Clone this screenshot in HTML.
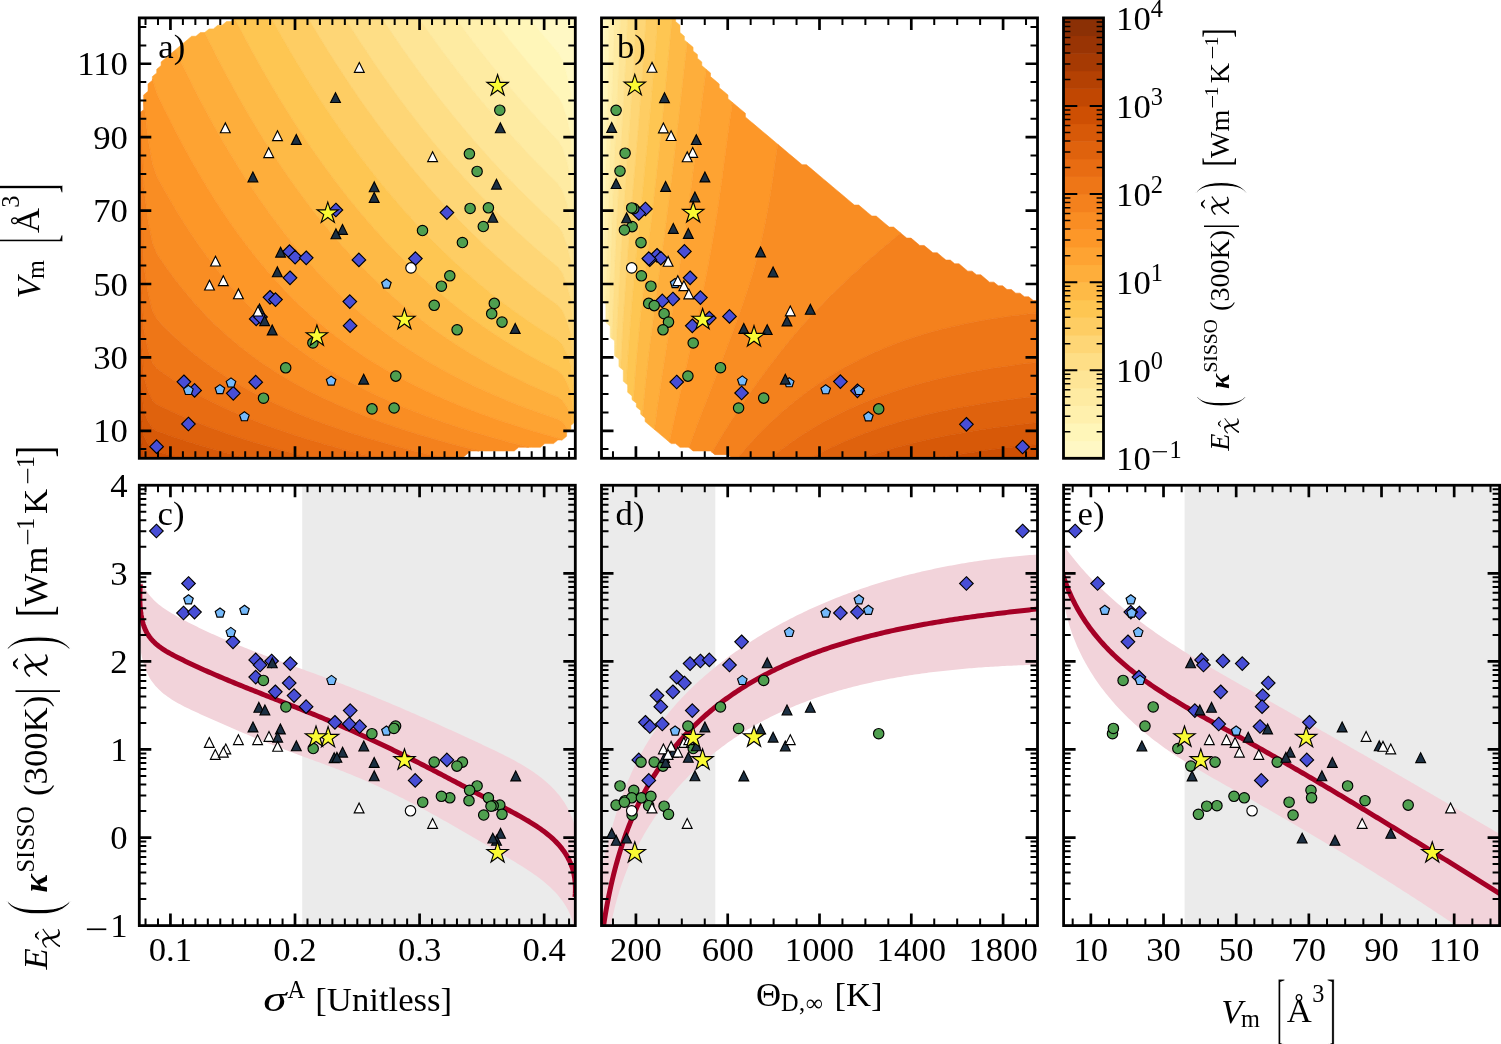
<!DOCTYPE html>
<html><head><meta charset="utf-8"><title>Figure</title>
<style>
html,body{margin:0;padding:0;background:#fff;}
body{width:1501px;height:1044px;overflow:hidden;}
svg{display:block;font-family:'Liberation Serif', 'DejaVu Serif', serif;}
svg text{fill:#000;}
</style></head><body>
<svg width="1501" height="1044" viewBox="0 0 1501 1044">
<defs>
<clipPath id="clip_a"><rect x="139.3" y="17.9" width="436" height="440.4"/></clipPath>
<clipPath id="clip_b"><rect x="601.5" y="17.9" width="436" height="440.4"/></clipPath>
<clipPath id="clip_c"><rect x="139.3" y="485.25" width="436" height="440.35"/></clipPath>
<clipPath id="clip_d"><rect x="601.5" y="485.25" width="436" height="440.35"/></clipPath>
<clipPath id="clip_e"><rect x="1063.6" y="485.25" width="436" height="440.35"/></clipPath>
</defs>
<rect width="1501" height="1044" fill="#fff"/>
<g clip-path="url(#clip_a)" shape-rendering="geometricPrecision">
<path d="M575.12 157.36L575.3 160.15L575.3 157.36L575.3 153.69L575.3 150.02L575.3 146.35L575.3 142.68L575.3 139.01L575.3 135.34L575.3 131.67L575.3 128L575.3 124.33L575.3 120.66L575.3 116.99L575.3 113.32L575.3 109.65L575.3 105.98L575.3 102.31L575.3 98.64L575.3 94.97L575.3 91.3L575.3 87.63L575.3 83.96L575.3 80.29L575.3 76.62L575.3 72.95L575.3 69.28L575.3 65.61L575.3 61.94L575.3 58.27L575.3 54.6L575.3 50.93L575.3 47.26L575.3 43.59L575.3 39.92L575.3 36.25L575.3 32.58L575.3 28.91L575.3 25.24L575.3 21.57L575.3 17.9L570.94 17.9L566.58 17.9L562.22 17.9L557.86 17.9L553.5 17.9L549.14 17.9L544.78 17.9L540.42 17.9L536.06 17.9L531.7 17.9L528.97 17.9L531.7 21.28L531.93 21.57L534.91 25.24L536.06 26.64L537.92 28.91L540.42 31.94L540.95 32.58L544 36.25L544.78 37.19L547.07 39.92L549.14 42.37L550.17 43.59L553.29 47.26L553.5 47.5L556.44 50.93L557.86 52.58L559.03 54.6L561.15 58.27L562.22 60.11L562.8 61.94L563.98 65.61L565.15 69.28L566.34 72.95L566.58 73.71L567.24 76.62L568.06 80.29L568.89 83.96L569.72 87.63L570.56 91.3L570.94 92.98L571.13 94.97L571.45 98.64L571.72 102.31L571.95 105.98L572.16 109.65L572.34 113.32L572.5 116.99L572.72 120.66L572.96 124.33L573.2 128L573.44 131.67L573.68 135.34L573.92 139.01L574.16 142.68L574.39 146.35L574.63 150.02L574.88 153.69Z" fill="#fff8c4" stroke="#fff8c4" stroke-width="0.6"/>
<path d="M575.24 201.4L575.3 202.26L575.3 201.4L575.3 197.73L575.3 194.06L575.3 190.39L575.3 186.72L575.3 183.05L575.3 179.38L575.3 175.71L575.3 172.04L575.3 168.37L575.3 164.7L575.3 161.03L575.3 160.15L575.12 157.36L574.88 153.69L574.63 150.02L574.39 146.35L574.16 142.68L573.92 139.01L573.68 135.34L573.44 131.67L573.2 128L572.96 124.33L572.72 120.66L572.5 116.99L572.34 113.32L572.16 109.65L571.95 105.98L571.72 102.31L571.45 98.64L571.13 94.97L570.94 92.98L570.56 91.3L569.72 87.63L568.89 83.96L568.06 80.29L567.24 76.62L566.58 73.71L566.34 72.95L565.15 69.28L563.98 65.61L562.8 61.94L562.22 60.11L561.15 58.27L559.03 54.6L557.86 52.58L556.44 50.93L553.5 47.5L553.29 47.26L550.17 43.59L549.14 42.37L547.07 39.92L544.78 37.19L544 36.25L540.95 32.58L540.42 31.94L537.92 28.91L536.06 26.64L534.91 25.24L531.93 21.57L531.7 21.28L528.97 17.9L527.34 17.9L522.98 17.9L518.62 17.9L514.26 17.9L509.9 17.9L505.54 17.9L501.18 17.9L496.82 17.9L492.46 17.9L492.16 17.9L492.46 18.29L494.98 21.57L496.82 23.94L497.83 25.24L500.7 28.91L501.18 29.52L503.59 32.58L505.54 35.04L506.5 36.25L509.43 39.92L509.9 40.5L512.39 43.59L514.26 45.9L515.37 47.26L518.37 50.93L518.62 51.23L521.4 54.6L522.98 56.5L524.45 58.27L527.34 61.72L527.53 61.94L530.63 65.61L531.7 66.88L533.75 69.28L536.06 71.97L536.9 72.95L540.07 76.62L540.42 77.02L543.28 80.29L544.78 82L546.5 83.96L549.14 86.94L549.76 87.63L553.04 91.3L553.5 91.81L556.35 94.97L557.86 96.64L559.06 98.64L561.26 102.31L562.22 103.91L562.89 105.98L564.09 109.65L565.3 113.32L566.51 116.99L566.58 117.21L567.37 120.66L568.21 124.33L569.06 128L569.9 131.67L570.75 135.34L570.94 136.14L571.13 139.01L571.36 142.68L571.6 146.35L571.84 150.02L572.08 153.69L572.32 157.36L572.56 161.03L572.8 164.7L573.05 168.37L573.29 172.04L573.53 175.71L573.77 179.38L574.02 183.05L574.26 186.72L574.51 190.39L574.75 194.06L575 197.73Z" fill="#fff6b9" stroke="#fff6b9" stroke-width="0.6"/>
<path d="M575.2 241.77L575.3 243.26L575.3 241.77L575.3 238.1L575.3 234.43L575.3 230.76L575.3 227.09L575.3 223.42L575.3 219.75L575.3 216.08L575.3 212.41L575.3 208.74L575.3 205.07L575.3 202.26L575.24 201.4L575 197.73L574.75 194.06L574.51 190.39L574.26 186.72L574.02 183.05L573.77 179.38L573.53 175.71L573.29 172.04L573.05 168.37L572.8 164.7L572.56 161.03L572.32 157.36L572.08 153.69L571.84 150.02L571.6 146.35L571.36 142.68L571.13 139.01L570.94 136.14L570.75 135.34L569.9 131.67L569.06 128L568.21 124.33L567.37 120.66L566.58 117.21L566.51 116.99L565.3 113.32L564.09 109.65L562.89 105.98L562.22 103.91L561.26 102.31L559.06 98.64L557.86 96.64L556.35 94.97L553.5 91.81L553.04 91.3L549.76 87.63L549.14 86.94L546.5 83.96L544.78 82L543.28 80.29L540.42 77.02L540.07 76.62L536.9 72.95L536.06 71.97L533.75 69.28L531.7 66.88L530.63 65.61L527.53 61.94L527.34 61.72L524.45 58.27L522.98 56.5L521.4 54.6L518.62 51.23L518.37 50.93L515.37 47.26L514.26 45.9L512.39 43.59L509.9 40.5L509.43 39.92L506.5 36.25L505.54 35.04L503.59 32.58L501.18 29.52L500.7 28.91L497.83 25.24L496.82 23.94L494.98 21.57L492.46 18.29L492.16 17.9L488.1 17.9L483.74 17.9L479.38 17.9L475.02 17.9L470.66 17.9L466.3 17.9L461.94 17.9L457.58 17.9L455.35 17.9L457.58 20.95L458.04 21.57L460.75 25.24L461.94 26.85L463.48 28.91L466.23 32.58L466.3 32.68L469 36.25L470.66 38.43L471.79 39.92L474.61 43.59L475.02 44.12L477.45 47.26L479.38 49.74L480.31 50.93L483.19 54.6L483.74 55.3L486.09 58.27L488.1 60.79L489.02 61.94L491.97 65.61L492.46 66.21L494.95 69.28L496.82 71.58L497.95 72.95L500.97 76.62L501.18 76.87L504.02 80.29L505.54 82.11L507.09 83.96L509.9 87.29L510.19 87.63L513.32 91.3L514.26 92.4L516.47 94.97L518.62 97.46L519.65 98.64L522.85 102.31L522.98 102.46L526.08 105.98L527.34 107.4L529.35 109.65L531.7 112.28L532.63 113.32L535.95 116.99L536.06 117.11L539.3 120.66L540.42 121.88L542.68 124.33L544.78 126.6L546.08 128L549.14 131.26L549.52 131.67L552.99 135.34L553.5 135.87L556.5 139.01L557.86 140.43L559.26 142.68L561.55 146.35L562.22 147.42L563.09 150.02L564.32 153.69L565.56 157.36L566.58 160.37L566.73 161.03L567.6 164.7L568.46 168.37L569.32 172.04L570.19 175.71L570.94 178.85L570.97 179.38L571.22 183.05L571.46 186.72L571.7 190.39L571.95 194.06L572.19 197.73L572.44 201.4L572.69 205.07L572.93 208.74L573.18 212.41L573.43 216.08L573.68 219.75L573.93 223.42L574.18 227.09L574.43 230.76L574.69 234.43L574.94 238.1Z" fill="#fff0ad" stroke="#fff0ad" stroke-width="0.6"/>
<path d="M575.28 282.14L575.3 282.44L575.3 282.14L575.3 278.47L575.3 274.8L575.3 271.13L575.3 267.46L575.3 263.79L575.3 260.12L575.3 256.45L575.3 252.78L575.3 249.11L575.3 245.44L575.3 243.26L575.2 241.77L574.94 238.1L574.69 234.43L574.43 230.76L574.18 227.09L573.93 223.42L573.68 219.75L573.43 216.08L573.18 212.41L572.93 208.74L572.69 205.07L572.44 201.4L572.19 197.73L571.95 194.06L571.7 190.39L571.46 186.72L571.22 183.05L570.97 179.38L570.94 178.85L570.19 175.71L569.32 172.04L568.46 168.37L567.6 164.7L566.73 161.03L566.58 160.37L565.56 157.36L564.32 153.69L563.09 150.02L562.22 147.42L561.55 146.35L559.26 142.68L557.86 140.43L556.5 139.01L553.5 135.87L552.99 135.34L549.52 131.67L549.14 131.26L546.08 128L544.78 126.6L542.68 124.33L540.42 121.88L539.3 120.66L536.06 117.11L535.95 116.99L532.63 113.32L531.7 112.28L529.35 109.65L527.34 107.4L526.08 105.98L522.98 102.46L522.85 102.31L519.65 98.64L518.62 97.46L516.47 94.97L514.26 92.4L513.32 91.3L510.19 87.63L509.9 87.29L507.09 83.96L505.54 82.11L504.02 80.29L501.18 76.87L500.97 76.62L497.95 72.95L496.82 71.58L494.95 69.28L492.46 66.21L491.97 65.61L489.02 61.94L488.1 60.79L486.09 58.27L483.74 55.3L483.19 54.6L480.31 50.93L479.38 49.74L477.45 47.26L475.02 44.12L474.61 43.59L471.79 39.92L470.66 38.43L469 36.25L466.3 32.68L466.23 32.58L463.48 28.91L461.94 26.85L460.75 25.24L458.04 21.57L457.58 20.95L455.35 17.9L453.22 17.9L448.86 17.9L444.5 17.9L440.14 17.9L435.78 17.9L431.42 17.9L427.06 17.9L422.7 17.9L418.54 17.9L421.09 21.57L422.7 23.87L423.66 25.24L426.26 28.91L427.06 30.04L428.87 32.58L431.42 36.14L431.5 36.25L434.15 39.92L435.78 42.15L436.83 43.59L439.52 47.26L440.14 48.1L442.24 50.93L444.5 53.96L444.98 54.6L447.73 58.27L448.86 59.76L450.52 61.94L453.22 65.48L453.32 65.61L456.14 69.28L457.58 71.13L458.99 72.95L461.87 76.62L461.94 76.71L464.76 80.29L466.3 82.23L467.68 83.96L470.62 87.63L470.66 87.67L473.59 91.3L475.02 93.05L476.59 94.97L479.38 98.37L479.61 98.64L482.65 102.31L483.74 103.61L485.72 105.98L488.1 108.8L488.82 109.65L491.95 113.32L492.46 113.92L495.1 116.99L496.82 118.98L498.28 120.66L501.18 123.98L501.49 124.33L504.73 128L505.54 128.92L507.99 131.67L509.9 133.79L511.29 135.34L514.26 138.61L514.62 139.01L517.98 142.68L518.62 143.38L521.37 146.35L522.98 148.08L524.79 150.02L527.34 152.73L528.25 153.69L531.7 157.32L531.74 157.36L535.26 161.03L536.06 161.86L538.82 164.7L540.42 166.34L542.42 168.37L544.78 170.76L546.05 172.04L549.14 175.14L549.71 175.71L553.42 179.38L553.5 179.46L557.16 183.05L557.86 183.73L559.81 186.72L562.22 190.39L562.22 190.39L563.49 194.06L564.77 197.73L566.06 201.4L566.58 202.88L567.11 205.07L568 208.74L568.89 212.41L569.79 216.08L570.69 219.75L570.94 220.74L571.12 223.42L571.37 227.09L571.62 230.76L571.88 234.43L572.13 238.1L572.38 241.77L572.64 245.44L572.9 249.11L573.16 252.78L573.42 256.45L573.68 260.12L573.94 263.79L574.2 267.46L574.47 271.13L574.74 274.8L575.01 278.47Z" fill="#feeba2" stroke="#feeba2" stroke-width="0.6"/>
<path d="M575.3 318.84L575.3 318.88L575.3 318.84L575.3 315.17L575.3 311.5L575.3 307.83L575.3 304.16L575.3 300.49L575.3 296.82L575.3 293.15L575.3 289.48L575.3 285.81L575.3 282.44L575.28 282.14L575.01 278.47L574.74 274.8L574.47 271.13L574.2 267.46L573.94 263.79L573.68 260.12L573.42 256.45L573.16 252.78L572.9 249.11L572.64 245.44L572.38 241.77L572.13 238.1L571.88 234.43L571.62 230.76L571.37 227.09L571.12 223.42L570.94 220.74L570.69 219.75L569.79 216.08L568.89 212.41L568 208.74L567.11 205.07L566.58 202.88L566.06 201.4L564.77 197.73L563.49 194.06L562.22 190.39L562.22 190.39L559.81 186.72L557.86 183.73L557.16 183.05L553.5 179.46L553.42 179.38L549.71 175.71L549.14 175.14L546.05 172.04L544.78 170.76L542.42 168.37L540.42 166.34L538.82 164.7L536.06 161.86L535.26 161.03L531.74 157.36L531.7 157.32L528.25 153.69L527.34 152.73L524.79 150.02L522.98 148.08L521.37 146.35L518.62 143.38L517.98 142.68L514.62 139.01L514.26 138.61L511.29 135.34L509.9 133.79L507.99 131.67L505.54 128.92L504.73 128L501.49 124.33L501.18 123.98L498.28 120.66L496.82 118.98L495.1 116.99L492.46 113.92L491.95 113.32L488.82 109.65L488.1 108.8L485.72 105.98L483.74 103.61L482.65 102.31L479.61 98.64L479.38 98.37L476.59 94.97L475.02 93.05L473.59 91.3L470.66 87.67L470.62 87.63L467.68 83.96L466.3 82.23L464.76 80.29L461.94 76.71L461.87 76.62L458.99 72.95L457.58 71.13L456.14 69.28L453.32 65.61L453.22 65.48L450.52 61.94L448.86 59.76L447.73 58.27L444.98 54.6L444.5 53.96L442.24 50.93L440.14 48.1L439.52 47.26L436.83 43.59L435.78 42.15L434.15 39.92L431.5 36.25L431.42 36.14L428.87 32.58L427.06 30.04L426.26 28.91L423.66 25.24L422.7 23.87L421.09 21.57L418.54 17.9L418.34 17.9L413.98 17.9L409.62 17.9L405.26 17.9L400.9 17.9L396.54 17.9L392.18 17.9L387.82 17.9L383.46 17.9L381.72 17.9L383.46 20.54L384.14 21.57L386.58 25.24L387.82 27.1L389.04 28.91L391.51 32.58L392.18 33.57L394 36.25L396.52 39.92L396.54 39.96L399.05 43.59L400.9 46.26L401.6 47.26L404.17 50.93L405.26 52.47L406.76 54.6L409.38 58.27L409.62 58.61L412.01 61.94L413.98 64.67L414.67 65.61L417.34 69.28L418.34 70.64L420.04 72.95L422.7 76.54L422.76 76.62L425.5 80.29L427.06 82.36L428.27 83.96L431.06 87.63L431.42 88.1L433.87 91.3L435.78 93.77L436.71 94.97L439.57 98.64L440.14 99.37L442.45 102.31L444.5 104.9L445.36 105.98L448.3 109.65L448.86 110.35L451.26 113.32L453.22 115.73L454.24 116.99L457.26 120.66L457.58 121.05L460.3 124.33L461.94 126.3L463.37 128L466.3 131.48L466.46 131.67L469.59 135.34L470.66 136.59L472.74 139.01L475.02 141.64L475.93 142.68L479.14 146.35L479.38 146.62L482.39 150.02L483.74 151.54L485.66 153.69L488.1 156.4L488.97 157.36L492.31 161.03L492.46 161.19L495.69 164.7L496.82 165.92L499.1 168.37L501.18 170.6L502.54 172.04L505.54 175.21L506.02 175.71L509.53 179.38L509.9 179.76L513.08 183.05L514.26 184.26L516.67 186.72L518.62 188.69L520.3 190.39L522.98 193.07L523.97 194.06L527.34 197.39L527.68 197.73L531.43 201.4L531.7 201.66L535.22 205.07L536.06 205.87L539.06 208.74L540.42 210.03L542.94 212.41L544.78 214.13L546.87 216.08L549.14 218.18L550.85 219.75L553.5 222.17L554.87 223.42L557.86 226.11L558.54 227.09L561.09 230.76L562.22 232.37L562.97 234.43L564.31 238.1L565.66 241.77L566.58 244.26L566.88 245.44L567.81 249.11L568.75 252.78L569.7 256.45L570.65 260.12L570.94 261.23L571.12 263.79L571.39 267.46L571.65 271.13L571.92 274.8L572.19 278.47L572.46 282.14L572.73 285.81L573 289.48L573.28 293.15L573.56 296.82L573.84 300.49L574.13 304.16L574.42 307.83L574.71 311.5L575 315.17Z" fill="#fee596" stroke="#fee596" stroke-width="0.6"/>
<path d="M574.98 348.2L575.3 351.7L575.3 348.2L575.3 344.53L575.3 340.86L575.3 337.19L575.3 333.52L575.3 329.85L575.3 326.18L575.3 322.51L575.3 318.88L575.3 318.84L575 315.17L574.71 311.5L574.42 307.83L574.13 304.16L573.84 300.49L573.56 296.82L573.28 293.15L573 289.48L572.73 285.81L572.46 282.14L572.19 278.47L571.92 274.8L571.65 271.13L571.39 267.46L571.12 263.79L570.94 261.23L570.65 260.12L569.7 256.45L568.75 252.78L567.81 249.11L566.88 245.44L566.58 244.26L565.66 241.77L564.31 238.1L562.97 234.43L562.22 232.37L561.09 230.76L558.54 227.09L557.86 226.11L554.87 223.42L553.5 222.17L550.85 219.75L549.14 218.18L546.87 216.08L544.78 214.13L542.94 212.41L540.42 210.03L539.06 208.74L536.06 205.87L535.22 205.07L531.7 201.66L531.43 201.4L527.68 197.73L527.34 197.39L523.97 194.06L522.98 193.07L520.3 190.39L518.62 188.69L516.67 186.72L514.26 184.26L513.08 183.05L509.9 179.76L509.53 179.38L506.02 175.71L505.54 175.21L502.54 172.04L501.18 170.6L499.1 168.37L496.82 165.92L495.69 164.7L492.46 161.19L492.31 161.03L488.97 157.36L488.1 156.4L485.66 153.69L483.74 151.54L482.39 150.02L479.38 146.62L479.14 146.35L475.93 142.68L475.02 141.64L472.74 139.01L470.66 136.59L469.59 135.34L466.46 131.67L466.3 131.48L463.37 128L461.94 126.3L460.3 124.33L457.58 121.05L457.26 120.66L454.24 116.99L453.22 115.73L451.26 113.32L448.86 110.35L448.3 109.65L445.36 105.98L444.5 104.9L442.45 102.31L440.14 99.37L439.57 98.64L436.71 94.97L435.78 93.77L433.87 91.3L431.42 88.1L431.06 87.63L428.27 83.96L427.06 82.36L425.5 80.29L422.76 76.62L422.7 76.54L420.04 72.95L418.34 70.64L417.34 69.28L414.67 65.61L413.98 64.67L412.01 61.94L409.62 58.61L409.38 58.27L406.76 54.6L405.26 52.47L404.17 50.93L401.6 47.26L400.9 46.26L399.05 43.59L396.54 39.96L396.52 39.92L394 36.25L392.18 33.57L391.51 32.58L389.04 28.91L387.82 27.1L386.58 25.24L384.14 21.57L383.46 20.54L381.72 17.9L379.1 17.9L374.74 17.9L370.38 17.9L366.02 17.9L361.66 17.9L357.3 17.9L352.94 17.9L348.58 17.9L344.91 17.9L347.2 21.57L348.58 23.78L349.5 25.24L351.81 28.91L352.94 30.68L354.15 32.58L356.5 36.25L357.3 37.49L358.88 39.92L361.27 43.59L361.66 44.19L363.68 47.26L366.02 50.8L366.1 50.93L368.55 54.6L370.38 57.32L371.02 58.27L373.51 61.94L374.74 63.75L376.01 65.61L378.54 69.28L379.1 70.09L381.09 72.95L383.46 76.34L383.66 76.62L386.25 80.29L387.82 82.5L388.86 83.96L391.49 87.63L392.18 88.58L394.15 91.3L396.54 94.58L396.83 94.97L399.53 98.64L400.9 100.49L402.25 102.31L405 105.98L405.26 106.33L407.77 109.65L409.62 112.08L410.57 113.32L413.39 116.99L413.98 117.75L416.24 120.66L418.34 123.35L419.11 124.33L422.01 128L422.7 128.87L424.94 131.67L427.06 134.31L427.89 135.34L430.87 139.01L431.42 139.68L433.88 142.68L435.78 144.98L436.91 146.35L439.98 150.02L440.14 150.21L443.08 153.69L444.5 155.36L446.2 157.36L448.86 160.45L449.36 161.03L452.55 164.7L453.22 165.46L455.78 168.37L457.58 170.41L459.03 172.04L461.94 175.29L462.32 175.71L465.64 179.38L466.3 180.1L469 183.05L470.66 184.84L472.4 186.72L475.02 189.53L475.83 190.39L479.3 194.06L479.38 194.14L482.81 197.73L483.74 198.69L486.36 201.4L488.1 203.18L489.95 205.07L492.46 207.61L493.58 208.74L496.82 211.97L497.26 212.41L500.98 216.08L501.18 216.28L504.75 219.75L505.54 220.52L508.56 223.42L509.9 224.7L512.42 227.09L514.26 228.82L516.33 230.76L518.62 232.89L520.29 234.43L522.98 236.89L524.3 238.1L527.34 240.84L528.37 241.77L531.7 244.73L532.5 245.44L536.06 248.57L536.68 249.11L540.42 252.35L540.92 252.78L544.78 256.07L545.22 256.45L549.14 259.74L549.59 260.12L553.5 263.36L554.02 263.79L557.86 266.92L558.26 267.46L561.04 271.13L562.22 272.68L563.05 274.8L564.49 278.47L565.94 282.14L566.58 283.74L567.14 285.81L568.15 289.48L569.17 293.15L570.2 296.82L570.94 299.45L571.02 300.49L571.3 304.16L571.59 307.83L571.88 311.5L572.17 315.17L572.47 318.84L572.77 322.51L573.07 326.18L573.38 329.85L573.69 333.52L574.01 337.19L574.33 340.86L574.65 344.53Z" fill="#fede86" stroke="#fede86" stroke-width="0.6"/>
<path d="M575 377.56L575.3 380.39L575.3 377.56L575.3 373.89L575.3 370.22L575.3 366.55L575.3 362.88L575.3 359.21L575.3 355.54L575.3 351.87L575.3 351.7L574.98 348.2L574.65 344.53L574.33 340.86L574.01 337.19L573.69 333.52L573.38 329.85L573.07 326.18L572.77 322.51L572.47 318.84L572.17 315.17L571.88 311.5L571.59 307.83L571.3 304.16L571.02 300.49L570.94 299.45L570.2 296.82L569.17 293.15L568.15 289.48L567.14 285.81L566.58 283.74L565.94 282.14L564.49 278.47L563.05 274.8L562.22 272.68L561.04 271.13L558.26 267.46L557.86 266.92L554.02 263.79L553.5 263.36L549.59 260.12L549.14 259.74L545.22 256.45L544.78 256.07L540.92 252.78L540.42 252.35L536.68 249.11L536.06 248.57L532.5 245.44L531.7 244.73L528.37 241.77L527.34 240.84L524.3 238.1L522.98 236.89L520.29 234.43L518.62 232.89L516.33 230.76L514.26 228.82L512.42 227.09L509.9 224.7L508.56 223.42L505.54 220.52L504.75 219.75L501.18 216.28L500.98 216.08L497.26 212.41L496.82 211.97L493.58 208.74L492.46 207.61L489.95 205.07L488.1 203.18L486.36 201.4L483.74 198.69L482.81 197.73L479.38 194.14L479.3 194.06L475.83 190.39L475.02 189.53L472.4 186.72L470.66 184.84L469 183.05L466.3 180.1L465.64 179.38L462.32 175.71L461.94 175.29L459.03 172.04L457.58 170.41L455.78 168.37L453.22 165.46L452.55 164.7L449.36 161.03L448.86 160.45L446.2 157.36L444.5 155.36L443.08 153.69L440.14 150.21L439.98 150.02L436.91 146.35L435.78 144.98L433.88 142.68L431.42 139.68L430.87 139.01L427.89 135.34L427.06 134.31L424.94 131.67L422.7 128.87L422.01 128L419.11 124.33L418.34 123.35L416.24 120.66L413.98 117.75L413.39 116.99L410.57 113.32L409.62 112.08L407.77 109.65L405.26 106.33L405 105.98L402.25 102.31L400.9 100.49L399.53 98.64L396.83 94.97L396.54 94.58L394.15 91.3L392.18 88.58L391.49 87.63L388.86 83.96L387.82 82.5L386.25 80.29L383.66 76.62L383.46 76.34L381.09 72.95L379.1 70.09L378.54 69.28L376.01 65.61L374.74 63.75L373.51 61.94L371.02 58.27L370.38 57.32L368.55 54.6L366.1 50.93L366.02 50.8L363.68 47.26L361.66 44.19L361.27 43.59L358.88 39.92L357.3 37.49L356.5 36.25L354.15 32.58L352.94 30.68L351.81 28.91L349.5 25.24L348.58 23.78L347.2 21.57L344.91 17.9L344.22 17.9L339.86 17.9L335.5 17.9L331.14 17.9L326.78 17.9L322.42 17.9L318.06 17.9L313.7 17.9L309.34 17.9L308.1 17.9L309.34 20.02L310.25 21.57L312.41 25.24L313.7 27.41L314.59 28.91L316.79 32.58L318.06 34.69L319 36.25L321.24 39.92L322.42 41.85L323.49 43.59L325.75 47.26L326.78 48.91L328.04 50.93L330.34 54.6L331.14 55.87L332.66 58.27L335 61.94L335.5 62.72L337.36 65.61L339.74 69.28L339.86 69.47L342.13 72.95L344.22 76.12L344.55 76.62L346.99 80.29L348.58 82.67L349.45 83.96L351.93 87.63L352.94 89.12L354.42 91.3L356.95 94.97L357.3 95.48L359.49 98.64L361.66 101.75L362.05 102.31L364.64 105.98L366.02 107.93L367.25 109.65L369.88 113.32L370.38 114.01L372.54 116.99L374.74 120.01L375.22 120.66L377.92 124.33L379.1 125.92L380.65 128L383.41 131.67L383.46 131.74L386.19 135.34L387.82 137.48L388.99 139.01L391.83 142.68L392.18 143.14L394.69 146.35L396.54 148.71L397.58 150.02L400.49 153.69L400.9 154.2L403.44 157.36L405.26 159.61L406.41 161.03L409.42 164.7L409.62 164.94L412.46 168.37L413.98 170.2L415.52 172.04L418.34 175.38L418.62 175.71L421.76 179.38L422.7 180.48L424.92 183.05L427.06 185.5L428.12 186.72L431.36 190.39L431.42 190.46L434.63 194.06L435.78 195.33L437.94 197.73L440.14 200.14L441.29 201.4L444.5 204.88L444.68 205.07L448.11 208.74L448.86 209.54L451.58 212.41L453.22 214.13L455.09 216.08L457.58 218.66L458.64 219.75L461.94 223.11L462.24 223.42L465.89 227.09L466.3 227.5L469.58 230.76L470.66 231.82L473.33 234.43L475.02 236.07L477.12 238.1L479.38 240.26L480.96 241.77L483.74 244.39L484.86 245.44L488.1 248.45L488.82 249.11L492.46 252.44L492.83 252.78L496.82 256.38L496.9 256.45L501.04 260.12L501.18 260.25L505.23 263.79L505.54 264.06L509.5 267.46L509.9 267.8L513.83 271.13L514.26 271.49L518.23 274.8L518.62 275.12L522.7 278.47L522.98 278.69L527.26 282.14L527.34 282.21L531.7 285.66L531.89 285.81L536.06 289.06L536.6 289.48L540.42 292.4L541.4 293.15L544.78 295.69L546.29 296.82L549.14 298.93L551.27 300.49L553.5 302.11L556.35 304.16L557.86 305.23L560.04 307.83L562.22 310.38L562.7 311.5L564.29 315.17L565.9 318.84L566.58 320.37L567.23 322.51L568.35 326.18L569.48 329.85L570.64 333.52L570.94 334.47L571.17 337.19L571.49 340.86L571.82 344.53L572.15 348.2L572.48 351.87L572.82 355.54L573.17 359.21L573.52 362.88L573.88 366.55L574.24 370.22L574.62 373.89Z" fill="#fed676" stroke="#fed676" stroke-width="0.6"/>
<path d="M575.09 403.25L575.3 404.96L575.3 403.25L575.3 399.58L575.3 395.91L575.3 392.24L575.3 388.57L575.3 384.9L575.3 381.23L575.3 380.39L575 377.56L574.62 373.89L574.24 370.22L573.88 366.55L573.52 362.88L573.17 359.21L572.82 355.54L572.48 351.87L572.15 348.2L571.82 344.53L571.49 340.86L571.17 337.19L570.94 334.47L570.64 333.52L569.48 329.85L568.35 326.18L567.23 322.51L566.58 320.37L565.9 318.84L564.29 315.17L562.7 311.5L562.22 310.38L560.04 307.83L557.86 305.23L556.35 304.16L553.5 302.11L551.27 300.49L549.14 298.93L546.29 296.82L544.78 295.69L541.4 293.15L540.42 292.4L536.6 289.48L536.06 289.06L531.89 285.81L531.7 285.66L527.34 282.21L527.26 282.14L522.98 278.69L522.7 278.47L518.62 275.12L518.23 274.8L514.26 271.49L513.83 271.13L509.9 267.8L509.5 267.46L505.54 264.06L505.23 263.79L501.18 260.25L501.04 260.12L496.9 256.45L496.82 256.38L492.83 252.78L492.46 252.44L488.82 249.11L488.1 248.45L484.86 245.44L483.74 244.39L480.96 241.77L479.38 240.26L477.12 238.1L475.02 236.07L473.33 234.43L470.66 231.82L469.58 230.76L466.3 227.5L465.89 227.09L462.24 223.42L461.94 223.11L458.64 219.75L457.58 218.66L455.09 216.08L453.22 214.13L451.58 212.41L448.86 209.54L448.11 208.74L444.68 205.07L444.5 204.88L441.29 201.4L440.14 200.14L437.94 197.73L435.78 195.33L434.63 194.06L431.42 190.46L431.36 190.39L428.12 186.72L427.06 185.5L424.92 183.05L422.7 180.48L421.76 179.38L418.62 175.71L418.34 175.38L415.52 172.04L413.98 170.2L412.46 168.37L409.62 164.94L409.42 164.7L406.41 161.03L405.26 159.61L403.44 157.36L400.9 154.2L400.49 153.69L397.58 150.02L396.54 148.71L394.69 146.35L392.18 143.14L391.83 142.68L388.99 139.01L387.82 137.48L386.19 135.34L383.46 131.74L383.41 131.67L380.65 128L379.1 125.92L377.92 124.33L375.22 120.66L374.74 120.01L372.54 116.99L370.38 114.01L369.88 113.32L367.25 109.65L366.02 107.93L364.64 105.98L362.05 102.31L361.66 101.75L359.49 98.64L357.3 95.48L356.95 94.97L354.42 91.3L352.94 89.12L351.93 87.63L349.45 83.96L348.58 82.67L346.99 80.29L344.55 76.62L344.22 76.12L342.13 72.95L339.86 69.47L339.74 69.28L337.36 65.61L335.5 62.72L335 61.94L332.66 58.27L331.14 55.87L330.34 54.6L328.04 50.93L326.78 48.91L325.75 47.26L323.49 43.59L322.42 41.85L321.24 39.92L319 36.25L318.06 34.69L316.79 32.58L314.59 28.91L313.7 27.41L312.41 25.24L310.25 21.57L309.34 20.02L308.1 17.9L304.98 17.9L300.62 17.9L296.26 17.9L291.9 17.9L287.54 17.9L283.18 17.9L278.82 17.9L274.46 17.9L271.29 17.9L273.3 21.57L274.46 23.67L275.33 25.24L277.37 28.91L278.82 31.49L279.43 32.58L281.51 36.25L283.18 39.19L283.6 39.92L285.7 43.59L287.54 46.76L287.83 47.26L289.97 50.93L291.9 54.21L292.13 54.6L294.3 58.27L296.26 61.55L296.5 61.94L298.71 65.61L300.62 68.76L300.93 69.28L303.18 72.95L304.98 75.87L305.45 76.62L307.73 80.29L309.34 82.86L310.04 83.96L312.36 87.63L313.7 89.73L314.7 91.3L317.06 94.97L318.06 96.51L319.45 98.64L321.85 102.31L322.42 103.17L324.28 105.98L326.72 109.65L326.78 109.73L329.19 113.32L331.14 116.19L331.68 116.99L334.2 120.66L335.5 122.55L336.73 124.33L339.29 128L339.86 128.81L341.88 131.67L344.22 134.97L344.48 135.34L347.12 139.01L348.58 141.03L349.78 142.68L352.46 146.35L352.94 147L355.17 150.02L357.3 152.88L357.91 153.69L360.67 157.36L361.66 158.66L363.46 161.03L366.02 164.36L366.28 164.7L369.13 168.37L370.38 169.96L372.02 172.04L374.74 175.48L374.93 175.71L377.87 179.38L379.1 180.9L380.84 183.05L383.46 186.25L383.85 186.72L386.89 190.39L387.82 191.5L389.97 194.06L392.18 196.68L393.08 197.73L396.22 201.4L396.54 201.77L399.41 205.07L400.9 206.77L402.63 208.74L405.26 211.7L405.89 212.41L409.2 216.08L409.62 216.55L412.54 219.75L413.98 221.31L415.93 223.42L418.34 226L419.36 227.09L422.7 230.62L422.84 230.76L426.36 234.43L427.06 235.15L429.93 238.1L431.42 239.61L433.56 241.77L435.78 244L437.23 245.44L440.14 248.31L440.96 249.11L444.5 252.55L444.74 252.78L448.58 256.45L448.86 256.71L452.48 260.12L453.22 260.81L456.44 263.79L457.58 264.83L460.47 267.46L461.94 268.79L464.56 271.13L466.3 272.67L468.72 274.8L470.66 276.49L472.95 278.47L475.02 280.24L477.25 282.14L479.38 283.93L481.63 285.81L483.74 287.55L486.09 289.48L488.1 291.11L490.64 293.15L492.46 294.6L495.27 296.82L496.82 298.03L499.99 300.49L501.18 301.4L504.8 304.16L505.54 304.71L509.72 307.83L509.9 307.96L514.26 311.15L514.73 311.5L518.62 314.29L519.86 315.17L522.98 317.36L525.09 318.84L527.34 320.39L530.45 322.51L531.7 323.35L535.92 326.18L536.06 326.27L540.42 329.13L541.52 329.85L544.78 331.94L547.26 333.52L549.14 334.7L553.14 337.19L553.5 337.41L557.86 340.07L558.62 340.86L562.22 344.53L562.22 344.53L564.03 348.2L565.87 351.87L566.58 353.25L567.37 355.54L568.66 359.21L569.97 362.88L570.94 365.53L571.04 366.55L571.41 370.22L571.78 373.89L572.16 377.56L572.55 381.23L572.95 384.9L573.35 388.57L573.77 392.24L574.2 395.91L574.64 399.58Z" fill="#fecd63" stroke="#fecd63" stroke-width="0.6"/>
<path d="M574.75 422.06L575.3 421.6L575.3 417.93L575.3 414.26L575.3 410.59L575.3 406.92L575.3 404.96L575.09 403.25L574.64 399.58L574.2 395.91L573.77 392.24L573.35 388.57L572.95 384.9L572.55 381.23L572.16 377.56L571.78 373.89L571.41 370.22L571.04 366.55L570.94 365.53L569.97 362.88L568.66 359.21L567.37 355.54L566.58 353.25L565.87 351.87L564.03 348.2L562.22 344.53L562.22 344.53L558.62 340.86L557.86 340.07L553.5 337.41L553.14 337.19L549.14 334.7L547.26 333.52L544.78 331.94L541.52 329.85L540.42 329.13L536.06 326.27L535.92 326.18L531.7 323.35L530.45 322.51L527.34 320.39L525.09 318.84L522.98 317.36L519.86 315.17L518.62 314.29L514.73 311.5L514.26 311.15L509.9 307.96L509.72 307.83L505.54 304.71L504.8 304.16L501.18 301.4L499.99 300.49L496.82 298.03L495.27 296.82L492.46 294.6L490.64 293.15L488.1 291.11L486.09 289.48L483.74 287.55L481.63 285.81L479.38 283.93L477.25 282.14L475.02 280.24L472.95 278.47L470.66 276.49L468.72 274.8L466.3 272.67L464.56 271.13L461.94 268.79L460.47 267.46L457.58 264.83L456.44 263.79L453.22 260.81L452.48 260.12L448.86 256.71L448.58 256.45L444.74 252.78L444.5 252.55L440.96 249.11L440.14 248.31L437.23 245.44L435.78 244L433.56 241.77L431.42 239.61L429.93 238.1L427.06 235.15L426.36 234.43L422.84 230.76L422.7 230.62L419.36 227.09L418.34 226L415.93 223.42L413.98 221.31L412.54 219.75L409.62 216.55L409.2 216.08L405.89 212.41L405.26 211.7L402.63 208.74L400.9 206.77L399.41 205.07L396.54 201.77L396.22 201.4L393.08 197.73L392.18 196.68L389.97 194.06L387.82 191.5L386.89 190.39L383.85 186.72L383.46 186.25L380.84 183.05L379.1 180.9L377.87 179.38L374.93 175.71L374.74 175.48L372.02 172.04L370.38 169.96L369.13 168.37L366.28 164.7L366.02 164.36L363.46 161.03L361.66 158.66L360.67 157.36L357.91 153.69L357.3 152.88L355.17 150.02L352.94 147L352.46 146.35L349.78 142.68L348.58 141.03L347.12 139.01L344.48 135.34L344.22 134.97L341.88 131.67L339.86 128.81L339.29 128L336.73 124.33L335.5 122.55L334.2 120.66L331.68 116.99L331.14 116.19L329.19 113.32L326.78 109.73L326.72 109.65L324.28 105.98L322.42 103.17L321.85 102.31L319.45 98.64L318.06 96.51L317.06 94.97L314.7 91.3L313.7 89.73L312.36 87.63L310.04 83.96L309.34 82.86L307.73 80.29L305.45 76.62L304.98 75.87L303.18 72.95L300.93 69.28L300.62 68.76L298.71 65.61L296.5 61.94L296.26 61.55L294.3 58.27L292.13 54.6L291.9 54.21L289.97 50.93L287.83 47.26L287.54 46.76L285.7 43.59L283.6 39.92L283.18 39.19L281.51 36.25L279.43 32.58L278.82 31.49L277.37 28.91L275.33 25.24L274.46 23.67L273.3 21.57L271.29 17.9L270.1 17.9L265.74 17.9L261.38 17.9L257.02 17.9L252.66 17.9L248.3 17.9L243.94 17.9L239.58 17.9L235.22 17.9L234.7 18.34L235.22 19.36L236.35 21.57L238.24 25.24L239.58 27.81L240.15 28.91L242.07 32.58L243.94 36.12L244.01 36.25L245.96 39.92L247.92 43.59L248.3 44.29L249.9 47.26L251.9 50.93L252.66 52.31L253.92 54.6L255.94 58.27L257.02 60.2L257.99 61.94L260.05 65.61L261.38 67.96L262.13 69.28L264.23 72.95L265.74 75.58L266.34 76.62L268.47 80.29L270.1 83.07L270.62 83.96L272.79 87.63L274.46 90.43L274.98 91.3L277.18 94.97L278.82 97.67L279.41 98.64L281.65 102.31L283.18 104.79L283.92 105.98L286.2 109.65L287.54 111.79L288.5 113.32L290.83 116.99L291.9 118.67L293.18 120.66L295.54 124.33L296.26 125.43L297.93 128L300.35 131.67L300.62 132.08L302.78 135.34L304.98 138.62L305.24 139.01L307.72 142.68L309.34 145.05L310.23 146.35L312.76 150.02L313.7 151.37L315.32 153.69L317.9 157.36L318.06 157.58L320.51 161.03L322.42 163.69L323.15 164.7L325.81 168.37L326.78 169.69L328.51 172.04L331.14 175.59L331.23 175.71L333.98 179.38L335.5 181.39L336.76 183.05L339.57 186.72L339.86 187.09L342.42 190.39L344.22 192.69L345.3 194.06L348.21 197.73L348.58 198.2L351.15 201.4L352.94 203.6L354.14 205.07L357.15 208.74L357.3 208.92L360.21 212.41L361.66 214.14L363.3 216.08L366.02 219.26L366.44 219.75L369.61 223.42L370.38 224.3L372.83 227.09L374.74 229.25L376.09 230.76L379.1 234.1L379.39 234.43L382.75 238.1L383.46 238.87L386.15 241.77L387.82 243.55L389.6 245.44L392.18 248.15L393.1 249.11L396.54 252.67L396.65 252.78L400.26 256.45L400.9 257.09L403.93 260.12L405.26 261.44L407.65 263.79L409.62 265.7L411.44 267.46L413.98 269.89L415.29 271.13L418.34 273.99L419.2 274.8L422.7 278.02L423.19 278.47L427.06 281.97L427.25 282.14L431.38 285.81L431.42 285.85L435.59 289.48L435.78 289.65L439.87 293.15L440.14 293.37L444.25 296.82L444.5 297.03L448.71 300.49L448.86 300.61L453.22 304.13L453.26 304.16L457.58 307.57L457.91 307.83L461.94 310.95L462.66 311.5L466.3 314.26L467.51 315.17L470.66 317.51L472.47 318.84L475.02 320.69L477.54 322.51L479.38 323.81L482.74 326.18L483.74 326.87L488.06 329.85L488.1 329.88L492.46 332.82L493.51 333.52L496.82 335.7L499.1 337.19L501.18 338.53L504.83 340.86L505.54 341.3L509.9 344.02L510.72 344.53L514.26 346.68L516.76 348.2L518.62 349.3L522.98 351.87L522.98 351.87L527.34 354.38L529.36 355.54L531.7 356.85L535.94 359.21L536.06 359.28L540.42 361.65L542.71 362.88L544.78 363.98L549.14 366.27L549.68 366.55L553.5 368.51L556.87 370.22L557.86 370.71L561.53 373.89L562.22 374.48L564 377.56L566.17 381.23L566.58 381.91L567.79 384.9L569.32 388.57L570.89 392.24L570.94 392.36L571.35 395.91L571.79 399.58L572.24 403.25L572.7 406.92L573.17 410.59L573.66 414.26L574.16 417.93L574.68 421.6Z" fill="#fec652" stroke="#fec652" stroke-width="0.6"/>
<path d="M572.21 424.2L574.75 422.06L574.68 421.6L574.16 417.93L573.66 414.26L573.17 410.59L572.7 406.92L572.24 403.25L571.79 399.58L571.35 395.91L570.94 392.36L570.89 392.24L569.32 388.57L567.79 384.9L566.58 381.91L566.17 381.23L564 377.56L562.22 374.48L561.53 373.89L557.86 370.71L556.87 370.22L553.5 368.51L549.68 366.55L549.14 366.27L544.78 363.98L542.71 362.88L540.42 361.65L536.06 359.28L535.94 359.21L531.7 356.85L529.36 355.54L527.34 354.38L522.98 351.87L522.98 351.87L518.62 349.3L516.76 348.2L514.26 346.68L510.72 344.53L509.9 344.02L505.54 341.3L504.83 340.86L501.18 338.53L499.1 337.19L496.82 335.7L493.51 333.52L492.46 332.82L488.1 329.88L488.06 329.85L483.74 326.87L482.74 326.18L479.38 323.81L477.54 322.51L475.02 320.69L472.47 318.84L470.66 317.51L467.51 315.17L466.3 314.26L462.66 311.5L461.94 310.95L457.91 307.83L457.58 307.57L453.26 304.16L453.22 304.13L448.86 300.61L448.71 300.49L444.5 297.03L444.25 296.82L440.14 293.37L439.87 293.15L435.78 289.65L435.59 289.48L431.42 285.85L431.38 285.81L427.25 282.14L427.06 281.97L423.19 278.47L422.7 278.02L419.2 274.8L418.34 273.99L415.29 271.13L413.98 269.89L411.44 267.46L409.62 265.7L407.65 263.79L405.26 261.44L403.93 260.12L400.9 257.09L400.26 256.45L396.65 252.78L396.54 252.67L393.1 249.11L392.18 248.15L389.6 245.44L387.82 243.55L386.15 241.77L383.46 238.87L382.75 238.1L379.39 234.43L379.1 234.1L376.09 230.76L374.74 229.25L372.83 227.09L370.38 224.3L369.61 223.42L366.44 219.75L366.02 219.26L363.3 216.08L361.66 214.14L360.21 212.41L357.3 208.92L357.15 208.74L354.14 205.07L352.94 203.6L351.15 201.4L348.58 198.2L348.21 197.73L345.3 194.06L344.22 192.69L342.42 190.39L339.86 187.09L339.57 186.72L336.76 183.05L335.5 181.39L333.98 179.38L331.23 175.71L331.14 175.59L328.51 172.04L326.78 169.69L325.81 168.37L323.15 164.7L322.42 163.69L320.51 161.03L318.06 157.58L317.9 157.36L315.32 153.69L313.7 151.37L312.76 150.02L310.23 146.35L309.34 145.05L307.72 142.68L305.24 139.01L304.98 138.62L302.78 135.34L300.62 132.08L300.35 131.67L297.93 128L296.26 125.43L295.54 124.33L293.18 120.66L291.9 118.67L290.83 116.99L288.5 113.32L287.54 111.79L286.2 109.65L283.92 105.98L283.18 104.79L281.65 102.31L279.41 98.64L278.82 97.67L277.18 94.97L274.98 91.3L274.46 90.43L272.79 87.63L270.62 83.96L270.1 83.07L268.47 80.29L266.34 76.62L265.74 75.58L264.23 72.95L262.13 69.28L261.38 67.96L260.05 65.61L257.99 61.94L257.02 60.2L255.94 58.27L253.92 54.6L252.66 52.31L251.9 50.93L249.9 47.26L248.3 44.29L247.92 43.59L245.96 39.92L244.01 36.25L243.94 36.12L242.07 32.58L240.15 28.91L239.58 27.81L238.24 25.24L236.35 21.57L235.22 19.36L234.7 18.34L230.86 21.57L226.5 21.57L222.14 25.24L217.78 25.24L213.42 28.91L209.06 28.91L204.71 32.57L204.71 32.58L206.51 36.25L208.32 39.92L209.06 41.42L210.14 43.59L211.98 47.26L213.42 50.11L213.83 50.93L215.7 54.6L217.59 58.27L217.78 58.65L219.49 61.94L221.4 65.61L222.14 67.02L223.33 69.28L225.28 72.95L226.5 75.24L227.24 76.62L229.22 80.29L230.86 83.31L231.21 83.96L233.23 87.63L235.22 91.24L235.26 91.3L237.3 94.97L239.37 98.64L239.58 99.01L241.45 102.31L243.55 105.98L243.94 106.65L245.68 109.65L247.82 113.32L248.3 114.15L249.98 116.99L252.16 120.66L252.66 121.5L254.36 124.33L256.58 128L257.02 128.73L258.82 131.67L261.08 135.34L261.38 135.82L263.37 139.01L265.67 142.68L265.74 142.78L268 146.35L270.1 149.62L270.36 150.02L272.74 153.69L274.46 156.33L275.14 157.36L277.56 161.03L278.82 162.91L280.02 164.7L282.49 168.37L283.18 169.38L285 172.04L287.53 175.71L287.54 175.72L290.09 179.38L291.9 181.95L292.68 183.05L295.3 186.72L296.26 188.05L297.95 190.39L300.62 194.05L300.63 194.06L303.34 197.73L304.98 199.93L306.08 201.4L308.86 205.07L309.34 205.69L311.68 208.74L313.7 211.35L314.52 212.41L317.41 216.08L318.06 216.9L320.33 219.75L322.42 222.34L323.29 223.42L326.3 227.09L326.78 227.67L329.34 230.76L331.14 232.9L332.43 234.43L335.5 238.03L335.56 238.1L338.74 241.77L339.86 243.05L341.96 245.44L344.22 247.97L345.24 249.11L348.56 252.78L348.58 252.8L351.94 256.45L352.94 257.52L355.37 260.12L357.3 262.15L358.86 263.79L361.66 266.69L362.41 267.46L366.02 271.13L366.02 271.13L369.69 274.8L370.38 275.48L373.43 278.47L374.74 279.73L377.24 282.14L379.1 283.9L381.12 285.81L383.46 287.98L385.08 289.48L387.82 291.98L389.11 293.15L392.18 295.89L393.23 296.82L396.54 299.72L397.43 300.49L400.9 303.46L401.72 304.16L405.26 307.13L406.1 307.83L409.62 310.72L410.58 311.5L413.98 314.23L415.16 315.17L418.34 317.67L419.85 318.84L422.7 321.03L424.64 322.51L427.06 324.32L429.56 326.18L431.42 327.54L434.6 329.85L435.78 330.69L439.76 333.52L440.14 333.78L444.5 336.8L445.06 337.19L448.86 339.76L450.5 340.86L453.22 342.65L456.09 344.53L457.58 345.48L461.84 348.2L461.94 348.26L466.3 350.97L467.75 351.87L470.66 353.63L473.83 355.54L475.02 356.24L479.38 358.79L480.1 359.21L483.74 361.29L486.55 362.88L488.1 363.74L492.46 366.14L493.21 366.55L496.82 368.48L500.08 370.22L501.18 370.79L505.54 373.05L507.17 373.89L509.9 375.26L514.26 377.44L514.5 377.56L518.62 379.56L522.08 381.23L522.98 381.65L527.34 383.7L529.92 384.9L531.7 385.71L536.06 387.68L538.03 388.57L540.42 389.62L544.78 391.52L546.45 392.24L549.14 393.38L553.5 395.21L555.17 395.91L557.86 397.01L561.42 399.58L562.22 400.14L564.36 403.25L566.58 406.39L566.83 406.92L568.62 410.59L570.46 414.26L570.94 415.19L571.31 417.93L571.83 421.6Z" fill="#feba46" stroke="#feba46" stroke-width="0.6"/>
<path d="M568.71 430.82L570.94 428.94L570.94 425.27L572.21 424.2L571.83 421.6L571.31 417.93L570.94 415.19L570.46 414.26L568.62 410.59L566.83 406.92L566.58 406.39L564.36 403.25L562.22 400.14L561.42 399.58L557.86 397.01L555.17 395.91L553.5 395.21L549.14 393.38L546.45 392.24L544.78 391.52L540.42 389.62L538.03 388.57L536.06 387.68L531.7 385.71L529.92 384.9L527.34 383.7L522.98 381.65L522.08 381.23L518.62 379.56L514.5 377.56L514.26 377.44L509.9 375.26L507.17 373.89L505.54 373.05L501.18 370.79L500.08 370.22L496.82 368.48L493.21 366.55L492.46 366.14L488.1 363.74L486.55 362.88L483.74 361.29L480.1 359.21L479.38 358.79L475.02 356.24L473.83 355.54L470.66 353.63L467.75 351.87L466.3 350.97L461.94 348.26L461.84 348.2L457.58 345.48L456.09 344.53L453.22 342.65L450.5 340.86L448.86 339.76L445.06 337.19L444.5 336.8L440.14 333.78L439.76 333.52L435.78 330.69L434.6 329.85L431.42 327.54L429.56 326.18L427.06 324.32L424.64 322.51L422.7 321.03L419.85 318.84L418.34 317.67L415.16 315.17L413.98 314.23L410.58 311.5L409.62 310.72L406.1 307.83L405.26 307.13L401.72 304.16L400.9 303.46L397.43 300.49L396.54 299.72L393.23 296.82L392.18 295.89L389.11 293.15L387.82 291.98L385.08 289.48L383.46 287.98L381.12 285.81L379.1 283.9L377.24 282.14L374.74 279.73L373.43 278.47L370.38 275.48L369.69 274.8L366.02 271.13L366.02 271.13L362.41 267.46L361.66 266.69L358.86 263.79L357.3 262.15L355.37 260.12L352.94 257.52L351.94 256.45L348.58 252.8L348.56 252.78L345.24 249.11L344.22 247.97L341.96 245.44L339.86 243.05L338.74 241.77L335.56 238.1L335.5 238.03L332.43 234.43L331.14 232.9L329.34 230.76L326.78 227.67L326.3 227.09L323.29 223.42L322.42 222.34L320.33 219.75L318.06 216.9L317.41 216.08L314.52 212.41L313.7 211.35L311.68 208.74L309.34 205.69L308.86 205.07L306.08 201.4L304.98 199.93L303.34 197.73L300.63 194.06L300.62 194.05L297.95 190.39L296.26 188.05L295.3 186.72L292.68 183.05L291.9 181.95L290.09 179.38L287.54 175.72L287.53 175.71L285 172.04L283.18 169.38L282.49 168.37L280.02 164.7L278.82 162.91L277.56 161.03L275.14 157.36L274.46 156.33L272.74 153.69L270.36 150.02L270.1 149.62L268 146.35L265.74 142.78L265.67 142.68L263.37 139.01L261.38 135.82L261.08 135.34L258.82 131.67L257.02 128.73L256.58 128L254.36 124.33L252.66 121.5L252.16 120.66L249.98 116.99L248.3 114.15L247.82 113.32L245.68 109.65L243.94 106.65L243.55 105.98L241.45 102.31L239.58 99.01L239.37 98.64L237.3 94.97L235.26 91.3L235.22 91.24L233.23 87.63L231.21 83.96L230.86 83.31L229.22 80.29L227.24 76.62L226.5 75.24L225.28 72.95L223.33 69.28L222.14 67.02L221.4 65.61L219.49 61.94L217.78 58.65L217.59 58.27L215.7 54.6L213.83 50.93L213.42 50.11L211.98 47.26L210.14 43.59L209.06 41.42L208.32 39.92L206.51 36.25L204.71 32.58L204.71 32.57L204.7 32.58L200.34 32.58L195.98 36.25L191.62 36.25L187.26 39.92L182.9 43.59L178.54 47.26L175.32 49.97L175.77 50.93L177.49 54.6L178.54 56.82L179.23 58.27L180.98 61.94L182.75 65.61L182.9 65.93L184.53 69.28L186.32 72.95L187.26 74.85L188.13 76.62L189.96 80.29L191.62 83.6L191.8 83.96L193.66 87.63L195.53 91.3L195.98 92.17L197.42 94.97L199.33 98.64L200.34 100.57L201.25 102.31L203.19 105.98L204.7 108.81L205.15 109.65L207.13 113.32L209.06 116.88L209.12 116.99L211.13 120.66L213.17 124.33L213.42 124.78L215.22 128L217.29 131.67L217.78 132.54L219.38 135.34L221.49 139.01L222.14 140.13L223.62 142.68L225.78 146.35L226.5 147.57L227.95 150.02L230.15 153.69L230.86 154.87L232.37 157.36L234.61 161.03L235.22 162.01L236.88 164.7L239.17 168.37L239.58 169.01L241.49 172.04L243.83 175.71L243.94 175.87L246.2 179.38L248.3 182.59L248.6 183.05L251.03 186.72L252.66 189.17L253.48 190.39L255.96 194.06L257.02 195.61L258.47 197.73L261.02 201.4L261.38 201.92L263.59 205.07L265.74 208.1L266.2 208.74L268.84 212.41L270.1 214.14L271.52 216.08L274.23 219.75L274.46 220.06L276.98 223.42L278.82 225.85L279.77 227.09L282.59 230.76L283.18 231.51L285.46 234.43L287.54 237.05L288.37 238.1L291.33 241.77L291.9 242.47L294.33 245.44L296.26 247.77L297.38 249.11L300.47 252.78L300.62 252.95L303.62 256.45L304.98 258.02L306.82 260.12L309.34 262.97L310.07 263.79L313.38 267.46L313.7 267.81L316.75 271.13L318.06 272.53L320.18 274.8L322.42 277.15L323.68 278.47L326.78 281.67L327.24 282.14L330.87 285.81L331.14 286.08L334.57 289.48L335.5 290.39L338.35 293.15L339.86 294.59L342.21 296.82L344.22 298.7L346.15 300.49L348.58 302.71L350.17 304.16L352.94 306.63L354.29 307.83L357.3 310.46L358.5 311.5L361.66 314.2L362.81 315.17L366.02 317.84L367.22 318.84L370.38 321.41L371.74 322.51L374.74 324.89L376.38 326.18L379.1 328.29L381.13 329.85L383.46 331.61L386.01 333.52L387.82 334.85L391.02 337.19L392.18 338.02L396.17 340.86L396.54 341.12L400.9 344.14L401.47 344.53L405.26 347.09L406.91 348.2L409.62 349.98L412.52 351.87L413.98 352.8L418.3 355.54L418.34 355.57L422.7 358.26L424.25 359.21L427.06 360.89L430.4 362.88L431.42 363.47L435.78 366L436.74 366.55L440.14 368.46L443.29 370.22L444.5 370.88L448.86 373.24L450.06 373.89L453.22 375.55L457.06 377.56L457.58 377.82L461.94 380.04L464.31 381.23L466.3 382.21L470.66 384.34L471.81 384.9L475.02 386.42L479.38 388.47L479.59 388.57L483.74 390.46L487.66 392.24L488.1 392.43L492.46 394.35L496.04 395.91L496.82 396.24L501.18 398.09L504.73 399.58L505.54 399.91L509.9 401.68L513.77 403.25L514.26 403.44L518.62 405.15L522.98 406.85L523.17 406.92L527.34 408.49L531.7 410.12L532.95 410.59L536.06 411.71L540.42 413.28L543.14 414.26L544.78 414.83L549.14 416.34L553.5 417.84L553.76 417.93L557.86 419.3L561.71 421.6L562.22 421.9L565 425.27L566.58 427.13L567.61 428.94Z" fill="#feae3b" stroke="#feae3b" stroke-width="0.6"/>
<path d="M550.99 436.28L553.5 436.97L557.86 438.17L561.41 439.95L562.22 439.95L566.58 436.28L566.58 432.61L568.71 430.82L567.61 428.94L566.58 427.13L565 425.27L562.22 421.9L561.71 421.6L557.86 419.3L553.76 417.93L553.5 417.84L549.14 416.34L544.78 414.83L543.14 414.26L540.42 413.28L536.06 411.71L532.95 410.59L531.7 410.12L527.34 408.49L523.17 406.92L522.98 406.85L518.62 405.15L514.26 403.44L513.77 403.25L509.9 401.68L505.54 399.91L504.73 399.58L501.18 398.09L496.82 396.24L496.04 395.91L492.46 394.35L488.1 392.43L487.66 392.24L483.74 390.46L479.59 388.57L479.38 388.47L475.02 386.42L471.81 384.9L470.66 384.34L466.3 382.21L464.31 381.23L461.94 380.04L457.58 377.82L457.06 377.56L453.22 375.55L450.06 373.89L448.86 373.24L444.5 370.88L443.29 370.22L440.14 368.46L436.74 366.55L435.78 366L431.42 363.47L430.4 362.88L427.06 360.89L424.25 359.21L422.7 358.26L418.34 355.57L418.3 355.54L413.98 352.8L412.52 351.87L409.62 349.98L406.91 348.2L405.26 347.09L401.47 344.53L400.9 344.14L396.54 341.12L396.17 340.86L392.18 338.02L391.02 337.19L387.82 334.85L386.01 333.52L383.46 331.61L381.13 329.85L379.1 328.29L376.38 326.18L374.74 324.89L371.74 322.51L370.38 321.41L367.22 318.84L366.02 317.84L362.81 315.17L361.66 314.2L358.5 311.5L357.3 310.46L354.29 307.83L352.94 306.63L350.17 304.16L348.58 302.71L346.15 300.49L344.22 298.7L342.21 296.82L339.86 294.59L338.35 293.15L335.5 290.39L334.57 289.48L331.14 286.08L330.87 285.81L327.24 282.14L326.78 281.67L323.68 278.47L322.42 277.15L320.18 274.8L318.06 272.53L316.75 271.13L313.7 267.81L313.38 267.46L310.07 263.79L309.34 262.97L306.82 260.12L304.98 258.02L303.62 256.45L300.62 252.95L300.47 252.78L297.38 249.11L296.26 247.77L294.33 245.44L291.9 242.47L291.33 241.77L288.37 238.1L287.54 237.05L285.46 234.43L283.18 231.51L282.59 230.76L279.77 227.09L278.82 225.85L276.98 223.42L274.46 220.06L274.23 219.75L271.52 216.08L270.1 214.14L268.84 212.41L266.2 208.74L265.74 208.1L263.59 205.07L261.38 201.92L261.02 201.4L258.47 197.73L257.02 195.61L255.96 194.06L253.48 190.39L252.66 189.17L251.03 186.72L248.6 183.05L248.3 182.59L246.2 179.38L243.94 175.87L243.83 175.71L241.49 172.04L239.58 169.01L239.17 168.37L236.88 164.7L235.22 162.01L234.61 161.03L232.37 157.36L230.86 154.87L230.15 153.69L227.95 150.02L226.5 147.57L225.78 146.35L223.62 142.68L222.14 140.13L221.49 139.01L219.38 135.34L217.78 132.54L217.29 131.67L215.22 128L213.42 124.78L213.17 124.33L211.13 120.66L209.12 116.99L209.06 116.88L207.13 113.32L205.15 109.65L204.7 108.81L203.19 105.98L201.25 102.31L200.34 100.57L199.33 98.64L197.42 94.97L195.98 92.17L195.53 91.3L193.66 87.63L191.8 83.96L191.62 83.6L189.96 80.29L188.13 76.62L187.26 74.85L186.32 72.95L184.53 69.28L182.9 65.93L182.75 65.61L180.98 61.94L179.23 58.27L178.54 56.82L177.49 54.6L175.77 50.93L175.32 49.97L174.18 50.93L169.82 54.6L165.46 58.27L161.1 61.94L161.1 65.61L156.74 69.28L156.74 72.95L152.38 76.62L152.38 79.04L152.76 80.29L153.87 83.96L155 87.63L156.13 91.3L156.74 93.28L157.54 94.97L159.29 98.64L161.05 102.31L161.1 102.41L162.83 105.98L164.63 109.65L165.46 111.34L166.44 113.32L168.27 116.99L169.82 120.08L170.11 120.66L171.98 124.33L173.86 128L174.18 128.62L175.76 131.67L177.68 135.34L178.54 136.98L179.62 139.01L181.57 142.68L182.9 145.15L183.55 146.35L185.55 150.02L187.26 153.14L187.56 153.69L189.6 157.36L191.62 160.95L191.66 161.03L193.75 164.7L195.85 168.37L195.98 168.59L197.98 172.04L200.14 175.71L200.34 176.05L202.32 179.38L204.52 183.05L204.7 183.35L206.75 186.72L209.01 190.39L209.06 190.48L211.29 194.06L213.42 197.44L213.6 197.73L215.95 201.4L217.78 204.24L218.32 205.07L220.72 208.74L222.14 210.88L223.16 212.41L225.62 216.08L226.5 217.37L228.13 219.75L230.66 223.42L230.86 223.7L233.24 227.09L235.22 229.88L235.85 230.76L238.5 234.43L239.58 235.91L241.19 238.1L243.92 241.77L243.94 241.8L246.7 245.44L248.3 247.53L249.52 249.11L252.38 252.78L252.66 253.13L255.3 256.45L257.02 258.59L258.26 260.12L261.28 263.79L261.38 263.91L264.35 267.46L265.74 269.09L267.48 271.13L270.1 274.15L270.67 274.8L273.92 278.47L274.46 279.07L277.23 282.14L278.82 283.87L280.61 285.81L283.18 288.54L284.06 289.48L287.54 293.1L287.59 293.15L291.19 296.82L291.9 297.53L294.87 300.49L296.26 301.85L298.63 304.16L300.62 306.06L302.48 307.83L304.98 310.16L306.42 311.5L309.34 314.16L310.46 315.17L313.7 318.05L314.6 318.84L318.06 321.84L318.84 322.51L322.42 325.53L323.2 326.18L326.78 329.12L327.67 329.85L331.14 332.63L332.26 333.52L335.5 336.04L336.98 337.19L339.86 339.37L341.84 340.86L344.22 342.61L346.84 344.53L348.58 345.78L351.99 348.2L352.94 348.86L357.29 351.87L357.3 351.87L361.66 354.8L362.77 355.54L366.02 357.66L368.41 359.21L370.38 360.45L374.24 362.88L374.74 363.18L379.1 365.84L380.27 366.55L383.46 368.43L386.5 370.22L387.82 370.97L392.18 373.46L392.95 373.89L396.54 375.87L399.62 377.56L400.9 378.24L405.26 380.55L406.54 381.23L409.62 382.81L413.71 384.9L413.98 385.03L418.34 387.19L421.15 388.57L422.7 389.31L427.06 391.38L428.88 392.24L431.42 393.41L435.78 395.4L436.91 395.91L440.14 397.34L444.5 399.25L445.26 399.58L448.86 401.11L453.22 402.95L453.94 403.25L457.58 404.73L461.94 406.5L462.98 406.92L466.3 408.22L470.66 409.92L472.4 410.59L475.02 411.57L479.38 413.2L482.22 414.26L483.74 414.81L488.1 416.37L492.46 417.93L492.46 417.93L496.82 419.43L501.18 420.92L503.16 421.6L505.54 422.39L509.9 423.82L514.26 425.25L514.33 425.27L518.62 426.62L522.98 427.99L526 428.94L527.34 429.34L531.7 430.66L536.06 431.97L538.21 432.61L540.42 433.25L544.78 434.5L549.14 435.75Z" fill="#fea332" stroke="#fea332" stroke-width="0.6"/>
<path d="M514.37 443.62L518.62 444.72L522.98 445.84L527.34 446.95L528.66 447.29L531.7 447.29L536.06 447.29L540.42 447.29L544.78 443.62L549.14 443.62L553.5 443.62L557.86 439.95L561.41 439.95L557.86 438.17L553.5 436.97L550.99 436.28L549.14 435.75L544.78 434.5L540.42 433.25L538.21 432.61L536.06 431.97L531.7 430.66L527.34 429.34L526 428.94L522.98 427.99L518.62 426.62L514.33 425.27L514.26 425.25L509.9 423.82L505.54 422.39L503.16 421.6L501.18 420.92L496.82 419.43L492.46 417.93L492.46 417.93L488.1 416.37L483.74 414.81L482.22 414.26L479.38 413.2L475.02 411.57L472.4 410.59L470.66 409.92L466.3 408.22L462.98 406.92L461.94 406.5L457.58 404.73L453.94 403.25L453.22 402.95L448.86 401.11L445.26 399.58L444.5 399.25L440.14 397.34L436.91 395.91L435.78 395.4L431.42 393.41L428.88 392.24L427.06 391.38L422.7 389.31L421.15 388.57L418.34 387.19L413.98 385.03L413.71 384.9L409.62 382.81L406.54 381.23L405.26 380.55L400.9 378.24L399.62 377.56L396.54 375.87L392.95 373.89L392.18 373.46L387.82 370.97L386.5 370.22L383.46 368.43L380.27 366.55L379.1 365.84L374.74 363.18L374.24 362.88L370.38 360.45L368.41 359.21L366.02 357.66L362.77 355.54L361.66 354.8L357.3 351.87L357.29 351.87L352.94 348.86L351.99 348.2L348.58 345.78L346.84 344.53L344.22 342.61L341.84 340.86L339.86 339.37L336.98 337.19L335.5 336.04L332.26 333.52L331.14 332.63L327.67 329.85L326.78 329.12L323.2 326.18L322.42 325.53L318.84 322.51L318.06 321.84L314.6 318.84L313.7 318.05L310.46 315.17L309.34 314.16L306.42 311.5L304.98 310.16L302.48 307.83L300.62 306.06L298.63 304.16L296.26 301.85L294.87 300.49L291.9 297.53L291.19 296.82L287.59 293.15L287.54 293.1L284.06 289.48L283.18 288.54L280.61 285.81L278.82 283.87L277.23 282.14L274.46 279.07L273.92 278.47L270.67 274.8L270.1 274.15L267.48 271.13L265.74 269.09L264.35 267.46L261.38 263.91L261.28 263.79L258.26 260.12L257.02 258.59L255.3 256.45L252.66 253.13L252.38 252.78L249.52 249.11L248.3 247.53L246.7 245.44L243.94 241.8L243.92 241.77L241.19 238.1L239.58 235.91L238.5 234.43L235.85 230.76L235.22 229.88L233.24 227.09L230.86 223.7L230.66 223.42L228.13 219.75L226.5 217.37L225.62 216.08L223.16 212.41L222.14 210.88L220.72 208.74L218.32 205.07L217.78 204.24L215.95 201.4L213.6 197.73L213.42 197.44L211.29 194.06L209.06 190.48L209.01 190.39L206.75 186.72L204.7 183.35L204.52 183.05L202.32 179.38L200.34 176.05L200.14 175.71L197.98 172.04L195.98 168.59L195.85 168.37L193.75 164.7L191.66 161.03L191.62 160.95L189.6 157.36L187.56 153.69L187.26 153.14L185.55 150.02L183.55 146.35L182.9 145.15L181.57 142.68L179.62 139.01L178.54 136.98L177.68 135.34L175.76 131.67L174.18 128.62L173.86 128L171.98 124.33L170.11 120.66L169.82 120.08L168.27 116.99L166.44 113.32L165.46 111.34L164.63 109.65L162.83 105.98L161.1 102.41L161.05 102.31L159.29 98.64L157.54 94.97L156.74 93.28L156.13 91.3L155 87.63L153.87 83.96L152.76 80.29L152.38 79.04L152.38 80.29L148.02 83.96L148.02 87.63L148.02 91.3L143.66 94.97L143.66 98.64L143.66 100.49L143.87 102.31L144.29 105.98L144.71 109.65L145.13 113.32L145.55 116.99L145.98 120.66L146.4 124.33L146.83 128L147.26 131.67L147.69 135.34L148.02 138.17L148.16 139.01L148.79 142.68L149.42 146.35L150.05 150.02L150.69 153.69L151.33 157.36L151.97 161.03L152.38 163.35L152.83 164.7L154.06 168.37L155.3 172.04L156.55 175.71L156.74 176.26L158.43 179.38L160.44 183.05L161.1 184.24L162.48 186.72L164.54 190.39L165.46 192.02L166.62 194.06L168.74 197.73L169.82 199.59L170.88 201.4L173.05 205.07L174.18 206.97L175.24 208.74L177.47 212.41L178.54 214.15L179.73 216.08L182.02 219.75L182.9 221.14L184.35 223.42L186.71 227.09L187.26 227.94L189.1 230.76L191.53 234.43L191.62 234.56L194 238.1L195.98 241L196.51 241.77L199.06 245.44L200.34 247.25L201.65 249.11L204.29 252.78L204.7 253.34L206.98 256.45L209.06 259.25L209.71 260.12L212.49 263.79L213.42 265L215.32 267.46L217.78 270.58L218.21 271.13L221.16 274.8L222.14 276L224.16 278.47L226.5 281.27L227.23 282.14L230.36 285.81L230.86 286.39L233.56 289.48L235.22 291.35L236.82 293.15L239.58 296.18L240.17 296.82L243.59 300.49L243.94 300.86L247.09 304.16L248.3 305.41L250.67 307.83L252.66 309.82L254.34 311.5L257.02 314.11L258.11 315.17L261.38 318.28L261.97 318.84L265.74 322.33L265.94 322.51L270.02 326.18L270.1 326.25L274.2 329.85L274.46 330.07L278.51 333.52L278.82 333.78L282.94 337.19L283.18 337.38L287.51 340.86L287.54 340.88L291.9 344.29L292.21 344.53L296.26 347.6L297.06 348.2L300.62 350.81L302.07 351.87L304.98 353.94L307.23 355.54L309.34 356.99L312.57 359.21L313.7 359.96L318.06 362.86L318.09 362.88L322.42 365.67L323.8 366.55L326.78 368.41L329.71 370.22L331.14 371.08L335.5 373.69L335.84 373.89L339.86 376.22L342.19 377.56L344.22 378.7L348.58 381.12L348.77 381.23L352.94 383.47L355.61 384.9L357.3 385.78L361.66 388.03L362.71 388.57L366.02 390.22L370.1 392.24L370.38 392.38L374.74 394.46L377.78 395.91L379.1 396.52L383.46 398.52L385.78 399.58L387.82 400.48L392.18 402.4L394.11 403.25L396.54 404.28L400.9 406.12L402.79 406.92L405.26 407.93L409.62 409.69L411.85 410.59L413.98 411.42L418.34 413.12L421.3 414.26L422.7 414.78L427.06 416.41L431.17 417.93L431.42 418.02L435.78 419.57L440.14 421.12L441.49 421.6L444.5 422.63L448.86 424.11L452.28 425.27L453.22 425.58L457.58 427L461.94 428.41L463.57 428.94L466.3 429.79L470.66 431.15L475.02 432.5L475.39 432.61L479.38 433.8L483.74 435.09L487.77 436.28L488.1 436.37L492.46 437.61L496.82 438.84L500.75 439.95L501.18 440.07L505.54 441.25L509.9 442.42L514.26 443.59Z" fill="#fd9728" stroke="#fd9728" stroke-width="0.6"/>
<path d="M464.22 447.29L466.3 447.82L470.66 448.92L475.02 450.01L478.81 450.96L479.38 450.96L483.74 450.96L488.1 450.96L492.46 450.96L496.82 450.96L501.18 450.96L505.54 450.96L509.9 450.96L514.26 450.96L518.62 447.29L522.98 447.29L527.34 447.29L528.66 447.29L527.34 446.95L522.98 445.84L518.62 444.72L514.37 443.62L514.26 443.59L509.9 442.42L505.54 441.25L501.18 440.07L500.75 439.95L496.82 438.84L492.46 437.61L488.1 436.37L487.77 436.28L483.74 435.09L479.38 433.8L475.39 432.61L475.02 432.5L470.66 431.15L466.3 429.79L463.57 428.94L461.94 428.41L457.58 427L453.22 425.58L452.28 425.27L448.86 424.11L444.5 422.63L441.49 421.6L440.14 421.12L435.78 419.57L431.42 418.02L431.17 417.93L427.06 416.41L422.7 414.78L421.3 414.26L418.34 413.12L413.98 411.42L411.85 410.59L409.62 409.69L405.26 407.93L402.79 406.92L400.9 406.12L396.54 404.28L394.11 403.25L392.18 402.4L387.82 400.48L385.78 399.58L383.46 398.52L379.1 396.52L377.78 395.91L374.74 394.46L370.38 392.38L370.1 392.24L366.02 390.22L362.71 388.57L361.66 388.03L357.3 385.78L355.61 384.9L352.94 383.47L348.77 381.23L348.58 381.12L344.22 378.7L342.19 377.56L339.86 376.22L335.84 373.89L335.5 373.69L331.14 371.08L329.71 370.22L326.78 368.41L323.8 366.55L322.42 365.67L318.09 362.88L318.06 362.86L313.7 359.96L312.57 359.21L309.34 356.99L307.23 355.54L304.98 353.94L302.07 351.87L300.62 350.81L297.06 348.2L296.26 347.6L292.21 344.53L291.9 344.29L287.54 340.88L287.51 340.86L283.18 337.38L282.94 337.19L278.82 333.78L278.51 333.52L274.46 330.07L274.2 329.85L270.1 326.25L270.02 326.18L265.94 322.51L265.74 322.33L261.97 318.84L261.38 318.28L258.11 315.17L257.02 314.11L254.34 311.5L252.66 309.82L250.67 307.83L248.3 305.41L247.09 304.16L243.94 300.86L243.59 300.49L240.17 296.82L239.58 296.18L236.82 293.15L235.22 291.35L233.56 289.48L230.86 286.39L230.36 285.81L227.23 282.14L226.5 281.27L224.16 278.47L222.14 276L221.16 274.8L218.21 271.13L217.78 270.58L215.32 267.46L213.42 265L212.49 263.79L209.71 260.12L209.06 259.25L206.98 256.45L204.7 253.34L204.29 252.78L201.65 249.11L200.34 247.25L199.06 245.44L196.51 241.77L195.98 241L194 238.1L191.62 234.56L191.53 234.43L189.1 230.76L187.26 227.94L186.71 227.09L184.35 223.42L182.9 221.14L182.02 219.75L179.73 216.08L178.54 214.15L177.47 212.41L175.24 208.74L174.18 206.97L173.05 205.07L170.88 201.4L169.82 199.59L168.74 197.73L166.62 194.06L165.46 192.02L164.54 190.39L162.48 186.72L161.1 184.24L160.44 183.05L158.43 179.38L156.74 176.26L156.55 175.71L155.3 172.04L154.06 168.37L152.83 164.7L152.38 163.35L151.97 161.03L151.33 157.36L150.69 153.69L150.05 150.02L149.42 146.35L148.79 142.68L148.16 139.01L148.02 138.17L147.69 135.34L147.26 131.67L146.83 128L146.4 124.33L145.98 120.66L145.55 116.99L145.13 113.32L144.71 109.65L144.29 105.98L143.87 102.31L143.66 100.49L143.66 102.31L143.66 105.98L143.66 109.65L141.24 111.69L141.29 113.32L141.41 116.99L141.52 120.66L141.64 124.33L141.76 128L141.88 131.67L142 135.34L142.12 139.01L142.24 142.68L142.36 146.35L142.48 150.02L142.6 153.69L142.72 157.36L142.84 161.03L142.96 164.7L143.08 168.37L143.2 172.04L143.33 175.71L143.45 179.38L143.57 183.05L143.66 185.62L143.79 186.72L144.24 190.39L144.7 194.06L145.15 197.73L145.61 201.4L146.07 205.07L146.54 208.74L147 212.41L147.47 216.08L147.95 219.75L148.02 220.3L148.61 223.42L149.32 227.09L150.03 230.76L150.75 234.43L151.47 238.1L152.2 241.77L152.38 242.65L153.47 245.44L154.93 249.11L156.41 252.78L156.74 253.59L158.66 256.45L161.1 260.04L161.15 260.12L163.7 263.79L165.46 266.28L166.3 267.46L168.94 271.13L169.82 272.32L171.65 274.8L174.18 278.17L174.41 278.47L177.22 282.14L178.54 283.82L180.1 285.81L182.9 289.3L183.05 289.48L186.06 293.15L187.26 294.58L189.15 296.82L191.62 299.7L192.3 300.49L195.54 304.16L195.98 304.65L198.86 307.83L200.34 309.43L202.26 311.5L204.7 314.06L205.76 315.17L209.06 318.55L209.35 318.84L213.04 322.51L213.42 322.88L216.83 326.18L217.78 327.07L220.74 329.85L222.14 331.13L224.76 333.52L226.5 335.07L228.9 337.19L230.86 338.87L233.18 340.86L235.22 342.57L237.58 344.53L239.58 346.14L242.14 348.2L243.94 349.61L246.84 351.87L248.3 352.98L251.7 355.54L252.66 356.24L256.73 359.21L257.02 359.42L261.38 362.49L261.94 362.88L265.74 365.47L267.33 366.55L270.1 368.37L272.92 370.22L274.46 371.2L278.72 373.89L278.82 373.95L283.18 376.61L284.75 377.56L287.54 379.2L291 381.23L291.9 381.74L296.26 384.2L297.51 384.9L300.62 386.59L304.27 388.57L304.98 388.94L309.34 391.21L311.32 392.24L313.7 393.44L318.06 395.62L318.65 395.91L322.42 397.72L326.3 399.58L326.78 399.8L331.14 401.81L334.27 403.25L335.5 403.79L339.86 405.72L342.6 406.92L344.22 407.61L348.58 409.45L351.29 410.59L352.94 411.26L357.3 413.02L360.38 414.26L361.66 414.76L366.02 416.44L369.88 417.93L370.38 418.12L374.74 419.73L379.1 421.34L379.82 421.6L383.46 422.89L387.82 424.43L390.23 425.27L392.18 425.93L396.54 427.4L400.9 428.86L401.13 428.94L405.26 430.27L409.62 431.67L412.56 432.61L413.98 433.05L418.34 434.38L422.7 435.72L424.55 436.28L427.06 437.02L431.42 438.29L435.78 439.56L437.13 439.95L440.14 440.79L444.5 442L448.86 443.21L450.34 443.62L453.22 444.39L457.58 445.54L461.94 446.69Z" fill="#f98d23" stroke="#f98d23" stroke-width="0.6"/>
<path d="M428.88 454.63L431.42 455.23L435.78 456.25L440.14 457.26L444.5 458.28L444.6 458.3L448.86 458.3L453.22 458.3L457.58 458.3L461.94 458.3L466.3 454.63L470.66 450.96L475.02 450.96L478.81 450.96L475.02 450.01L470.66 448.92L466.3 447.82L464.22 447.29L461.94 446.69L457.58 445.54L453.22 444.39L450.34 443.62L448.86 443.21L444.5 442L440.14 440.79L437.13 439.95L435.78 439.56L431.42 438.29L427.06 437.02L424.55 436.28L422.7 435.72L418.34 434.38L413.98 433.05L412.56 432.61L409.62 431.67L405.26 430.27L401.13 428.94L400.9 428.86L396.54 427.4L392.18 425.93L390.23 425.27L387.82 424.43L383.46 422.89L379.82 421.6L379.1 421.34L374.74 419.73L370.38 418.12L369.88 417.93L366.02 416.44L361.66 414.76L360.38 414.26L357.3 413.02L352.94 411.26L351.29 410.59L348.58 409.45L344.22 407.61L342.6 406.92L339.86 405.72L335.5 403.79L334.27 403.25L331.14 401.81L326.78 399.8L326.3 399.58L322.42 397.72L318.65 395.91L318.06 395.62L313.7 393.44L311.32 392.24L309.34 391.21L304.98 388.94L304.27 388.57L300.62 386.59L297.51 384.9L296.26 384.2L291.9 381.74L291 381.23L287.54 379.2L284.75 377.56L283.18 376.61L278.82 373.95L278.72 373.89L274.46 371.2L272.92 370.22L270.1 368.37L267.33 366.55L265.74 365.47L261.94 362.88L261.38 362.49L257.02 359.42L256.73 359.21L252.66 356.24L251.7 355.54L248.3 352.98L246.84 351.87L243.94 349.61L242.14 348.2L239.58 346.14L237.58 344.53L235.22 342.57L233.18 340.86L230.86 338.87L228.9 337.19L226.5 335.07L224.76 333.52L222.14 331.13L220.74 329.85L217.78 327.07L216.83 326.18L213.42 322.88L213.04 322.51L209.35 318.84L209.06 318.55L205.76 315.17L204.7 314.06L202.26 311.5L200.34 309.43L198.86 307.83L195.98 304.65L195.54 304.16L192.3 300.49L191.62 299.7L189.15 296.82L187.26 294.58L186.06 293.15L183.05 289.48L182.9 289.3L180.1 285.81L178.54 283.82L177.22 282.14L174.41 278.47L174.18 278.17L171.65 274.8L169.82 272.32L168.94 271.13L166.3 267.46L165.46 266.28L163.7 263.79L161.15 260.12L161.1 260.04L158.66 256.45L156.74 253.59L156.41 252.78L154.93 249.11L153.47 245.44L152.38 242.65L152.2 241.77L151.47 238.1L150.75 234.43L150.03 230.76L149.32 227.09L148.61 223.42L148.02 220.3L147.95 219.75L147.47 216.08L147 212.41L146.54 208.74L146.07 205.07L145.61 201.4L145.15 197.73L144.7 194.06L144.24 190.39L143.79 186.72L143.66 185.62L143.57 183.05L143.45 179.38L143.33 175.71L143.2 172.04L143.08 168.37L142.96 164.7L142.84 161.03L142.72 157.36L142.6 153.69L142.48 150.02L142.36 146.35L142.24 142.68L142.12 139.01L142 135.34L141.88 131.67L141.76 128L141.64 124.33L141.52 120.66L141.41 116.99L141.29 113.32L141.24 111.69L139.3 113.32L139.3 116.99L139.3 120.66L139.3 124.33L139.3 128L139.3 131.67L139.3 135.34L139.3 138.15L139.33 139.01L139.45 142.68L139.57 146.35L139.68 150.02L139.8 153.69L139.92 157.36L140.04 161.03L140.16 164.7L140.29 168.37L140.41 172.04L140.53 175.71L140.65 179.38L140.77 183.05L140.9 186.72L141.02 190.39L141.15 194.06L141.27 197.73L141.4 201.4L141.52 205.07L141.65 208.74L141.78 212.41L141.9 216.08L142.03 219.75L142.16 223.42L142.29 227.09L142.42 230.76L142.56 234.43L142.69 238.1L142.83 241.77L142.96 245.44L143.1 249.11L143.24 252.78L143.37 256.45L143.52 260.12L143.66 263.79L143.66 263.86L144.18 267.46L144.71 271.13L145.25 274.8L145.8 278.47L146.35 282.14L146.92 285.81L147.49 289.48L148.02 292.83L148.09 293.15L148.97 296.82L149.85 300.49L150.76 304.16L151.68 307.83L152.38 310.58L152.85 311.5L154.77 315.17L156.73 318.84L156.74 318.86L160.14 322.51L161.1 323.52L163.65 326.18L165.46 328.02L167.28 329.85L169.82 332.35L171.01 333.52L174.18 336.54L174.86 337.19L178.54 340.58L178.85 340.86L182.9 344.48L182.96 344.53L187.21 348.2L187.26 348.24L191.61 351.87L191.62 351.88L195.98 355.39L196.17 355.54L200.34 358.79L200.89 359.21L204.7 362.07L205.78 362.88L209.06 365.25L210.86 366.55L213.42 368.34L216.13 370.22L217.78 371.33L221.61 373.89L222.14 374.23L226.5 377.04L227.31 377.56L230.86 379.76L233.24 381.23L235.22 382.41L239.41 384.9L239.58 385L243.94 387.49L245.83 388.57L248.3 389.93L252.53 392.24L252.66 392.31L257.02 394.6L259.52 395.91L261.38 396.85L265.74 399.04L266.82 399.58L270.1 401.16L274.44 403.25L274.46 403.26L278.82 405.27L282.41 406.92L283.18 407.26L287.54 409.19L290.74 410.59L291.9 411.08L296.26 412.92L299.46 414.26L300.62 414.73L304.98 416.49L308.59 417.93L309.34 418.22L313.7 419.9L318.06 421.57L318.15 421.6L322.42 423.17L326.78 424.76L328.18 425.27L331.14 426.31L335.5 427.83L338.7 428.94L339.86 429.33L344.22 430.78L348.58 432.23L349.74 432.61L352.94 433.63L357.3 435.01L361.33 436.28L361.66 436.38L366.02 437.7L370.38 439.01L373.51 439.95L374.74 440.3L379.1 441.56L383.46 442.81L386.31 443.62L387.82 444.03L392.18 445.22L396.54 446.41L399.78 447.29L400.9 447.58L405.26 448.71L409.62 449.84L413.96 450.96L413.98 450.97L418.34 452.04L422.7 453.12L427.06 454.19Z" fill="#f4811d" stroke="#f4811d" stroke-width="0.6"/>
<path d="M363.6 454.63L366.02 455.21L370.38 456.26L374.74 457.31L378.89 458.3L379.1 458.3L383.46 458.3L387.82 458.3L392.18 458.3L396.54 458.3L400.9 458.3L405.26 458.3L409.62 458.3L413.98 458.3L418.34 458.3L422.7 458.3L427.06 458.3L431.42 458.3L435.78 458.3L440.14 458.3L444.5 458.3L444.6 458.3L444.5 458.28L440.14 457.26L435.78 456.25L431.42 455.23L428.88 454.63L427.06 454.19L422.7 453.12L418.34 452.04L413.98 450.97L413.96 450.96L409.62 449.84L405.26 448.71L400.9 447.58L399.78 447.29L396.54 446.41L392.18 445.22L387.82 444.03L386.31 443.62L383.46 442.81L379.1 441.56L374.74 440.3L373.51 439.95L370.38 439.01L366.02 437.7L361.66 436.38L361.33 436.28L357.3 435.01L352.94 433.63L349.74 432.61L348.58 432.23L344.22 430.78L339.86 429.33L338.7 428.94L335.5 427.83L331.14 426.31L328.18 425.27L326.78 424.76L322.42 423.17L318.15 421.6L318.06 421.57L313.7 419.9L309.34 418.22L308.59 417.93L304.98 416.49L300.62 414.73L299.46 414.26L296.26 412.92L291.9 411.08L290.74 410.59L287.54 409.19L283.18 407.26L282.41 406.92L278.82 405.27L274.46 403.26L274.44 403.25L270.1 401.16L266.82 399.58L265.74 399.04L261.38 396.85L259.52 395.91L257.02 394.6L252.66 392.31L252.53 392.24L248.3 389.93L245.83 388.57L243.94 387.49L239.58 385L239.41 384.9L235.22 382.41L233.24 381.23L230.86 379.76L227.31 377.56L226.5 377.04L222.14 374.23L221.61 373.89L217.78 371.33L216.13 370.22L213.42 368.34L210.86 366.55L209.06 365.25L205.78 362.88L204.7 362.07L200.89 359.21L200.34 358.79L196.17 355.54L195.98 355.39L191.62 351.88L191.61 351.87L187.26 348.24L187.21 348.2L182.96 344.53L182.9 344.48L178.85 340.86L178.54 340.58L174.86 337.19L174.18 336.54L171.01 333.52L169.82 332.35L167.28 329.85L165.46 328.02L163.65 326.18L161.1 323.52L160.14 322.51L156.74 318.86L156.73 318.84L154.77 315.17L152.85 311.5L152.38 310.58L151.68 307.83L150.76 304.16L149.85 300.49L148.97 296.82L148.09 293.15L148.02 292.83L147.49 289.48L146.92 285.81L146.35 282.14L145.8 278.47L145.25 274.8L144.71 271.13L144.18 267.46L143.66 263.86L143.66 263.79L143.52 260.12L143.37 256.45L143.24 252.78L143.1 249.11L142.96 245.44L142.83 241.77L142.69 238.1L142.56 234.43L142.42 230.76L142.29 227.09L142.16 223.42L142.03 219.75L141.9 216.08L141.78 212.41L141.65 208.74L141.52 205.07L141.4 201.4L141.27 197.73L141.15 194.06L141.02 190.39L140.9 186.72L140.77 183.05L140.65 179.38L140.53 175.71L140.41 172.04L140.29 168.37L140.16 164.7L140.04 161.03L139.92 157.36L139.8 153.69L139.68 150.02L139.57 146.35L139.45 142.68L139.33 139.01L139.3 138.15L139.3 139.01L139.3 142.68L139.3 146.35L139.3 150.02L139.3 153.69L139.3 157.36L139.3 161.03L139.3 164.7L139.3 168.37L139.3 172.04L139.3 175.71L139.3 179.38L139.3 183.05L139.3 186.72L139.3 190.39L139.3 194.06L139.3 197.73L139.3 201.4L139.3 205.07L139.3 208.74L139.3 212.41L139.3 216.08L139.3 219.75L139.3 221.84L139.36 223.42L139.49 227.09L139.62 230.76L139.75 234.43L139.88 238.1L140.01 241.77L140.15 245.44L140.28 249.11L140.42 252.78L140.56 256.45L140.7 260.12L140.84 263.79L140.98 267.46L141.13 271.13L141.27 274.8L141.42 278.47L141.57 282.14L141.72 285.81L141.88 289.48L142.03 293.15L142.19 296.82L142.35 300.49L142.52 304.16L142.68 307.83L142.85 311.5L143.02 315.17L143.2 318.84L143.38 322.51L143.56 326.18L143.66 328.18L143.98 329.85L144.68 333.52L145.41 337.19L146.15 340.86L146.91 344.53L147.69 348.2L148.02 349.7L148.72 351.87L149.95 355.54L151.21 359.21L152.38 362.51L152.65 362.88L155.39 366.55L156.74 368.29L159.35 370.22L161.1 371.47L164.5 373.89L165.46 374.55L169.82 377.52L169.87 377.56L174.18 380.39L175.47 381.23L178.54 383.17L181.3 384.9L182.9 385.87L187.26 388.49L187.39 388.57L191.62 391.01L193.75 392.24L195.98 393.48L200.34 395.88L200.4 395.91L204.7 398.19L207.34 399.58L209.06 400.45L213.42 402.65L214.61 403.25L217.78 404.78L222.14 406.88L222.22 406.92L226.5 408.9L230.18 410.59L230.86 410.89L235.22 412.81L238.54 414.26L239.58 414.7L243.94 416.53L247.29 417.93L248.3 418.33L252.66 420.08L256.48 421.6L257.02 421.81L261.38 423.47L265.74 425.12L266.13 425.27L270.1 426.71L274.46 428.29L276.26 428.94L278.82 429.83L283.18 431.33L286.91 432.61L287.54 432.82L291.9 434.25L296.26 435.68L298.11 436.28L300.62 437.07L304.98 438.43L309.34 439.78L309.89 439.95L313.7 441.08L318.06 442.37L322.29 443.62L322.42 443.66L326.78 444.89L331.14 446.11L335.34 447.29L335.5 447.33L339.86 448.5L344.22 449.66L348.58 450.82L349.1 450.96L352.94 451.94L357.3 453.04L361.66 454.14Z" fill="#ee7617" stroke="#ee7617" stroke-width="0.6"/>
<path d="M298.33 454.63L300.62 455.2L304.98 456.28L309.34 457.35L313.19 458.3L313.7 458.3L318.06 458.3L322.42 458.3L326.78 458.3L331.14 458.3L335.5 458.3L339.86 458.3L344.22 458.3L348.58 458.3L352.94 458.3L357.3 458.3L361.66 458.3L366.02 458.3L370.38 458.3L374.74 458.3L378.89 458.3L374.74 457.31L370.38 456.26L366.02 455.21L363.6 454.63L361.66 454.14L357.3 453.04L352.94 451.94L349.1 450.96L348.58 450.82L344.22 449.66L339.86 448.5L335.5 447.33L335.34 447.29L331.14 446.11L326.78 444.89L322.42 443.66L322.29 443.62L318.06 442.37L313.7 441.08L309.89 439.95L309.34 439.78L304.98 438.43L300.62 437.07L298.11 436.28L296.26 435.68L291.9 434.25L287.54 432.82L286.91 432.61L283.18 431.33L278.82 429.83L276.26 428.94L274.46 428.29L270.1 426.71L266.13 425.27L265.74 425.12L261.38 423.47L257.02 421.81L256.48 421.6L252.66 420.08L248.3 418.33L247.29 417.93L243.94 416.53L239.58 414.7L238.54 414.26L235.22 412.81L230.86 410.89L230.18 410.59L226.5 408.9L222.22 406.92L222.14 406.88L217.78 404.78L214.61 403.25L213.42 402.65L209.06 400.45L207.34 399.58L204.7 398.19L200.4 395.91L200.34 395.88L195.98 393.48L193.75 392.24L191.62 391.01L187.39 388.57L187.26 388.49L182.9 385.87L181.3 384.9L178.54 383.17L175.47 381.23L174.18 380.39L169.87 377.56L169.82 377.52L165.46 374.55L164.5 373.89L161.1 371.47L159.35 370.22L156.74 368.29L155.39 366.55L152.65 362.88L152.38 362.51L151.21 359.21L149.95 355.54L148.72 351.87L148.02 349.7L147.69 348.2L146.91 344.53L146.15 340.86L145.41 337.19L144.68 333.52L143.98 329.85L143.66 328.18L143.56 326.18L143.38 322.51L143.2 318.84L143.02 315.17L142.85 311.5L142.68 307.83L142.52 304.16L142.35 300.49L142.19 296.82L142.03 293.15L141.88 289.48L141.72 285.81L141.57 282.14L141.42 278.47L141.27 274.8L141.13 271.13L140.98 267.46L140.84 263.79L140.7 260.12L140.56 256.45L140.42 252.78L140.28 249.11L140.15 245.44L140.01 241.77L139.88 238.1L139.75 234.43L139.62 230.76L139.49 227.09L139.36 223.42L139.3 221.84L139.3 223.42L139.3 227.09L139.3 230.76L139.3 234.43L139.3 238.1L139.3 241.77L139.3 245.44L139.3 249.11L139.3 252.78L139.3 256.45L139.3 260.12L139.3 263.79L139.3 267.46L139.3 271.13L139.3 274.8L139.3 278.47L139.3 282.14L139.3 285.81L139.3 289.48L139.3 293.15L139.3 295.23L139.37 296.82L139.53 300.49L139.69 304.16L139.86 307.83L140.02 311.5L140.2 315.17L140.37 318.84L140.55 322.51L140.73 326.18L140.91 329.85L141.1 333.52L141.3 337.19L141.5 340.86L141.7 344.53L141.91 348.2L142.12 351.87L142.34 355.54L142.56 359.21L142.79 362.88L143.03 366.55L143.28 370.22L143.53 373.89L143.66 375.77L144.14 377.56L145.14 381.23L146.18 384.9L147.26 388.57L148.02 391.06L148.55 392.24L150.29 395.91L152.08 399.58L152.38 400.17L155.64 403.25L156.74 404.25L161.1 406.45L162.03 406.92L165.46 408.58L169.63 410.59L169.82 410.68L174.18 412.69L177.61 414.26L178.54 414.67L182.9 416.58L186 417.93L187.26 418.46L191.62 420.28L194.81 421.6L195.98 422.06L200.34 423.79L204.08 425.27L204.7 425.51L209.06 427.15L213.42 428.79L213.82 428.94L217.78 430.36L222.14 431.92L224.08 432.61L226.5 433.44L230.86 434.92L234.89 436.28L235.22 436.39L239.58 437.8L243.94 439.2L246.27 439.95L248.3 440.58L252.66 441.91L257.02 443.24L258.26 443.62L261.38 444.53L265.74 445.8L270.1 447.06L270.91 447.29L274.46 448.27L278.82 449.47L283.18 450.67L284.25 450.96L287.54 451.82L291.9 452.96L296.26 454.09Z" fill="#e86c12" stroke="#e86c12" stroke-width="0.6"/>
<path d="M233.05 454.63L235.22 455.18L239.58 456.3L243.94 457.4L247.49 458.3L248.3 458.3L252.66 458.3L257.02 458.3L261.38 458.3L265.74 458.3L270.1 458.3L274.46 458.3L278.82 458.3L283.18 458.3L287.54 458.3L291.9 458.3L296.26 458.3L300.62 458.3L304.98 458.3L309.34 458.3L313.19 458.3L309.34 457.35L304.98 456.28L300.62 455.2L298.33 454.63L296.26 454.09L291.9 452.96L287.54 451.82L284.25 450.96L283.18 450.67L278.82 449.47L274.46 448.27L270.91 447.29L270.1 447.06L265.74 445.8L261.38 444.53L258.26 443.62L257.02 443.24L252.66 441.91L248.3 440.58L246.27 439.95L243.94 439.2L239.58 437.8L235.22 436.39L234.89 436.28L230.86 434.92L226.5 433.44L224.08 432.61L222.14 431.92L217.78 430.36L213.82 428.94L213.42 428.79L209.06 427.15L204.7 425.51L204.08 425.27L200.34 423.79L195.98 422.06L194.81 421.6L191.62 420.28L187.26 418.46L186 417.93L182.9 416.58L178.54 414.67L177.61 414.26L174.18 412.69L169.82 410.68L169.63 410.59L165.46 408.58L162.03 406.92L161.1 406.45L156.74 404.25L155.64 403.25L152.38 400.17L152.08 399.58L150.29 395.91L148.55 392.24L148.02 391.06L147.26 388.57L146.18 384.9L145.14 381.23L144.14 377.56L143.66 375.77L143.53 373.89L143.28 370.22L143.03 366.55L142.79 362.88L142.56 359.21L142.34 355.54L142.12 351.87L141.91 348.2L141.7 344.53L141.5 340.86L141.3 337.19L141.1 333.52L140.91 329.85L140.73 326.18L140.55 322.51L140.37 318.84L140.2 315.17L140.02 311.5L139.86 307.83L139.69 304.16L139.53 300.49L139.37 296.82L139.3 295.23L139.3 296.82L139.3 300.49L139.3 304.16L139.3 307.83L139.3 311.5L139.3 315.17L139.3 318.84L139.3 322.51L139.3 326.18L139.3 329.85L139.3 333.52L139.3 337.19L139.3 340.86L139.3 344.53L139.3 348.2L139.3 351.87L139.3 352.14L139.5 355.54L139.73 359.21L139.96 362.88L140.19 366.55L140.44 370.22L140.69 373.89L140.95 377.56L141.21 381.23L141.49 384.9L141.77 388.57L142.07 392.24L142.37 395.91L142.69 399.58L143.02 403.25L143.36 406.92L143.66 410.08L143.84 410.59L145.23 414.26L146.67 417.93L148.02 421.23L148.25 421.6L150.6 425.27L152.38 427.93L153.8 428.94L156.74 430.94L161.1 432.55L161.26 432.61L165.46 434.1L169.82 435.63L171.66 436.28L174.18 437.13L178.54 438.58L182.64 439.95L182.9 440.03L187.26 441.42L191.62 442.8L194.23 443.62L195.98 444.15L200.34 445.46L204.7 446.76L206.47 447.29L209.06 448.03L213.42 449.27L217.78 450.5L219.39 450.96L222.14 451.7L226.5 452.88L230.86 454.04Z" fill="#df620d" stroke="#df620d" stroke-width="0.6"/>
<path d="M167.78 454.63L169.82 455.17L174.18 456.31L178.54 457.45L181.79 458.3L182.9 458.3L187.26 458.3L191.62 458.3L195.98 458.3L200.34 458.3L204.7 458.3L209.06 458.3L213.42 458.3L217.78 458.3L222.14 458.3L226.5 458.3L230.86 458.3L235.22 458.3L239.58 458.3L243.94 458.3L247.49 458.3L243.94 457.4L239.58 456.3L235.22 455.18L233.05 454.63L230.86 454.04L226.5 452.88L222.14 451.7L219.39 450.96L217.78 450.5L213.42 449.27L209.06 448.03L206.47 447.29L204.7 446.76L200.34 445.46L195.98 444.15L194.23 443.62L191.62 442.8L187.26 441.42L182.9 440.03L182.64 439.95L178.54 438.58L174.18 437.13L171.66 436.28L169.82 435.63L165.46 434.1L161.26 432.61L161.1 432.55L156.74 430.94L153.8 428.94L152.38 427.93L150.6 425.27L148.25 421.6L148.02 421.23L146.67 417.93L145.23 414.26L143.84 410.59L143.66 410.08L143.36 406.92L143.02 403.25L142.69 399.58L142.37 395.91L142.07 392.24L141.77 388.57L141.49 384.9L141.21 381.23L140.95 377.56L140.69 373.89L140.44 370.22L140.19 366.55L139.96 362.88L139.73 359.21L139.5 355.54L139.3 352.14L139.3 355.54L139.3 359.21L139.3 362.88L139.3 366.55L139.3 370.22L139.3 373.89L139.3 377.56L139.3 381.23L139.3 384.9L139.3 388.57L139.3 392.24L139.3 393.15L139.53 395.91L139.84 399.58L140.17 403.25L140.51 406.92L140.86 410.59L141.23 414.26L141.61 417.93L142 421.6L142.41 425.27L142.84 428.94L143.28 432.61L143.66 435.58L144 436.28L145.84 439.95L147.77 443.62L148.02 444.07L150.69 447.29L152.38 449.24L155.55 450.96L156.74 451.57L161.1 452.78L165.46 453.99Z" fill="#d75908" stroke="#d75908" stroke-width="0.6"/>
<path d="M143.54 454.63L143.66 455.37L145.5 458.3L148.02 458.3L152.38 458.3L156.74 458.3L161.1 458.3L165.46 458.3L169.82 458.3L174.18 458.3L178.54 458.3L181.79 458.3L178.54 457.45L174.18 456.31L169.82 455.17L167.78 454.63L165.46 453.99L161.1 452.78L156.74 451.57L155.55 450.96L152.38 449.24L150.69 447.29L148.02 444.07L147.77 443.62L145.84 439.95L144 436.28L143.66 435.58L143.28 432.61L142.84 428.94L142.41 425.27L142 421.6L141.61 417.93L141.23 414.26L140.86 410.59L140.51 406.92L140.17 403.25L139.84 399.58L139.53 395.91L139.3 393.15L139.3 395.91L139.3 399.58L139.3 403.25L139.3 406.92L139.3 410.59L139.3 414.26L139.3 417.93L139.3 421.6L139.3 422.94L139.56 425.27L139.99 428.94L140.43 432.61L140.9 436.28L141.38 439.95L141.88 443.62L142.41 447.29L142.96 450.96Z" fill="#ce4f03" stroke="#ce4f03" stroke-width="0.6"/>
<path d="M141.28 458.3L143.66 458.3L145.5 458.3L143.66 455.37L143.54 454.63L142.96 450.96L142.41 447.29L141.88 443.62L141.38 439.95L140.9 436.28L140.43 432.61L139.99 428.94L139.56 425.27L139.3 422.94L139.3 425.27L139.3 428.94L139.3 432.61L139.3 436.28L139.3 439.95L139.3 443.62L139.3 445.51L139.56 447.29L140.11 450.96L140.68 454.63Z" fill="#c14702" stroke="#c14702" stroke-width="0.6"/>
<path d="M139.3 458.3L141.28 458.3L140.68 454.63L140.11 450.96L139.56 447.29L139.3 445.51L139.3 447.29L139.3 450.96L139.3 454.63Z" fill="#b44103" stroke="#b44103" stroke-width="0.6"/>
</g>
<g clip-path="url(#clip_b)" shape-rendering="geometricPrecision">
<path d="M601.5 252.78L601.5 255.6L601.56 252.78L601.63 249.11L601.7 245.44L601.77 241.77L601.85 238.1L601.92 234.43L601.99 230.76L602.06 227.09L602.14 223.42L602.21 219.75L602.28 216.08L602.35 212.41L602.42 208.74L602.5 205.07L602.57 201.4L602.64 197.73L602.71 194.06L602.78 190.39L602.85 186.72L602.92 183.05L602.99 179.38L603.06 175.71L603.13 172.04L603.19 168.37L603.26 164.7L603.33 161.03L603.4 157.36L603.46 153.69L603.53 150.02L603.59 146.35L603.66 142.68L603.72 139.01L603.79 135.34L603.85 131.67L603.91 128L603.97 124.33L604.03 120.66L604.09 116.99L604.15 113.32L604.21 109.65L604.27 105.98L604.32 102.31L604.36 98.64L604.4 94.97L604.45 91.3L604.49 87.63L604.53 83.96L604.57 80.29L604.62 76.62L604.66 72.95L604.71 69.28L604.75 65.61L604.8 61.94L604.84 58.27L604.89 54.6L604.93 50.93L604.98 47.26L605.02 43.59L605.07 39.92L605.12 36.25L605.16 32.58L605.21 28.91L605.25 25.24L605.29 21.57L605.34 17.9L601.5 17.9L601.5 21.57L601.5 25.24L601.5 28.91L601.5 32.58L601.5 36.25L601.5 39.92L601.5 43.59L601.5 47.26L601.5 50.93L601.5 54.6L601.5 58.27L601.5 61.94L601.5 65.61L601.5 69.28L601.5 72.95L601.5 76.62L601.5 80.29L601.5 83.96L601.5 87.63L601.5 91.3L601.5 94.97L601.5 98.64L601.5 102.31L601.5 105.98L601.5 109.65L601.5 113.32L601.5 116.99L601.5 120.66L601.5 124.33L601.5 128L601.5 131.67L601.5 135.34L601.5 139.01L601.5 142.68L601.5 146.35L601.5 150.02L601.5 153.69L601.5 157.36L601.5 161.03L601.5 164.7L601.5 168.37L601.5 172.04L601.5 175.71L601.5 179.38L601.5 183.05L601.5 186.72L601.5 190.39L601.5 194.06L601.5 197.73L601.5 201.4L601.5 205.07L601.5 208.74L601.5 212.41L601.5 216.08L601.5 219.75L601.5 223.42L601.5 227.09L601.5 230.76L601.5 234.43L601.5 238.1L601.5 241.77L601.5 245.44L601.5 249.11Z" fill="#fff8c4" stroke="#fff8c4" stroke-width="0.6"/>
<path d="M601.5 300.49L603.25 301.96L603.28 300.49L603.35 296.82L603.42 293.15L603.49 289.48L603.57 285.81L603.64 282.14L603.71 278.47L603.78 274.8L603.86 271.13L603.93 267.46L604 263.79L604.08 260.12L604.15 256.45L604.23 252.78L604.3 249.11L604.37 245.44L604.45 241.77L604.52 238.1L604.6 234.43L604.67 230.76L604.75 227.09L604.82 223.42L604.89 219.75L604.97 216.08L605.04 212.41L605.12 208.74L605.19 205.07L605.26 201.4L605.34 197.73L605.41 194.06L605.48 190.39L605.56 186.72L605.63 183.05L605.7 179.38L605.77 175.71L605.85 172.04L605.86 171.28L605.94 168.37L606.03 164.7L606.13 161.03L606.23 157.36L606.32 153.69L606.42 150.02L606.52 146.35L606.61 142.68L606.71 139.01L606.8 135.34L606.9 131.67L606.99 128L607.09 124.33L607.18 120.66L607.27 116.99L607.36 113.32L607.45 109.65L607.55 105.98L607.64 102.31L607.73 98.64L607.81 94.97L607.9 91.3L607.99 87.63L608.08 83.96L608.16 80.29L608.25 76.62L608.33 72.95L608.41 69.28L608.5 65.61L608.58 61.94L608.66 58.27L608.74 54.6L608.82 50.93L608.89 47.26L608.97 43.59L609.04 39.92L609.12 36.25L609.19 32.58L609.26 28.91L609.33 25.24L609.4 21.57L609.46 17.9L605.86 17.9L605.34 17.9L605.29 21.57L605.25 25.24L605.21 28.91L605.16 32.58L605.12 36.25L605.07 39.92L605.02 43.59L604.98 47.26L604.93 50.93L604.89 54.6L604.84 58.27L604.8 61.94L604.75 65.61L604.71 69.28L604.66 72.95L604.62 76.62L604.57 80.29L604.53 83.96L604.49 87.63L604.45 91.3L604.4 94.97L604.36 98.64L604.32 102.31L604.27 105.98L604.21 109.65L604.15 113.32L604.09 116.99L604.03 120.66L603.97 124.33L603.91 128L603.85 131.67L603.79 135.34L603.72 139.01L603.66 142.68L603.59 146.35L603.53 150.02L603.46 153.69L603.4 157.36L603.33 161.03L603.26 164.7L603.19 168.37L603.13 172.04L603.06 175.71L602.99 179.38L602.92 183.05L602.85 186.72L602.78 190.39L602.71 194.06L602.64 197.73L602.57 201.4L602.5 205.07L602.42 208.74L602.35 212.41L602.28 216.08L602.21 219.75L602.14 223.42L602.06 227.09L601.99 230.76L601.92 234.43L601.85 238.1L601.77 241.77L601.7 245.44L601.63 249.11L601.56 252.78L601.5 255.6L601.5 256.45L601.5 260.12L601.5 263.79L601.5 267.46L601.5 271.13L601.5 274.8L601.5 278.47L601.5 282.14L601.5 285.81L601.5 289.48L601.5 293.15L601.5 296.82Z" fill="#fff6b9" stroke="#fff6b9" stroke-width="0.6"/>
<path d="M603.25 301.96L605.86 304.16L605.86 303.92L605.95 300.49L606.04 296.82L606.14 293.15L606.23 289.48L606.33 285.81L606.43 282.14L606.52 278.47L606.62 274.8L606.72 271.13L606.82 267.46L606.92 263.79L607.02 260.12L607.12 256.45L607.22 252.78L607.32 249.11L607.43 245.44L607.53 241.77L607.63 238.1L607.74 234.43L607.84 230.76L607.94 227.09L608.05 223.42L608.15 219.75L608.26 216.08L608.36 212.41L608.47 208.74L608.57 205.07L608.68 201.4L608.79 197.73L608.89 194.06L609 190.39L609.1 186.72L609.21 183.05L609.32 179.38L609.42 175.71L609.53 172.04L609.64 168.37L609.74 164.7L609.85 161.03L609.95 157.36L610.06 153.69L610.16 150.02L610.22 148.1L610.28 146.35L610.42 142.68L610.55 139.01L610.68 135.34L610.81 131.67L610.94 128L611.07 124.33L611.2 120.66L611.33 116.99L611.46 113.32L611.58 109.65L611.71 105.98L611.84 102.31L611.96 98.64L612.09 94.97L612.21 91.3L612.33 87.63L612.45 83.96L612.57 80.29L612.69 76.62L612.81 72.95L612.93 69.28L613.04 65.61L613.15 61.94L613.27 58.27L613.38 54.6L613.49 50.93L613.59 47.26L613.7 43.59L613.8 39.92L613.9 36.25L614 32.58L614.1 28.91L614.2 25.24L614.29 21.57L614.38 17.9L610.22 17.9L609.46 17.9L609.4 21.57L609.33 25.24L609.26 28.91L609.19 32.58L609.12 36.25L609.04 39.92L608.97 43.59L608.89 47.26L608.82 50.93L608.74 54.6L608.66 58.27L608.58 61.94L608.5 65.61L608.41 69.28L608.33 72.95L608.25 76.62L608.16 80.29L608.08 83.96L607.99 87.63L607.9 91.3L607.81 94.97L607.73 98.64L607.64 102.31L607.55 105.98L607.45 109.65L607.36 113.32L607.27 116.99L607.18 120.66L607.09 124.33L606.99 128L606.9 131.67L606.8 135.34L606.71 139.01L606.61 142.68L606.52 146.35L606.42 150.02L606.32 153.69L606.23 157.36L606.13 161.03L606.03 164.7L605.94 168.37L605.86 171.28L605.85 172.04L605.77 175.71L605.7 179.38L605.63 183.05L605.56 186.72L605.48 190.39L605.41 194.06L605.34 197.73L605.26 201.4L605.19 205.07L605.12 208.74L605.04 212.41L604.97 216.08L604.89 219.75L604.82 223.42L604.75 227.09L604.67 230.76L604.6 234.43L604.52 238.1L604.45 241.77L604.37 245.44L604.3 249.11L604.23 252.78L604.15 256.45L604.08 260.12L604 263.79L603.93 267.46L603.86 271.13L603.78 274.8L603.71 278.47L603.64 282.14L603.57 285.81L603.49 289.48L603.42 293.15L603.35 296.82L603.28 300.49Z" fill="#fff0ad" stroke="#fff0ad" stroke-width="0.6"/>
<path d="M605.86 322.51L608.72 324.92L608.79 322.51L608.88 318.84L608.98 315.17L609.08 311.5L609.18 307.83L609.28 304.16L609.38 300.49L609.48 296.82L609.58 293.15L609.68 289.48L609.78 285.81L609.89 282.14L609.99 278.47L610.1 274.8L610.2 271.13L610.22 270.51L610.33 267.46L610.46 263.79L610.6 260.12L610.73 256.45L610.87 252.78L611.01 249.11L611.14 245.44L611.28 241.77L611.42 238.1L611.56 234.43L611.7 230.76L611.84 227.09L611.98 223.42L612.12 219.75L612.26 216.08L612.4 212.41L612.55 208.74L612.69 205.07L612.83 201.4L612.98 197.73L613.12 194.06L613.27 190.39L613.41 186.72L613.56 183.05L613.7 179.38L613.84 175.71L613.99 172.04L614.13 168.37L614.28 164.7L614.42 161.03L614.57 157.36L614.58 157.09L614.74 153.69L614.91 150.02L615.09 146.35L615.26 142.68L615.43 139.01L615.6 135.34L615.77 131.67L615.94 128L616.11 124.33L616.27 120.66L616.44 116.99L616.61 113.32L616.77 109.65L616.93 105.98L617.1 102.31L617.26 98.64L617.41 94.97L617.57 91.3L617.73 87.63L617.88 83.96L618.04 80.29L618.19 76.62L618.34 72.95L618.48 69.28L618.63 65.61L618.77 61.94L618.91 58.27L618.94 57.51L619.06 54.6L619.22 50.93L619.37 47.26L619.52 43.59L619.67 39.92L619.81 36.25L619.95 32.58L620.08 28.91L620.22 25.24L620.34 21.57L620.47 17.9L618.94 17.9L614.58 17.9L614.38 17.9L614.29 21.57L614.2 25.24L614.1 28.91L614 32.58L613.9 36.25L613.8 39.92L613.7 43.59L613.59 47.26L613.49 50.93L613.38 54.6L613.27 58.27L613.15 61.94L613.04 65.61L612.93 69.28L612.81 72.95L612.69 76.62L612.57 80.29L612.45 83.96L612.33 87.63L612.21 91.3L612.09 94.97L611.96 98.64L611.84 102.31L611.71 105.98L611.58 109.65L611.46 113.32L611.33 116.99L611.2 120.66L611.07 124.33L610.94 128L610.81 131.67L610.68 135.34L610.55 139.01L610.42 142.68L610.28 146.35L610.22 148.1L610.16 150.02L610.06 153.69L609.95 157.36L609.85 161.03L609.74 164.7L609.64 168.37L609.53 172.04L609.42 175.71L609.32 179.38L609.21 183.05L609.1 186.72L609 190.39L608.89 194.06L608.79 197.73L608.68 201.4L608.57 205.07L608.47 208.74L608.36 212.41L608.26 216.08L608.15 219.75L608.05 223.42L607.94 227.09L607.84 230.76L607.74 234.43L607.63 238.1L607.53 241.77L607.43 245.44L607.32 249.11L607.22 252.78L607.12 256.45L607.02 260.12L606.92 263.79L606.82 267.46L606.72 271.13L606.62 274.8L606.52 278.47L606.43 282.14L606.33 285.81L606.23 289.48L606.14 293.15L606.04 296.82L605.95 300.49L605.86 303.92L605.86 304.16L605.86 304.16L605.86 307.83L605.86 311.5L605.86 315.17L605.86 318.84Z" fill="#feeba2" stroke="#feeba2" stroke-width="0.6"/>
<path d="M610.22 337.19L612.1 338.77L612.15 337.19L612.27 333.52L612.4 329.85L612.52 326.18L612.65 322.51L612.78 318.84L612.91 315.17L613.04 311.5L613.17 307.83L613.3 304.16L613.43 300.49L613.57 296.82L613.7 293.15L613.84 289.48L613.98 285.81L614.12 282.14L614.25 278.47L614.4 274.8L614.54 271.13L614.58 270.03L614.7 267.46L614.87 263.79L615.05 260.12L615.22 256.45L615.4 252.78L615.58 249.11L615.75 245.44L615.93 241.77L616.11 238.1L616.29 234.43L616.47 230.76L616.66 227.09L616.84 223.42L617.02 219.75L617.2 216.08L617.39 212.41L617.57 208.74L617.76 205.07L617.94 201.4L618.13 197.73L618.32 194.06L618.5 190.39L618.69 186.72L618.87 183.05L618.94 181.75L619.08 179.38L619.3 175.71L619.51 172.04L619.73 168.37L619.94 164.7L620.16 161.03L620.37 157.36L620.59 153.69L620.8 150.02L621.01 146.35L621.22 142.68L621.43 139.01L621.64 135.34L621.85 131.67L622.05 128L622.26 124.33L622.46 120.66L622.66 116.99L622.86 113.32L623.06 109.65L623.26 105.98L623.3 105.16L623.47 102.31L623.69 98.64L623.9 94.97L624.11 91.3L624.32 87.63L624.52 83.96L624.72 80.29L624.92 76.62L625.12 72.95L625.31 69.28L625.5 65.61L625.69 61.94L625.87 58.27L626.05 54.6L626.23 50.93L626.4 47.26L626.57 43.59L626.73 39.92L626.89 36.25L627.05 32.58L627.2 28.91L627.35 25.24L627.49 21.57L627.63 17.9L623.3 17.9L620.47 17.9L620.34 21.57L620.22 25.24L620.08 28.91L619.95 32.58L619.81 36.25L619.67 39.92L619.52 43.59L619.37 47.26L619.22 50.93L619.06 54.6L618.94 57.51L618.91 58.27L618.77 61.94L618.63 65.61L618.48 69.28L618.34 72.95L618.19 76.62L618.04 80.29L617.88 83.96L617.73 87.63L617.57 91.3L617.41 94.97L617.26 98.64L617.1 102.31L616.93 105.98L616.77 109.65L616.61 113.32L616.44 116.99L616.27 120.66L616.11 124.33L615.94 128L615.77 131.67L615.6 135.34L615.43 139.01L615.26 142.68L615.09 146.35L614.91 150.02L614.74 153.69L614.58 157.09L614.57 157.36L614.42 161.03L614.28 164.7L614.13 168.37L613.99 172.04L613.84 175.71L613.7 179.38L613.56 183.05L613.41 186.72L613.27 190.39L613.12 194.06L612.98 197.73L612.83 201.4L612.69 205.07L612.55 208.74L612.4 212.41L612.26 216.08L612.12 219.75L611.98 223.42L611.84 227.09L611.7 230.76L611.56 234.43L611.42 238.1L611.28 241.77L611.14 245.44L611.01 249.11L610.87 252.78L610.73 256.45L610.6 260.12L610.46 263.79L610.33 267.46L610.22 270.51L610.2 271.13L610.1 274.8L609.99 278.47L609.89 282.14L609.78 285.81L609.68 289.48L609.58 293.15L609.48 296.82L609.38 300.49L609.28 304.16L609.18 307.83L609.08 311.5L608.98 315.17L608.88 318.84L608.79 322.51L608.72 324.92L610.22 326.18L610.22 329.85L610.22 333.52Z" fill="#fee596" stroke="#fee596" stroke-width="0.6"/>
<path d="M614.58 355.54L615.89 356.64L615.93 355.54L616.08 351.87L616.23 348.2L616.38 344.53L616.54 340.86L616.69 337.19L616.85 333.52L617.01 329.85L617.17 326.18L617.34 322.51L617.5 318.84L617.67 315.17L617.83 311.5L618 307.83L618.17 304.16L618.34 300.49L618.52 296.82L618.69 293.15L618.87 289.48L618.94 287.95L619.06 285.81L619.27 282.14L619.48 278.47L619.7 274.8L619.91 271.13L620.13 267.46L620.35 263.79L620.56 260.12L620.78 256.45L621 252.78L621.22 249.11L621.44 245.44L621.67 241.77L621.89 238.1L622.11 234.43L622.34 230.76L622.56 227.09L622.79 223.42L623.02 219.75L623.24 216.08L623.3 215.14L623.49 212.41L623.75 208.74L624.01 205.07L624.27 201.4L624.53 197.73L624.79 194.06L625.05 190.39L625.31 186.72L625.56 183.05L625.82 179.38L626.07 175.71L626.33 172.04L626.58 168.37L626.84 164.7L627.09 161.03L627.34 157.36L627.59 153.69L627.66 152.62L627.85 150.02L628.13 146.35L628.4 142.68L628.67 139.01L628.94 135.34L629.2 131.67L629.46 128L629.72 124.33L629.98 120.66L630.23 116.99L630.48 113.32L630.73 109.65L630.98 105.98L631.22 102.31L631.46 98.64L631.7 94.97L631.93 91.3L632.02 89.87L632.17 87.63L632.42 83.96L632.66 80.29L632.9 76.62L633.13 72.95L633.36 69.28L633.59 65.61L633.81 61.94L634.02 58.27L634.24 54.6L634.44 50.93L634.65 47.26L634.85 43.59L635.04 39.92L635.23 36.25L635.42 32.58L635.6 28.91L635.77 25.24L635.95 21.57L636.11 17.9L632.02 17.9L627.66 17.9L627.63 17.9L627.49 21.57L627.35 25.24L627.2 28.91L627.05 32.58L626.89 36.25L626.73 39.92L626.57 43.59L626.4 47.26L626.23 50.93L626.05 54.6L625.87 58.27L625.69 61.94L625.5 65.61L625.31 69.28L625.12 72.95L624.92 76.62L624.72 80.29L624.52 83.96L624.32 87.63L624.11 91.3L623.9 94.97L623.69 98.64L623.47 102.31L623.3 105.16L623.26 105.98L623.06 109.65L622.86 113.32L622.66 116.99L622.46 120.66L622.26 124.33L622.05 128L621.85 131.67L621.64 135.34L621.43 139.01L621.22 142.68L621.01 146.35L620.8 150.02L620.59 153.69L620.37 157.36L620.16 161.03L619.94 164.7L619.73 168.37L619.51 172.04L619.3 175.71L619.08 179.38L618.94 181.75L618.87 183.05L618.69 186.72L618.5 190.39L618.32 194.06L618.13 197.73L617.94 201.4L617.76 205.07L617.57 208.74L617.39 212.41L617.2 216.08L617.02 219.75L616.84 223.42L616.66 227.09L616.47 230.76L616.29 234.43L616.11 238.1L615.93 241.77L615.75 245.44L615.58 249.11L615.4 252.78L615.22 256.45L615.05 260.12L614.87 263.79L614.7 267.46L614.58 270.03L614.54 271.13L614.4 274.8L614.25 278.47L614.12 282.14L613.98 285.81L613.84 289.48L613.7 293.15L613.57 296.82L613.43 300.49L613.3 304.16L613.17 307.83L613.04 311.5L612.91 315.17L612.78 318.84L612.65 322.51L612.52 326.18L612.4 329.85L612.27 333.52L612.15 337.19L612.1 338.77L614.58 340.86L614.58 344.53L614.58 348.2L614.58 351.87Z" fill="#fede86" stroke="#fede86" stroke-width="0.6"/>
<path d="M618.94 366.55L620.71 368.04L620.78 366.55L620.96 362.88L621.14 359.21L621.33 355.54L621.51 351.87L621.7 348.2L621.89 344.53L622.08 340.86L622.28 337.19L622.47 333.52L622.67 329.85L622.87 326.18L623.08 322.51L623.28 318.84L623.3 318.48L623.52 315.17L623.76 311.5L624 307.83L624.25 304.16L624.5 300.49L624.75 296.82L625 293.15L625.25 289.48L625.5 285.81L625.76 282.14L626.01 278.47L626.27 274.8L626.53 271.13L626.79 267.46L627.05 263.79L627.31 260.12L627.57 256.45L627.66 255.17L627.85 252.78L628.15 249.11L628.45 245.44L628.75 241.77L629.05 238.1L629.35 234.43L629.65 230.76L629.95 227.09L630.25 223.42L630.55 219.75L630.84 216.08L631.14 212.41L631.44 208.74L631.73 205.07L632.02 201.52L632.03 201.4L632.36 197.73L632.68 194.06L633 190.39L633.32 186.72L633.64 183.05L633.96 179.38L634.27 175.71L634.59 172.04L634.9 168.37L635.21 164.7L635.51 161.03L635.81 157.36L636.12 153.69L636.38 150.43L636.42 150.02L636.74 146.35L637.05 142.68L637.37 139.01L637.68 135.34L637.98 131.67L638.29 128L638.59 124.33L638.88 120.66L639.18 116.99L639.46 113.32L639.75 109.65L640.03 105.98L640.31 102.31L640.58 98.64L640.74 96.49L640.86 94.97L641.15 91.3L641.43 87.63L641.7 83.96L641.98 80.29L642.24 76.62L642.51 72.95L642.77 69.28L643.02 65.61L643.27 61.94L643.52 58.27L643.76 54.6L644 50.93L644.23 47.26L644.46 43.59L644.68 39.92L644.9 36.25L645.1 32.91L645.12 32.58L645.35 28.91L645.57 25.24L645.79 21.57L646 17.9L645.1 17.9L640.74 17.9L636.38 17.9L636.11 17.9L635.95 21.57L635.77 25.24L635.6 28.91L635.42 32.58L635.23 36.25L635.04 39.92L634.85 43.59L634.65 47.26L634.44 50.93L634.24 54.6L634.02 58.27L633.81 61.94L633.59 65.61L633.36 69.28L633.13 72.95L632.9 76.62L632.66 80.29L632.42 83.96L632.17 87.63L632.02 89.87L631.93 91.3L631.7 94.97L631.46 98.64L631.22 102.31L630.98 105.98L630.73 109.65L630.48 113.32L630.23 116.99L629.98 120.66L629.72 124.33L629.46 128L629.2 131.67L628.94 135.34L628.67 139.01L628.4 142.68L628.13 146.35L627.85 150.02L627.66 152.62L627.59 153.69L627.34 157.36L627.09 161.03L626.84 164.7L626.58 168.37L626.33 172.04L626.07 175.71L625.82 179.38L625.56 183.05L625.31 186.72L625.05 190.39L624.79 194.06L624.53 197.73L624.27 201.4L624.01 205.07L623.75 208.74L623.49 212.41L623.3 215.14L623.24 216.08L623.02 219.75L622.79 223.42L622.56 227.09L622.34 230.76L622.11 234.43L621.89 238.1L621.67 241.77L621.44 245.44L621.22 249.11L621 252.78L620.78 256.45L620.56 260.12L620.35 263.79L620.13 267.46L619.91 271.13L619.7 274.8L619.48 278.47L619.27 282.14L619.06 285.81L618.94 287.95L618.87 289.48L618.69 293.15L618.52 296.82L618.34 300.49L618.17 304.16L618 307.83L617.83 311.5L617.67 315.17L617.5 318.84L617.34 322.51L617.17 326.18L617.01 329.85L616.85 333.52L616.69 337.19L616.54 340.86L616.38 344.53L616.23 348.2L616.08 351.87L615.93 355.54L615.89 356.64L618.94 359.21L618.94 362.88Z" fill="#fed676" stroke="#fed676" stroke-width="0.6"/>
<path d="M623.3 381.23L626.35 383.8L626.49 381.23L626.69 377.56L626.9 373.89L627.11 370.22L627.33 366.55L627.54 362.88L627.66 360.92L627.78 359.21L628.04 355.54L628.3 351.87L628.56 348.2L628.83 344.53L629.09 340.86L629.37 337.19L629.64 333.52L629.91 329.85L630.19 326.18L630.47 322.51L630.75 318.84L631.03 315.17L631.32 311.5L631.6 307.83L631.89 304.16L632.02 302.51L632.2 300.49L632.53 296.82L632.86 293.15L633.19 289.48L633.52 285.81L633.86 282.14L634.19 278.47L634.52 274.8L634.86 271.13L635.19 267.46L635.52 263.79L635.86 260.12L636.19 256.45L636.38 254.36L636.54 252.78L636.91 249.11L637.28 245.44L637.64 241.77L638.01 238.1L638.37 234.43L638.74 230.76L639.1 227.09L639.46 223.42L639.81 219.75L640.17 216.08L640.52 212.41L640.74 210.12L640.88 208.74L641.27 205.07L641.64 201.4L642.02 197.73L642.39 194.06L642.76 190.39L643.12 186.72L643.49 183.05L643.85 179.38L644.2 175.71L644.55 172.04L644.9 168.37L645.1 166.25L645.26 164.7L645.63 161.03L645.99 157.36L646.35 153.69L646.71 150.02L647.06 146.35L647.41 142.68L647.75 139.01L648.09 135.34L648.43 131.67L648.76 128L649.09 124.33L649.41 120.66L649.46 120.11L649.75 116.99L650.09 113.32L650.42 109.65L650.75 105.98L651.08 102.31L651.4 98.64L651.72 94.97L652.03 91.3L652.34 87.63L652.64 83.96L652.94 80.29L653.24 76.62L653.53 72.95L653.82 69.28L653.82 69.23L654.12 65.61L654.42 61.94L654.72 58.27L655.01 54.6L655.3 50.93L655.58 47.26L655.86 43.59L656.14 39.92L656.41 36.25L656.68 32.58L656.95 28.91L657.21 25.24L657.47 21.57L657.72 17.9L653.82 17.9L649.46 17.9L646 17.9L645.79 21.57L645.57 25.24L645.35 28.91L645.12 32.58L645.1 32.91L644.9 36.25L644.68 39.92L644.46 43.59L644.23 47.26L644 50.93L643.76 54.6L643.52 58.27L643.27 61.94L643.02 65.61L642.77 69.28L642.51 72.95L642.24 76.62L641.98 80.29L641.7 83.96L641.43 87.63L641.15 91.3L640.86 94.97L640.74 96.49L640.58 98.64L640.31 102.31L640.03 105.98L639.75 109.65L639.46 113.32L639.18 116.99L638.88 120.66L638.59 124.33L638.29 128L637.98 131.67L637.68 135.34L637.37 139.01L637.05 142.68L636.74 146.35L636.42 150.02L636.38 150.43L636.12 153.69L635.81 157.36L635.51 161.03L635.21 164.7L634.9 168.37L634.59 172.04L634.27 175.71L633.96 179.38L633.64 183.05L633.32 186.72L633 190.39L632.68 194.06L632.36 197.73L632.03 201.4L632.02 201.52L631.73 205.07L631.44 208.74L631.14 212.41L630.84 216.08L630.55 219.75L630.25 223.42L629.95 227.09L629.65 230.76L629.35 234.43L629.05 238.1L628.75 241.77L628.45 245.44L628.15 249.11L627.85 252.78L627.66 255.17L627.57 256.45L627.31 260.12L627.05 263.79L626.79 267.46L626.53 271.13L626.27 274.8L626.01 278.47L625.76 282.14L625.5 285.81L625.25 289.48L625 293.15L624.75 296.82L624.5 300.49L624.25 304.16L624 307.83L623.76 311.5L623.52 315.17L623.3 318.48L623.28 318.84L623.08 322.51L622.87 326.18L622.67 329.85L622.47 333.52L622.28 337.19L622.08 340.86L621.89 344.53L621.7 348.2L621.51 351.87L621.33 355.54L621.14 359.21L620.96 362.88L620.78 366.55L620.71 368.04L623.3 370.22L623.3 373.89L623.3 377.56Z" fill="#fecd63" stroke="#fecd63" stroke-width="0.6"/>
<path d="M632.02 399.58L633.35 400.7L633.43 399.58L633.68 395.91L633.95 392.24L634.21 388.57L634.48 384.9L634.76 381.23L635.04 377.56L635.32 373.89L635.6 370.22L635.89 366.55L636.19 362.88L636.38 360.46L636.49 359.21L636.83 355.54L637.18 351.87L637.52 348.2L637.87 344.53L638.22 340.86L638.57 337.19L638.92 333.52L639.27 329.85L639.63 326.18L639.98 322.51L640.34 318.84L640.7 315.17L640.74 314.71L641.09 311.5L641.49 307.83L641.89 304.16L642.29 300.49L642.7 296.82L643.1 293.15L643.49 289.48L643.89 285.81L644.29 282.14L644.69 278.47L645.08 274.8L645.1 274.62L645.51 271.13L645.94 267.46L646.37 263.79L646.8 260.12L647.23 256.45L647.65 252.78L648.07 249.11L648.48 245.44L648.89 241.77L649.3 238.1L649.46 236.69L649.73 234.43L650.17 230.76L650.61 227.09L651.04 223.42L651.47 219.75L651.89 216.08L652.31 212.41L652.72 208.74L653.13 205.07L653.54 201.4L653.82 198.85L653.95 197.73L654.38 194.06L654.81 190.39L655.23 186.72L655.64 183.05L656.05 179.38L656.46 175.71L656.86 172.04L657.25 168.37L657.64 164.7L658.03 161.03L658.18 159.59L658.43 157.36L658.83 153.69L659.23 150.02L659.63 146.35L660.02 142.68L660.4 139.01L660.78 135.34L661.16 131.67L661.53 128L661.9 124.33L662.26 120.66L662.54 117.78L662.62 116.99L663 113.32L663.38 109.65L663.75 105.98L664.11 102.31L664.47 98.64L664.83 94.97L665.19 91.3L665.54 87.63L665.88 83.96L666.23 80.29L666.57 76.62L666.9 73.02L666.91 72.95L667.26 69.28L667.62 65.61L667.97 61.94L668.32 58.27L668.67 54.6L669.01 50.93L669.36 47.26L669.7 43.59L670.04 39.92L670.37 36.25L670.71 32.58L671.05 28.91L671.26 26.56L671.39 25.24L671.74 21.57L672.1 17.9L671.26 17.9L666.9 17.9L662.54 17.9L658.18 17.9L657.72 17.9L657.47 21.57L657.21 25.24L656.95 28.91L656.68 32.58L656.41 36.25L656.14 39.92L655.86 43.59L655.58 47.26L655.3 50.93L655.01 54.6L654.72 58.27L654.42 61.94L654.12 65.61L653.82 69.23L653.82 69.28L653.53 72.95L653.24 76.62L652.94 80.29L652.64 83.96L652.34 87.63L652.03 91.3L651.72 94.97L651.4 98.64L651.08 102.31L650.75 105.98L650.42 109.65L650.09 113.32L649.75 116.99L649.46 120.11L649.41 120.66L649.09 124.33L648.76 128L648.43 131.67L648.09 135.34L647.75 139.01L647.41 142.68L647.06 146.35L646.71 150.02L646.35 153.69L645.99 157.36L645.63 161.03L645.26 164.7L645.1 166.25L644.9 168.37L644.55 172.04L644.2 175.71L643.85 179.38L643.49 183.05L643.12 186.72L642.76 190.39L642.39 194.06L642.02 197.73L641.64 201.4L641.27 205.07L640.88 208.74L640.74 210.12L640.52 212.41L640.17 216.08L639.81 219.75L639.46 223.42L639.1 227.09L638.74 230.76L638.37 234.43L638.01 238.1L637.64 241.77L637.28 245.44L636.91 249.11L636.54 252.78L636.38 254.36L636.19 256.45L635.86 260.12L635.52 263.79L635.19 267.46L634.86 271.13L634.52 274.8L634.19 278.47L633.86 282.14L633.52 285.81L633.19 289.48L632.86 293.15L632.53 296.82L632.2 300.49L632.02 302.51L631.89 304.16L631.6 307.83L631.32 311.5L631.03 315.17L630.75 318.84L630.47 322.51L630.19 326.18L629.91 329.85L629.64 333.52L629.37 337.19L629.09 340.86L628.83 344.53L628.56 348.2L628.3 351.87L628.04 355.54L627.78 359.21L627.66 360.92L627.54 362.88L627.33 366.55L627.11 370.22L626.9 373.89L626.69 377.56L626.49 381.23L626.35 383.8L627.66 384.9L627.66 388.57L627.66 392.24L632.02 395.91Z" fill="#fec652" stroke="#fec652" stroke-width="0.6"/>
<path d="M640.74 414.26L642.54 415.77L642.67 414.26L643 410.59L643.33 406.92L643.67 403.25L644.01 399.58L644.35 395.91L644.7 392.24L645.05 388.57L645.1 388.08L645.44 384.9L645.85 381.23L646.25 377.56L646.66 373.89L647.07 370.22L647.48 366.55L647.89 362.88L648.3 359.21L648.72 355.54L649.14 351.87L649.46 349.03L649.56 348.2L650.03 344.53L650.49 340.86L650.95 337.19L651.42 333.52L651.88 329.85L652.34 326.18L652.8 322.51L653.26 318.84L653.72 315.17L653.82 314.35L654.21 311.5L654.71 307.83L655.2 304.16L655.7 300.49L656.19 296.82L656.67 293.15L657.16 289.48L657.64 285.81L658.11 282.14L658.18 281.63L658.62 278.47L659.13 274.8L659.64 271.13L660.14 267.46L660.64 263.79L661.13 260.12L661.61 256.45L662.09 252.78L662.54 249.32L662.57 249.11L663.08 245.44L663.58 241.77L664.08 238.1L664.57 234.43L665.05 230.76L665.53 227.09L666 223.42L666.47 219.75L666.9 216.29L666.93 216.08L667.42 212.41L667.9 208.74L668.37 205.07L668.84 201.4L669.31 197.73L669.76 194.06L670.21 190.39L670.66 186.72L671.1 183.05L671.26 181.66L671.55 179.38L672 175.71L672.46 172.04L672.9 168.37L673.34 164.7L673.77 161.03L674.2 157.36L674.63 153.69L675.04 150.02L675.46 146.35L675.62 144.9L675.88 142.68L676.32 139.01L676.74 135.34L677.16 131.67L677.58 128L678 124.33L678.41 120.66L678.81 116.99L679.21 113.32L679.61 109.65L679.98 106.26L680.01 105.98L680.43 102.31L680.85 98.64L681.26 94.97L681.67 91.3L682.08 87.63L682.49 83.96L682.9 80.29L683.31 76.62L683.71 72.95L684.12 69.28L684.34 67.25L684.53 65.61L684.96 61.94L685.39 58.27L685.82 54.6L686.26 50.93L686.69 47.26L687.13 43.59L687.27 42.39L684.34 39.92L684.34 36.25L679.98 32.58L679.98 28.91L679.98 25.24L675.62 21.57L675.62 17.9L672.1 17.9L671.74 21.57L671.39 25.24L671.26 26.56L671.05 28.91L670.71 32.58L670.37 36.25L670.04 39.92L669.7 43.59L669.36 47.26L669.01 50.93L668.67 54.6L668.32 58.27L667.97 61.94L667.62 65.61L667.26 69.28L666.91 72.95L666.9 73.02L666.57 76.62L666.23 80.29L665.88 83.96L665.54 87.63L665.19 91.3L664.83 94.97L664.47 98.64L664.11 102.31L663.75 105.98L663.38 109.65L663 113.32L662.62 116.99L662.54 117.78L662.26 120.66L661.9 124.33L661.53 128L661.16 131.67L660.78 135.34L660.4 139.01L660.02 142.68L659.63 146.35L659.23 150.02L658.83 153.69L658.43 157.36L658.18 159.59L658.03 161.03L657.64 164.7L657.25 168.37L656.86 172.04L656.46 175.71L656.05 179.38L655.64 183.05L655.23 186.72L654.81 190.39L654.38 194.06L653.95 197.73L653.82 198.85L653.54 201.4L653.13 205.07L652.72 208.74L652.31 212.41L651.89 216.08L651.47 219.75L651.04 223.42L650.61 227.09L650.17 230.76L649.73 234.43L649.46 236.69L649.3 238.1L648.89 241.77L648.48 245.44L648.07 249.11L647.65 252.78L647.23 256.45L646.8 260.12L646.37 263.79L645.94 267.46L645.51 271.13L645.1 274.62L645.08 274.8L644.69 278.47L644.29 282.14L643.89 285.81L643.49 289.48L643.1 293.15L642.7 296.82L642.29 300.49L641.89 304.16L641.49 307.83L641.09 311.5L640.74 314.71L640.7 315.17L640.34 318.84L639.98 322.51L639.63 326.18L639.27 329.85L638.92 333.52L638.57 337.19L638.22 340.86L637.87 344.53L637.52 348.2L637.18 351.87L636.83 355.54L636.49 359.21L636.38 360.46L636.19 362.88L635.89 366.55L635.6 370.22L635.32 373.89L635.04 377.56L634.76 381.23L634.48 384.9L634.21 388.57L633.95 392.24L633.68 395.91L633.43 399.58L633.35 400.7L636.38 403.25L636.38 406.92L640.74 410.59Z" fill="#feba46" stroke="#feba46" stroke-width="0.6"/>
<path d="M653.82 428.94L654.51 429.52L654.58 428.94L655.06 425.27L655.55 421.6L656.03 417.93L656.52 414.26L657.02 410.59L657.51 406.92L658.01 403.25L658.18 402.02L658.54 399.58L659.09 395.91L659.63 392.24L660.18 388.57L660.73 384.9L661.27 381.23L661.82 377.56L662.36 373.89L662.54 372.67L662.93 370.22L663.52 366.55L664.1 362.88L664.68 359.21L665.26 355.54L665.83 351.87L666.4 348.2L666.9 344.97L666.97 344.53L667.58 340.86L668.19 337.19L668.79 333.52L669.39 329.85L669.99 326.18L670.57 322.51L671.16 318.84L671.26 318.2L671.78 315.17L672.39 311.5L673.01 307.83L673.61 304.16L674.21 300.49L674.8 296.82L675.38 293.15L675.62 291.65L675.99 289.48L676.6 285.81L677.2 282.14L677.79 278.47L678.38 274.8L678.96 271.13L679.53 267.46L679.98 264.5L680.1 263.79L680.69 260.12L681.27 256.45L681.84 252.78L682.41 249.11L682.96 245.44L683.5 241.77L684.04 238.1L684.34 236.02L684.58 234.43L685.14 230.76L685.68 227.09L686.22 223.42L686.75 219.75L687.26 216.08L687.77 212.41L688.27 208.74L688.7 205.58L688.77 205.07L689.29 201.4L689.8 197.73L690.3 194.06L690.79 190.39L691.28 186.72L691.76 183.05L692.23 179.38L692.7 175.71L693.06 172.81L693.16 172.04L693.64 168.37L694.12 164.7L694.59 161.03L695.06 157.36L695.52 153.69L695.97 150.02L696.42 146.35L696.87 142.68L697.32 139.01L697.42 138.14L697.78 135.34L698.24 131.67L698.7 128L699.16 124.33L699.62 120.66L700.08 116.99L700.53 113.32L700.99 109.65L701.44 105.98L701.78 103.22L701.9 102.31L702.38 98.64L702.86 94.97L703.35 91.3L703.84 87.63L704.32 83.96L704.82 80.29L705.31 76.62L705.81 72.95L706.14 70.54L706.3 69.42L706.14 69.28L701.78 65.61L701.78 61.94L697.42 58.27L697.42 54.6L693.06 50.93L693.06 47.26L688.7 43.59L687.27 42.39L687.13 43.59L686.69 47.26L686.26 50.93L685.82 54.6L685.39 58.27L684.96 61.94L684.53 65.61L684.34 67.25L684.12 69.28L683.71 72.95L683.31 76.62L682.9 80.29L682.49 83.96L682.08 87.63L681.67 91.3L681.26 94.97L680.85 98.64L680.43 102.31L680.01 105.98L679.98 106.26L679.61 109.65L679.21 113.32L678.81 116.99L678.41 120.66L678 124.33L677.58 128L677.16 131.67L676.74 135.34L676.32 139.01L675.88 142.68L675.62 144.9L675.46 146.35L675.04 150.02L674.63 153.69L674.2 157.36L673.77 161.03L673.34 164.7L672.9 168.37L672.46 172.04L672 175.71L671.55 179.38L671.26 181.66L671.1 183.05L670.66 186.72L670.21 190.39L669.76 194.06L669.31 197.73L668.84 201.4L668.37 205.07L667.9 208.74L667.42 212.41L666.93 216.08L666.9 216.29L666.47 219.75L666 223.42L665.53 227.09L665.05 230.76L664.57 234.43L664.08 238.1L663.58 241.77L663.08 245.44L662.57 249.11L662.54 249.32L662.09 252.78L661.61 256.45L661.13 260.12L660.64 263.79L660.14 267.46L659.64 271.13L659.13 274.8L658.62 278.47L658.18 281.63L658.11 282.14L657.64 285.81L657.16 289.48L656.67 293.15L656.19 296.82L655.7 300.49L655.2 304.16L654.71 307.83L654.21 311.5L653.82 314.35L653.72 315.17L653.26 318.84L652.8 322.51L652.34 326.18L651.88 329.85L651.42 333.52L650.95 337.19L650.49 340.86L650.03 344.53L649.56 348.2L649.46 349.03L649.14 351.87L648.72 355.54L648.3 359.21L647.89 362.88L647.48 366.55L647.07 370.22L646.66 373.89L646.25 377.56L645.85 381.23L645.44 384.9L645.1 388.08L645.05 388.57L644.7 392.24L644.35 395.91L644.01 399.58L643.67 403.25L643.33 406.92L643 410.59L642.67 414.26L642.54 415.77L645.1 417.93L645.1 421.6L649.46 425.27Z" fill="#feae3b" stroke="#feae3b" stroke-width="0.6"/>
<path d="M666.9 439.95L669.5 442.14L669.96 439.95L670.71 436.28L671.26 433.57L671.47 432.61L672.27 428.94L673.07 425.27L673.87 421.6L674.67 417.93L675.47 414.26L675.62 413.58L676.31 410.59L677.15 406.92L677.99 403.25L678.82 399.58L679.65 395.91L679.98 394.41L680.5 392.24L681.36 388.57L682.21 384.9L683.05 381.23L683.88 377.56L684.34 375.51L684.72 373.89L685.59 370.22L686.43 366.55L687.27 362.88L688.1 359.21L688.7 356.48L688.92 355.54L689.77 351.87L690.61 348.2L691.44 344.53L692.26 340.86L693.06 337.2L693.06 337.19L693.91 333.52L694.74 329.85L695.56 326.18L696.37 322.51L697.17 318.84L697.42 317.65L697.98 315.17L698.8 311.5L699.6 307.83L700.38 304.16L701.16 300.49L701.78 297.46L701.92 296.82L702.71 293.15L703.48 289.48L704.23 285.81L704.97 282.14L705.69 278.47L706.14 276.13L706.41 274.8L707.14 271.13L707.86 267.46L708.55 263.79L709.23 260.12L709.9 256.45L710.5 253.04L710.55 252.78L711.22 249.11L711.88 245.44L712.51 241.77L713.14 238.1L713.75 234.43L714.34 230.76L714.86 227.47L714.92 227.09L715.52 223.42L716.11 219.75L716.68 216.08L717.24 212.41L717.79 208.74L718.33 205.07L718.85 201.4L719.22 198.78L719.38 197.73L719.91 194.06L720.44 190.39L720.95 186.72L721.46 183.05L721.96 179.38L722.45 175.71L722.94 172.04L723.41 168.37L723.58 167.09L723.91 164.7L724.4 161.03L724.9 157.36L725.39 153.69L725.87 150.02L726.36 146.35L726.84 142.68L727.32 139.01L727.8 135.34L727.94 134.31L728.31 131.67L728.82 128L729.34 124.33L729.85 120.66L730.37 116.99L730.9 113.32L731.43 109.65L731.96 105.98L732.3 103.71L732.49 102.47L732.3 102.31L727.94 98.64L727.94 94.97L723.58 91.3L719.22 87.63L719.22 83.96L714.86 80.29L710.5 76.62L710.5 72.95L706.3 69.42L706.14 70.54L705.81 72.95L705.31 76.62L704.82 80.29L704.32 83.96L703.84 87.63L703.35 91.3L702.86 94.97L702.38 98.64L701.9 102.31L701.78 103.22L701.44 105.98L700.99 109.65L700.53 113.32L700.08 116.99L699.62 120.66L699.16 124.33L698.7 128L698.24 131.67L697.78 135.34L697.42 138.14L697.32 139.01L696.87 142.68L696.42 146.35L695.97 150.02L695.52 153.69L695.06 157.36L694.59 161.03L694.12 164.7L693.64 168.37L693.16 172.04L693.06 172.81L692.7 175.71L692.23 179.38L691.76 183.05L691.28 186.72L690.79 190.39L690.3 194.06L689.8 197.73L689.29 201.4L688.77 205.07L688.7 205.58L688.27 208.74L687.77 212.41L687.26 216.08L686.75 219.75L686.22 223.42L685.68 227.09L685.14 230.76L684.58 234.43L684.34 236.02L684.04 238.1L683.5 241.77L682.96 245.44L682.41 249.11L681.84 252.78L681.27 256.45L680.69 260.12L680.1 263.79L679.98 264.5L679.53 267.46L678.96 271.13L678.38 274.8L677.79 278.47L677.2 282.14L676.6 285.81L675.99 289.48L675.62 291.65L675.38 293.15L674.8 296.82L674.21 300.49L673.61 304.16L673.01 307.83L672.39 311.5L671.78 315.17L671.26 318.2L671.16 318.84L670.57 322.51L669.99 326.18L669.39 329.85L668.79 333.52L668.19 337.19L667.58 340.86L666.97 344.53L666.9 344.97L666.4 348.2L665.83 351.87L665.26 355.54L664.68 359.21L664.1 362.88L663.52 366.55L662.93 370.22L662.54 372.67L662.36 373.89L661.82 377.56L661.27 381.23L660.73 384.9L660.18 388.57L659.63 392.24L659.09 395.91L658.54 399.58L658.18 402.02L658.01 403.25L657.51 406.92L657.02 410.59L656.52 414.26L656.03 417.93L655.55 421.6L655.06 425.27L654.58 428.94L654.51 429.52L658.18 432.61L662.54 436.28Z" fill="#fea332" stroke="#fea332" stroke-width="0.6"/>
<path d="M688.7 447.29L689.03 447.57L689.13 447.29L690.43 443.62L691.72 439.95L693.02 436.28L693.06 436.18L694.38 432.61L695.74 428.94L697.09 425.27L697.42 424.36L698.48 421.6L699.88 417.93L701.28 414.26L701.78 412.91L702.7 410.59L704.13 406.92L705.54 403.25L706.14 401.67L706.98 399.58L708.42 395.91L709.84 392.24L710.5 390.51L711.28 388.57L712.72 384.9L714.14 381.23L714.86 379.34L715.57 377.56L717 373.89L718.41 370.22L719.22 368.05L719.81 366.55L721.23 362.88L722.62 359.21L723.58 356.61L724 355.54L725.39 351.87L726.76 348.2L727.94 344.99L728.12 344.53L729.5 340.86L730.86 337.19L732.19 333.52L732.3 333.22L733.56 329.85L734.91 326.18L736.23 322.51L736.66 321.28L737.56 318.84L738.88 315.17L740.18 311.5L741.02 309.05L741.46 307.83L742.75 304.16L744.01 300.49L745.23 296.82L745.38 296.35L746.47 293.15L747.68 289.48L748.85 285.81L749.74 282.94L750 282.14L751.16 278.47L752.28 274.8L753.36 271.13L754.1 268.53L754.42 267.46L755.48 263.79L756.5 260.12L757.48 256.45L758.43 252.78L758.46 252.64L759.38 249.11L760.3 245.44L761.18 241.77L762.03 238.1L762.82 234.53L762.84 234.43L763.67 230.76L764.46 227.09L765.21 223.42L765.94 219.75L766.63 216.08L767.18 213.09L767.31 212.41L767.99 208.74L768.64 205.07L769.27 201.4L769.88 197.73L770.46 194.06L771.03 190.39L771.54 187L771.58 186.72L772.15 183.05L772.7 179.38L773.24 175.71L773.77 172.04L774.3 168.37L774.81 164.7L775.32 161.03L775.83 157.36L775.9 156.87L776.36 153.69L776.9 150.02L777.44 146.35L777.76 144.25L775.9 142.68L771.54 139.01L767.18 135.34L762.82 131.67L758.46 128L754.1 124.33L749.74 120.66L745.38 116.99L745.38 113.32L741.02 109.65L736.66 105.98L732.49 102.47L732.3 103.71L731.96 105.98L731.43 109.65L730.9 113.32L730.37 116.99L729.85 120.66L729.34 124.33L728.82 128L728.31 131.67L727.94 134.31L727.8 135.34L727.32 139.01L726.84 142.68L726.36 146.35L725.87 150.02L725.39 153.69L724.9 157.36L724.4 161.03L723.91 164.7L723.58 167.09L723.41 168.37L722.94 172.04L722.45 175.71L721.96 179.38L721.46 183.05L720.95 186.72L720.44 190.39L719.91 194.06L719.38 197.73L719.22 198.78L718.85 201.4L718.33 205.07L717.79 208.74L717.24 212.41L716.68 216.08L716.11 219.75L715.52 223.42L714.92 227.09L714.86 227.47L714.34 230.76L713.75 234.43L713.14 238.1L712.51 241.77L711.88 245.44L711.22 249.11L710.55 252.78L710.5 253.04L709.9 256.45L709.23 260.12L708.55 263.79L707.86 267.46L707.14 271.13L706.41 274.8L706.14 276.13L705.69 278.47L704.97 282.14L704.23 285.81L703.48 289.48L702.71 293.15L701.92 296.82L701.78 297.46L701.16 300.49L700.38 304.16L699.6 307.83L698.8 311.5L697.98 315.17L697.42 317.65L697.17 318.84L696.37 322.51L695.56 326.18L694.74 329.85L693.91 333.52L693.06 337.19L693.06 337.2L692.26 340.86L691.44 344.53L690.61 348.2L689.77 351.87L688.92 355.54L688.7 356.48L688.1 359.21L687.27 362.88L686.43 366.55L685.59 370.22L684.72 373.89L684.34 375.51L683.88 377.56L683.05 381.23L682.21 384.9L681.36 388.57L680.5 392.24L679.98 394.41L679.65 395.91L678.82 399.58L677.99 403.25L677.15 406.92L676.31 410.59L675.62 413.58L675.47 414.26L674.67 417.93L673.87 421.6L673.07 425.27L672.27 428.94L671.47 432.61L671.26 433.57L670.71 436.28L669.96 439.95L669.5 442.14L671.26 443.62L675.62 443.62L679.98 447.29L684.34 447.29Z" fill="#fd9728" stroke="#fd9728" stroke-width="0.6"/>
<path d="M710.5 450.96L712.19 452.39L713.02 450.96L714.86 447.66L715.08 447.29L717.21 443.62L719.22 440.16L719.35 439.95L721.56 436.28L723.58 432.93L723.78 432.61L726.07 428.94L727.94 425.93L728.37 425.27L730.72 421.6L732.3 419.12L733.09 417.93L735.5 414.26L736.66 412.47L737.94 410.59L740.4 406.92L741.02 405.97L742.9 403.25L745.38 399.61L745.4 399.58L747.95 395.91L749.74 393.32L750.51 392.24L753.1 388.57L754.1 387.13L755.72 384.9L758.34 381.23L758.46 381.06L761.01 377.56L762.82 375.05L763.69 373.89L766.41 370.22L767.18 369.15L769.15 366.55L771.54 363.35L771.91 362.88L774.72 359.21L775.9 357.64L777.55 355.54L780.26 352.05L780.41 351.87L783.33 348.2L784.62 346.55L786.28 344.53L788.98 341.2L789.27 340.86L792.32 337.19L793.34 335.95L795.43 333.52L797.7 330.84L798.58 329.85L801.79 326.18L802.06 325.86L805.07 322.51L806.42 320.97L808.39 318.84L810.78 316.2L811.76 315.17L815.14 311.54L815.18 311.5L818.67 307.83L819.5 306.94L822.22 304.16L823.86 302.43L825.81 300.49L828.22 298.01L829.44 296.82L832.58 293.67L833.13 293.15L836.86 289.48L836.94 289.4L840.67 285.81L841.3 285.18L844.51 282.14L845.66 281.02L848.41 278.47L850.02 276.92L852.35 274.8L854.38 272.88L856.34 271.13L858.74 268.9L860.37 267.46L863.1 264.96L864.45 263.79L867.46 261.08L868.58 260.12L871.82 257.24L872.76 256.45L876.18 253.45L877 252.78L880.54 249.71L881.28 249.11L884.9 246.02L885.63 245.44L889.26 242.38L890.03 241.77L893.62 238.79L894.51 238.1L897.98 235.26L899.06 234.43L900.73 233.07L897.98 230.76L893.62 227.09L889.26 227.09L884.9 223.42L880.54 219.75L876.18 216.08L871.82 216.08L867.46 212.41L863.1 208.74L858.74 205.07L854.38 205.07L850.02 201.4L845.66 197.73L841.3 194.06L836.94 190.39L832.58 186.72L828.22 183.05L823.86 179.38L819.5 175.71L815.14 172.04L810.78 168.37L806.42 164.7L802.06 164.7L797.7 161.03L793.34 157.36L788.98 153.69L784.62 150.02L780.26 146.35L777.76 144.25L777.44 146.35L776.9 150.02L776.36 153.69L775.9 156.87L775.83 157.36L775.32 161.03L774.81 164.7L774.3 168.37L773.77 172.04L773.24 175.71L772.7 179.38L772.15 183.05L771.58 186.72L771.54 187L771.03 190.39L770.46 194.06L769.88 197.73L769.27 201.4L768.64 205.07L767.99 208.74L767.31 212.41L767.18 213.09L766.63 216.08L765.94 219.75L765.21 223.42L764.46 227.09L763.67 230.76L762.84 234.43L762.82 234.53L762.03 238.1L761.18 241.77L760.3 245.44L759.38 249.11L758.46 252.64L758.43 252.78L757.48 256.45L756.5 260.12L755.48 263.79L754.42 267.46L754.1 268.53L753.36 271.13L752.28 274.8L751.16 278.47L750 282.14L749.74 282.94L748.85 285.81L747.68 289.48L746.47 293.15L745.38 296.35L745.23 296.82L744.01 300.49L742.75 304.16L741.46 307.83L741.02 309.05L740.18 311.5L738.88 315.17L737.56 318.84L736.66 321.28L736.23 322.51L734.91 326.18L733.56 329.85L732.3 333.22L732.19 333.52L730.86 337.19L729.5 340.86L728.12 344.53L727.94 344.99L726.76 348.2L725.39 351.87L724 355.54L723.58 356.61L722.62 359.21L721.23 362.88L719.81 366.55L719.22 368.05L718.41 370.22L717 373.89L715.57 377.56L714.86 379.34L714.14 381.23L712.72 384.9L711.28 388.57L710.5 390.51L709.84 392.24L708.42 395.91L706.98 399.58L706.14 401.67L705.54 403.25L704.13 406.92L702.7 410.59L701.78 412.91L701.28 414.26L699.88 417.93L698.48 421.6L697.42 424.36L697.09 425.27L695.74 428.94L694.38 432.61L693.06 436.18L693.02 436.28L691.72 439.95L690.43 443.62L689.13 447.29L689.03 447.57L693.06 450.96L697.42 450.96L701.78 450.96L706.14 450.96Z" fill="#f98d23" stroke="#f98d23" stroke-width="0.6"/>
<path d="M727.94 454.63L732.3 458.3L736.66 458.3L737.31 458.3L740.35 454.63L741.02 453.82L743.48 450.96L745.38 448.75L746.69 447.29L749.74 443.86L749.96 443.62L753.34 439.95L754.1 439.11L756.8 436.28L758.46 434.52L760.34 432.61L762.82 430.07L763.97 428.94L767.18 425.76L767.7 425.27L771.52 421.6L771.54 421.58L775.46 417.93L775.9 417.51L779.51 414.26L780.26 413.57L783.67 410.59L784.62 409.75L787.96 406.92L788.98 406.04L792.38 403.25L793.34 402.44L796.93 399.58L797.7 398.95L801.63 395.91L802.06 395.57L806.42 392.29L806.49 392.24L810.78 389.09L811.53 388.57L815.14 386L816.75 384.9L819.5 383L822.17 381.23L823.86 380.09L827.8 377.56L828.22 377.28L832.58 374.55L833.68 373.89L836.94 371.9L839.82 370.22L841.3 369.34L845.66 366.87L846.25 366.55L850.02 364.46L853.01 362.88L854.38 362.14L858.74 359.89L860.13 359.21L863.1 357.71L867.46 355.63L867.66 355.54L871.82 353.58L875.67 351.87L876.18 351.64L880.54 349.73L884.22 348.2L884.9 347.91L889.26 346.13L893.41 344.53L893.62 344.44L897.98 342.79L902.34 341.21L903.35 340.86L906.7 339.67L911.06 338.2L914.2 337.19L915.42 336.79L919.78 335.41L924.14 334.09L926.14 333.52L928.5 332.82L932.86 331.59L937.22 330.42L939.43 329.85L941.58 329.28L945.94 328.18L950.3 327.13L954.45 326.18L954.66 326.13L959.02 325.14L963.38 324.2L967.74 323.3L971.79 322.51L972.1 322.45L976.46 321.6L980.82 320.8L985.18 320.03L989.54 319.3L992.4 318.84L993.9 318.59L998.26 317.9L1002.62 317.25L1006.98 316.62L1011.34 316.03L1015.7 315.46L1018.04 315.17L1020.06 314.91L1024.42 314.38L1028.78 313.87L1033.14 313.39L1037.5 312.93L1037.5 311.5L1037.5 307.83L1037.5 304.16L1037.5 300.49L1033.14 300.49L1028.78 296.82L1024.42 296.82L1020.06 293.15L1015.7 293.15L1011.34 289.48L1006.98 289.48L1002.62 285.81L998.26 285.81L993.9 282.14L989.54 282.14L985.18 278.47L980.82 274.8L976.46 274.8L972.1 271.13L967.74 271.13L963.38 267.46L959.02 263.79L954.66 263.79L950.3 260.12L945.94 260.12L941.58 256.45L937.22 252.78L932.86 252.78L928.5 249.11L924.14 245.44L919.78 245.44L915.42 241.77L911.06 238.1L906.7 238.1L902.34 234.43L900.73 233.07L899.06 234.43L897.98 235.26L894.51 238.1L893.62 238.79L890.03 241.77L889.26 242.38L885.63 245.44L884.9 246.02L881.28 249.11L880.54 249.71L877 252.78L876.18 253.45L872.76 256.45L871.82 257.24L868.58 260.12L867.46 261.08L864.45 263.79L863.1 264.96L860.37 267.46L858.74 268.9L856.34 271.13L854.38 272.88L852.35 274.8L850.02 276.92L848.41 278.47L845.66 281.02L844.51 282.14L841.3 285.18L840.67 285.81L836.94 289.4L836.86 289.48L833.13 293.15L832.58 293.67L829.44 296.82L828.22 298.01L825.81 300.49L823.86 302.43L822.22 304.16L819.5 306.94L818.67 307.83L815.18 311.5L815.14 311.54L811.76 315.17L810.78 316.2L808.39 318.84L806.42 320.97L805.07 322.51L802.06 325.86L801.79 326.18L798.58 329.85L797.7 330.84L795.43 333.52L793.34 335.95L792.32 337.19L789.27 340.86L788.98 341.2L786.28 344.53L784.62 346.55L783.33 348.2L780.41 351.87L780.26 352.05L777.55 355.54L775.9 357.64L774.72 359.21L771.91 362.88L771.54 363.35L769.15 366.55L767.18 369.15L766.41 370.22L763.69 373.89L762.82 375.05L761.01 377.56L758.46 381.06L758.34 381.23L755.72 384.9L754.1 387.13L753.1 388.57L750.51 392.24L749.74 393.32L747.95 395.91L745.4 399.58L745.38 399.61L742.9 403.25L741.02 405.97L740.4 406.92L737.94 410.59L736.66 412.47L735.5 414.26L733.09 417.93L732.3 419.12L730.72 421.6L728.37 425.27L727.94 425.93L726.07 428.94L723.78 432.61L723.58 432.93L721.56 436.28L719.35 439.95L719.22 440.16L717.21 443.62L715.08 447.29L714.86 447.66L713.02 450.96L712.19 452.39L714.86 454.63L719.22 454.63L723.58 454.63Z" fill="#f4811d" stroke="#f4811d" stroke-width="0.6"/>
<path d="M737.31 458.3L741.02 458.3L745.38 458.3L749.74 458.3L754.1 458.3L758.46 458.3L762.82 458.3L767.18 458.3L770.58 458.3L771.54 457.48L775.03 454.63L775.9 453.92L779.66 450.96L780.26 450.48L784.46 447.29L784.62 447.17L788.98 443.96L789.46 443.62L793.34 440.85L794.67 439.95L797.7 437.86L800.09 436.28L802.06 434.96L805.75 432.61L806.42 432.17L810.78 429.46L811.66 428.94L815.14 426.84L817.86 425.27L819.5 424.31L823.86 421.86L824.35 421.6L828.22 419.48L831.19 417.93L832.58 417.19L836.94 414.96L838.38 414.26L841.3 412.8L845.66 410.73L845.97 410.59L850.02 408.7L854.02 406.92L854.38 406.76L858.74 404.85L862.57 403.25L863.1 403.02L867.46 401.23L871.69 399.58L871.82 399.53L876.18 397.84L880.54 396.24L881.47 395.91L884.9 394.66L889.26 393.15L891.99 392.24L893.62 391.68L897.98 390.25L902.34 388.89L903.38 388.57L906.7 387.54L911.06 386.24L915.42 385L915.8 384.9L919.78 383.78L924.14 382.6L928.5 381.47L929.47 381.23L932.86 380.36L937.22 379.29L941.58 378.26L944.66 377.56L945.94 377.26L950.3 376.28L954.66 375.34L959.02 374.44L961.76 373.89L963.38 373.56L967.74 372.69L972.1 371.87L976.46 371.07L980.82 370.31L981.34 370.22L985.18 369.55L989.54 368.82L993.9 368.12L998.26 367.44L1002.62 366.8L1004.33 366.55L1006.98 366.16L1011.34 365.54L1015.7 364.94L1020.06 364.37L1024.42 363.82L1028.78 363.29L1032.28 362.88L1033.14 362.78L1037.5 362.27L1037.5 359.21L1037.5 355.54L1037.5 351.87L1037.5 348.2L1037.5 344.53L1037.5 340.86L1037.5 337.19L1037.5 333.52L1037.5 329.85L1037.5 326.18L1037.5 322.51L1037.5 318.84L1037.5 315.17L1037.5 312.93L1033.14 313.39L1028.78 313.87L1024.42 314.38L1020.06 314.91L1018.04 315.17L1015.7 315.46L1011.34 316.03L1006.98 316.62L1002.62 317.25L998.26 317.9L993.9 318.59L992.4 318.84L989.54 319.3L985.18 320.03L980.82 320.8L976.46 321.6L972.1 322.45L971.79 322.51L967.74 323.3L963.38 324.2L959.02 325.14L954.66 326.13L954.45 326.18L950.3 327.13L945.94 328.18L941.58 329.28L939.43 329.85L937.22 330.42L932.86 331.59L928.5 332.82L926.14 333.52L924.14 334.09L919.78 335.41L915.42 336.79L914.2 337.19L911.06 338.2L906.7 339.67L903.35 340.86L902.34 341.21L897.98 342.79L893.62 344.44L893.41 344.53L889.26 346.13L884.9 347.91L884.22 348.2L880.54 349.73L876.18 351.64L875.67 351.87L871.82 353.58L867.66 355.54L867.46 355.63L863.1 357.71L860.13 359.21L858.74 359.89L854.38 362.14L853.01 362.88L850.02 364.46L846.25 366.55L845.66 366.87L841.3 369.34L839.82 370.22L836.94 371.9L833.68 373.89L832.58 374.55L828.22 377.28L827.8 377.56L823.86 380.09L822.17 381.23L819.5 383L816.75 384.9L815.14 386L811.53 388.57L810.78 389.09L806.49 392.24L806.42 392.29L802.06 395.57L801.63 395.91L797.7 398.95L796.93 399.58L793.34 402.44L792.38 403.25L788.98 406.04L787.96 406.92L784.62 409.75L783.67 410.59L780.26 413.57L779.51 414.26L775.9 417.51L775.46 417.93L771.54 421.58L771.52 421.6L767.7 425.27L767.18 425.76L763.97 428.94L762.82 430.07L760.34 432.61L758.46 434.52L756.8 436.28L754.1 439.11L753.34 439.95L749.96 443.62L749.74 443.86L746.69 447.29L745.38 448.75L743.48 450.96L741.02 453.82L740.35 454.63Z" fill="#ee7617" stroke="#ee7617" stroke-width="0.6"/>
<path d="M770.58 458.3L771.54 458.3L775.9 458.3L780.26 458.3L784.62 458.3L788.98 458.3L793.34 458.3L797.7 458.3L802.06 458.3L806.42 458.3L810.63 458.3L810.78 458.21L815.14 455.79L817.33 454.63L819.5 453.46L823.86 451.22L824.39 450.96L828.22 449.03L831.86 447.29L832.58 446.94L836.94 444.89L839.79 443.62L841.3 442.93L845.66 441.02L848.22 439.95L850.02 439.18L854.38 437.39L857.21 436.28L858.74 435.67L863.1 433.99L866.84 432.61L867.46 432.38L871.82 430.79L876.18 429.28L877.21 428.94L880.54 427.8L884.9 426.37L888.4 425.27L889.26 424.99L893.62 423.64L897.98 422.34L900.59 421.6L902.34 421.09L906.7 419.85L911.06 418.67L913.92 417.93L915.42 417.53L919.78 416.4L924.14 415.32L928.5 414.29L928.62 414.26L932.86 413.26L937.22 412.27L941.58 411.32L945.04 410.59L945.94 410.4L950.3 409.49L954.66 408.61L959.02 407.77L963.38 406.96L963.6 406.92L967.74 406.15L972.1 405.38L976.46 404.63L980.82 403.91L984.96 403.25L985.18 403.21L989.54 402.52L993.9 401.86L998.26 401.22L1002.62 400.6L1006.98 400L1010.2 399.58L1011.34 399.43L1015.7 398.85L1020.06 398.3L1024.42 397.77L1028.78 397.26L1033.14 396.77L1037.5 396.29L1037.5 395.91L1037.5 392.24L1037.5 388.57L1037.5 384.9L1037.5 381.23L1037.5 377.56L1037.5 373.89L1037.5 370.22L1037.5 366.55L1037.5 362.88L1037.5 362.27L1033.14 362.78L1032.28 362.88L1028.78 363.29L1024.42 363.82L1020.06 364.37L1015.7 364.94L1011.34 365.54L1006.98 366.16L1004.33 366.55L1002.62 366.8L998.26 367.44L993.9 368.12L989.54 368.82L985.18 369.55L981.34 370.22L980.82 370.31L976.46 371.07L972.1 371.87L967.74 372.69L963.38 373.56L961.76 373.89L959.02 374.44L954.66 375.34L950.3 376.28L945.94 377.26L944.66 377.56L941.58 378.26L937.22 379.29L932.86 380.36L929.47 381.23L928.5 381.47L924.14 382.6L919.78 383.78L915.8 384.9L915.42 385L911.06 386.24L906.7 387.54L903.38 388.57L902.34 388.89L897.98 390.25L893.62 391.68L891.99 392.24L889.26 393.15L884.9 394.66L881.47 395.91L880.54 396.24L876.18 397.84L871.82 399.53L871.69 399.58L867.46 401.23L863.1 403.02L862.57 403.25L858.74 404.85L854.38 406.76L854.02 406.92L850.02 408.7L845.97 410.59L845.66 410.73L841.3 412.8L838.38 414.26L836.94 414.96L832.58 417.19L831.19 417.93L828.22 419.48L824.35 421.6L823.86 421.86L819.5 424.31L817.86 425.27L815.14 426.84L811.66 428.94L810.78 429.46L806.42 432.17L805.75 432.61L802.06 434.96L800.09 436.28L797.7 437.86L794.67 439.95L793.34 440.85L789.46 443.62L788.98 443.96L784.62 447.17L784.46 447.29L780.26 450.48L779.66 450.96L775.9 453.92L775.03 454.63L771.54 457.48Z" fill="#e86c12" stroke="#e86c12" stroke-width="0.6"/>
<path d="M810.63 458.3L810.78 458.3L815.14 458.3L819.5 458.3L823.86 458.3L828.22 458.3L832.58 458.3L836.94 458.3L841.3 458.3L845.66 458.3L850.02 458.3L854.38 458.3L858.74 458.3L862.42 458.3L863.1 458.05L867.46 456.51L871.82 455.04L873.08 454.63L876.18 453.6L880.54 452.21L884.63 450.96L884.9 450.87L889.26 449.56L893.62 448.3L897.25 447.29L897.98 447.08L902.34 445.89L906.7 444.74L911.06 443.64L911.13 443.62L915.42 442.54L919.78 441.5L924.14 440.49L926.55 439.95L928.5 439.5L932.86 438.54L937.22 437.62L941.58 436.73L943.85 436.28L945.94 435.86L950.3 435.01L954.66 434.19L959.02 433.4L963.38 432.64L963.55 432.61L967.74 431.88L972.1 431.16L976.46 430.46L980.82 429.78L985.18 429.13L986.5 428.94L989.54 428.49L993.9 427.87L998.26 427.27L1002.62 426.69L1006.98 426.13L1011.34 425.59L1014.03 425.27L1015.7 425.07L1020.06 424.55L1024.42 424.05L1028.78 423.58L1033.14 423.12L1037.5 422.67L1037.5 421.6L1037.5 417.93L1037.5 414.26L1037.5 410.59L1037.5 406.92L1037.5 403.25L1037.5 399.58L1037.5 396.29L1033.14 396.77L1028.78 397.26L1024.42 397.77L1020.06 398.3L1015.7 398.85L1011.34 399.43L1010.2 399.58L1006.98 400L1002.62 400.6L998.26 401.22L993.9 401.86L989.54 402.52L985.18 403.21L984.96 403.25L980.82 403.91L976.46 404.63L972.1 405.38L967.74 406.15L963.6 406.92L963.38 406.96L959.02 407.77L954.66 408.61L950.3 409.49L945.94 410.4L945.04 410.59L941.58 411.32L937.22 412.27L932.86 413.26L928.62 414.26L928.5 414.29L924.14 415.32L919.78 416.4L915.42 417.53L913.92 417.93L911.06 418.67L906.7 419.85L902.34 421.09L900.59 421.6L897.98 422.34L893.62 423.64L889.26 424.99L888.4 425.27L884.9 426.37L880.54 427.8L877.21 428.94L876.18 429.28L871.82 430.79L867.46 432.38L866.84 432.61L863.1 433.99L858.74 435.67L857.21 436.28L854.38 437.39L850.02 439.18L848.22 439.95L845.66 441.02L841.3 442.93L839.79 443.62L836.94 444.89L832.58 446.94L831.86 447.29L828.22 449.03L824.39 450.96L823.86 451.22L819.5 453.46L817.33 454.63L815.14 455.79L810.78 458.21Z" fill="#df620d" stroke="#df620d" stroke-width="0.6"/>
<path d="M862.42 458.3L863.1 458.3L867.46 458.3L871.82 458.3L876.18 458.3L880.54 458.3L884.9 458.3L889.26 458.3L893.62 458.3L897.98 458.3L902.34 458.3L906.7 458.3L911.06 458.3L915.42 458.3L919.78 458.3L924.14 458.3L928.5 458.3L932.86 458.3L937.22 458.3L938.22 458.3L941.58 457.64L945.94 456.81L950.3 456.01L954.66 455.24L958.28 454.63L959.02 454.5L963.38 453.77L967.74 453.06L972.1 452.38L976.46 451.73L980.82 451.1L981.8 450.96L985.18 450.48L989.54 449.87L993.9 449.29L998.26 448.74L1002.62 448.2L1006.98 447.68L1010.4 447.29L1011.34 447.18L1015.7 446.69L1020.06 446.21L1024.42 445.75L1028.78 445.32L1033.14 444.89L1037.5 444.49L1037.5 443.62L1037.5 439.95L1037.5 436.28L1037.5 432.61L1037.5 428.94L1037.5 425.27L1037.5 422.67L1033.14 423.12L1028.78 423.58L1024.42 424.05L1020.06 424.55L1015.7 425.07L1014.03 425.27L1011.34 425.59L1006.98 426.13L1002.62 426.69L998.26 427.27L993.9 427.87L989.54 428.49L986.5 428.94L985.18 429.13L980.82 429.78L976.46 430.46L972.1 431.16L967.74 431.88L963.55 432.61L963.38 432.64L959.02 433.4L954.66 434.19L950.3 435.01L945.94 435.86L943.85 436.28L941.58 436.73L937.22 437.62L932.86 438.54L928.5 439.5L926.55 439.95L924.14 440.49L919.78 441.5L915.42 442.54L911.13 443.62L911.06 443.64L906.7 444.74L902.34 445.89L897.98 447.08L897.25 447.29L893.62 448.3L889.26 449.56L884.9 450.87L884.63 450.96L880.54 452.21L876.18 453.6L873.08 454.63L871.82 455.04L867.46 456.51L863.1 458.05Z" fill="#d75908" stroke="#d75908" stroke-width="0.6"/>
<path d="M938.22 458.3L941.58 458.3L945.94 458.3L950.3 458.3L954.66 458.3L959.02 458.3L963.38 458.3L967.74 458.3L972.1 458.3L976.46 458.3L980.82 458.3L985.18 458.3L989.54 458.3L993.9 458.3L998.26 458.3L1002.62 458.3L1006.98 458.3L1011.34 458.3L1015.7 458.3L1020.06 458.3L1024.42 458.3L1028.78 458.3L1033.14 458.3L1037.5 458.3L1037.5 454.63L1037.5 450.96L1037.5 447.29L1037.5 444.49L1033.14 444.89L1028.78 445.32L1024.42 445.75L1020.06 446.21L1015.7 446.69L1011.34 447.18L1010.4 447.29L1006.98 447.68L1002.62 448.2L998.26 448.74L993.9 449.29L989.54 449.87L985.18 450.48L981.8 450.96L980.82 451.1L976.46 451.73L972.1 452.38L967.74 453.06L963.38 453.77L959.02 454.5L958.28 454.63L954.66 455.24L950.3 456.01L945.94 456.81L941.58 457.64Z" fill="#ce4f03" stroke="#ce4f03" stroke-width="0.6"/>
</g>
<g>
<rect x="1063.5" y="440.68" width="40" height="18.12" fill="#fff8c4"/>
<rect x="1063.5" y="423.07" width="40" height="18.12" fill="#fff6b9"/>
<rect x="1063.5" y="405.45" width="40" height="18.12" fill="#fff0ad"/>
<rect x="1063.5" y="387.84" width="40" height="18.12" fill="#feeba2"/>
<rect x="1063.5" y="370.22" width="40" height="18.12" fill="#fee596"/>
<rect x="1063.5" y="352.6" width="40" height="18.12" fill="#fede86"/>
<rect x="1063.5" y="334.99" width="40" height="18.12" fill="#fed676"/>
<rect x="1063.5" y="317.37" width="40" height="18.12" fill="#fecd63"/>
<rect x="1063.5" y="299.76" width="40" height="18.12" fill="#fec652"/>
<rect x="1063.5" y="282.14" width="40" height="18.12" fill="#feba46"/>
<rect x="1063.5" y="264.52" width="40" height="18.12" fill="#feae3b"/>
<rect x="1063.5" y="246.91" width="40" height="18.12" fill="#fea332"/>
<rect x="1063.5" y="229.29" width="40" height="18.12" fill="#fd9728"/>
<rect x="1063.5" y="211.68" width="40" height="18.12" fill="#f98d23"/>
<rect x="1063.5" y="194.06" width="40" height="18.12" fill="#f4811d"/>
<rect x="1063.5" y="176.44" width="40" height="18.12" fill="#ee7617"/>
<rect x="1063.5" y="158.83" width="40" height="18.12" fill="#e86c12"/>
<rect x="1063.5" y="141.21" width="40" height="18.12" fill="#df620d"/>
<rect x="1063.5" y="123.6" width="40" height="18.12" fill="#d75908"/>
<rect x="1063.5" y="105.98" width="40" height="18.12" fill="#ce4f03"/>
<rect x="1063.5" y="88.36" width="40" height="18.12" fill="#c14702"/>
<rect x="1063.5" y="70.75" width="40" height="18.12" fill="#b44103"/>
<rect x="1063.5" y="53.13" width="40" height="18.12" fill="#a63a03"/>
<rect x="1063.5" y="35.52" width="40" height="18.12" fill="#993404"/>
<rect x="1063.5" y="17.9" width="40" height="18.12" fill="#8b3005"/>
</g>
<g clip-path="url(#clip_c)">
<rect x="302.24" y="485.25" width="279.29" height="440.35" fill="#ebebeb"/>
<path d="M140.65 544.01L140.03 546.82L139.51 549.59L139.1 552.32L138.8 555L138.6 557.64L138.5 560.23L138.49 562.78L138.59 565.29L138.79 567.74L139.07 570.15L139.46 572.51L139.93 574.82L140.5 577.07L141.15 579.28L141.89 581.44L142.72 583.54L143.63 585.59L144.63 587.58L145.7 589.52L146.86 591.4L148.09 593.23L149.4 595L150.79 596.71L152.25 598.36L153.78 599.96L155.37 601.5L157.03 602.99L158.74 604.43L160.51 605.82L162.33 607.17L164.19 608.49L166.09 609.77L168.02 611.02L169.99 612.24L171.98 613.43L173.99 614.6L176.03 615.75L178.07 616.89L180.13 618.01L182.19 619.13L184.25 620.23L186.33 621.32L188.41 622.4L190.5 623.47L192.59 624.53L194.69 625.58L196.79 626.62L198.9 627.65L201.02 628.67L203.14 629.69L205.27 630.69L207.4 631.68L209.53 632.67L211.68 633.65L213.82 634.62L215.97 635.58L218.13 636.53L220.29 637.48L222.45 638.42L224.62 639.35L226.79 640.28L228.96 641.2L231.14 642.11L233.32 643.01L235.51 643.91L237.7 644.81L239.89 645.7L242.08 646.58L244.28 647.45L246.48 648.33L248.68 649.19L250.89 650.05L253.09 650.91L255.3 651.77L257.51 652.61L259.72 653.46L261.94 654.3L264.15 655.14L266.37 655.97L268.59 656.8L270.8 657.63L273.02 658.46L275.24 659.28L277.46 660.1L279.69 660.92L281.91 661.73L284.13 662.55L286.35 663.36L288.57 664.17L290.79 664.98L293.01 665.79L295.23 666.6L297.45 667.41L299.67 668.21L301.89 669.02L304.11 669.83L306.32 670.63L308.54 671.44L310.75 672.25L312.96 673.06L315.17 673.87L317.38 674.68L319.59 675.49L321.79 676.31L323.99 677.12L326.19 677.94L328.39 678.76L330.58 679.58L332.77 680.4L334.96 681.23L337.14 682.06L339.32 682.9L341.5 683.73L343.67 684.57L345.85 685.41L348.02 686.26L350.18 687.1L352.35 687.95L354.51 688.81L356.67 689.66L358.83 690.52L360.99 691.38L363.14 692.25L365.29 693.11L367.44 693.98L369.59 694.86L371.74 695.73L373.88 696.61L376.03 697.49L378.17 698.38L380.31 699.26L382.45 700.15L384.59 701.05L386.73 701.94L388.87 702.84L391 703.74L393.14 704.64L395.27 705.55L397.41 706.46L399.54 707.37L401.67 708.29L403.81 709.21L405.94 710.13L408.07 711.05L410.21 711.98L412.34 712.91L414.47 713.84L416.61 714.77L418.74 715.71L420.87 716.65L423.01 717.59L425.14 718.54L427.28 719.49L429.42 720.44L431.55 721.39L433.69 722.35L435.83 723.31L437.97 724.27L440.12 725.24L442.26 726.21L444.4 727.18L446.55 728.15L448.7 729.13L450.85 730.11L453 731.09L455.15 732.07L457.31 733.06L459.47 734.05L461.63 735.05L463.79 736.04L465.95 737.04L468.12 738.04L470.29 739.05L472.46 740.05L474.63 741.06L476.81 742.08L478.99 743.09L481.18 744.11L483.36 745.13L485.55 746.15L487.74 747.18L489.93 748.21L492.12 749.25L494.31 750.3L496.49 751.35L498.67 752.41L500.84 753.48L503.01 754.55L505.17 755.64L507.32 756.74L509.46 757.85L511.58 758.97L513.7 760.11L515.8 761.26L517.89 762.42L519.96 763.6L522.01 764.8L524.04 766.01L526.06 767.25L528.05 768.5L530.02 769.77L531.97 771.06L533.89 772.37L535.79 773.7L537.66 775.06L539.51 776.44L541.32 777.84L543.11 779.27L544.86 780.72L546.58 782.2L548.27 783.71L549.92 785.25L551.53 786.81L553.11 788.41L554.65 790.03L556.15 791.69L557.61 793.38L559.03 795.1L560.41 796.85L561.74 798.64L563.02 800.47L564.26 802.33L565.46 804.22L566.6 806.16L567.69 808.13L568.73 810.14L569.72 812.19L570.66 814.28L571.54 816.41L572.36 818.59L573.13 820.8L573.84 823.07L574.49 825.37L575.08 827.72L575.61 830.12L576.07 832.56L576.48 835.05L576.81 837.59L577.08 840.18L575.55 950.95L575.76 948.02L575.86 945.15L575.88 942.34L575.8 939.59L575.64 936.89L575.38 934.26L575.04 931.68L574.62 929.16L574.11 926.69L573.52 924.28L572.86 921.92L572.12 919.61L571.3 917.34L570.41 915.13L569.45 912.96L568.42 910.84L567.33 908.76L566.17 906.73L564.95 904.74L563.67 902.79L562.33 900.87L560.93 899L559.48 897.16L557.98 895.36L556.43 893.6L554.82 891.87L553.17 890.17L551.48 888.5L549.74 886.86L547.96 885.25L546.15 883.66L544.29 882.11L542.4 880.58L540.48 879.07L538.53 877.58L536.54 876.12L534.54 874.67L532.5 873.24L530.44 871.84L528.37 870.44L526.27 869.07L524.15 867.7L522.02 866.35L519.88 865.01L517.72 863.68L515.56 862.37L513.39 861.05L511.21 859.75L509.03 858.45L506.85 857.15L504.67 855.86L502.49 854.57L500.31 853.28L498.14 851.99L495.96 850.7L493.79 849.42L491.63 848.14L489.46 846.86L487.3 845.58L485.14 844.3L482.97 843.03L480.82 841.76L478.66 840.49L476.5 839.23L474.35 837.96L472.19 836.7L470.04 835.45L467.89 834.19L465.74 832.94L463.59 831.7L461.44 830.45L459.29 829.21L457.14 827.98L454.99 826.75L452.84 825.52L450.69 824.29L448.54 823.07L446.39 821.86L444.24 820.65L442.09 819.44L439.94 818.24L437.79 817.04L435.63 815.84L433.48 814.66L431.32 813.47L429.17 812.29L427.01 811.12L424.85 809.95L422.69 808.79L420.53 807.63L418.36 806.48L416.2 805.33L414.03 804.19L411.86 803.06L409.68 801.93L407.51 800.81L405.33 799.69L403.15 798.58L400.97 797.47L398.78 796.38L396.59 795.29L394.4 794.2L392.2 793.12L390.01 792.05L387.8 790.99L385.6 789.93L383.39 788.88L381.18 787.84L378.96 786.81L376.74 785.78L374.51 784.76L372.28 783.75L370.05 782.74L367.81 781.75L365.57 780.76L363.32 779.78L361.07 778.81L358.81 777.84L356.55 776.89L354.28 775.94L352.01 775.01L349.73 774.08L347.44 773.16L345.16 772.24L342.86 771.34L340.56 770.44L338.26 769.55L335.95 768.67L333.64 767.79L331.33 766.92L329.01 766.05L326.7 765.19L324.37 764.32L322.05 763.47L319.73 762.61L317.4 761.76L315.08 760.91L312.75 760.06L310.42 759.21L308.1 758.36L305.77 757.51L303.44 756.66L301.12 755.8L298.8 754.95L296.48 754.09L294.16 753.23L291.84 752.36L289.53 751.49L287.22 750.62L284.91 749.74L282.61 748.85L280.31 747.97L278.01 747.07L275.71 746.17L273.42 745.27L271.13 744.36L268.84 743.45L266.55 742.54L264.27 741.61L261.99 740.69L259.7 739.76L257.42 738.82L255.14 737.89L252.87 736.94L250.59 736L248.31 735.04L246.04 734.09L243.76 733.13L241.49 732.16L239.21 731.2L236.94 730.22L234.66 729.25L232.39 728.27L230.11 727.28L227.83 726.3L225.56 725.3L223.28 724.31L221 723.31L218.72 722.3L216.44 721.3L214.16 720.29L211.87 719.27L209.59 718.25L207.3 717.23L205.01 716.21L202.72 715.18L200.43 714.14L198.13 713.11L195.84 712.07L193.55 711.01L191.27 709.95L189 708.87L186.74 707.78L184.5 706.67L182.29 705.53L180.1 704.37L177.94 703.19L175.81 701.97L173.71 700.72L171.66 699.44L169.65 698.12L167.68 696.76L165.76 695.35L163.89 693.9L162.08 692.41L160.33 690.86L158.64 689.26L157.01 687.61L155.46 685.89L153.97 684.12L152.57 682.28L151.24 680.38L149.99 678.41L148.83 676.37L147.74 674.28L146.73 672.13L145.79 669.92L144.93 667.66L144.14 665.36L143.42 663.01L142.76 660.62L142.17 658.19L141.64 655.73L141.17 653.24L140.77 650.72L140.42 648.17L140.13 645.61L139.89 643.03L139.7 640.44L139.57 637.83L139.48 635.22L139.44 632.61L139.45 629.99L139.5 627.38L139.59 624.78L139.72 622.18L139.89 619.6L140.09 617.04L140.33 614.49Z" fill="#f2d3da"/>
<path d="M140.34 584.33L140.17 586.81L140.04 589.32L139.94 591.86L139.87 594.42L139.85 597L139.86 599.58L139.93 602.17L140.05 604.75L140.22 607.33L140.46 609.88L140.75 612.41L141.12 614.91L141.56 617.37L142.07 619.79L142.67 622.16L143.35 624.47L144.12 626.72L144.98 628.89L145.93 630.99L146.99 633L148.15 634.93L149.41 636.77L150.77 638.52L152.22 640.2L153.75 641.8L155.36 643.33L157.04 644.8L158.79 646.2L160.6 647.56L162.47 648.86L164.39 650.11L166.35 651.33L168.35 652.5L170.39 653.65L172.46 654.77L174.55 655.86L176.66 656.94L178.78 658L180.91 659.06L183.04 660.1L185.18 661.14L187.32 662.17L189.47 663.19L191.62 664.21L193.78 665.22L195.94 666.22L198.11 667.22L200.28 668.21L202.45 669.19L204.63 670.17L206.82 671.14L209 672.11L211.19 673.07L213.39 674.03L215.59 674.98L217.79 675.92L219.99 676.86L222.2 677.8L224.41 678.73L226.62 679.66L228.84 680.58L231.05 681.5L233.27 682.42L235.5 683.33L237.72 684.24L239.95 685.14L242.18 686.05L244.41 686.95L246.64 687.84L248.87 688.74L251.11 689.63L253.34 690.52L255.58 691.41L257.82 692.29L260.06 693.18L262.3 694.06L264.54 694.95L266.78 695.83L269.02 696.71L271.26 697.59L273.5 698.47L275.74 699.35L277.98 700.22L280.22 701.1L282.46 701.98L284.7 702.86L286.94 703.74L289.18 704.62L291.42 705.5L293.65 706.39L295.89 707.27L298.12 708.15L300.35 709.04L302.59 709.93L304.81 710.82L307.04 711.71L309.27 712.61L311.49 713.5L313.71 714.4L315.93 715.31L318.14 716.21L320.36 717.12L322.57 718.03L324.77 718.95L326.98 719.87L329.18 720.79L331.38 721.72L333.57 722.65L335.76 723.59L337.95 724.53L340.13 725.48L342.31 726.43L344.49 727.38L346.66 728.34L348.84 729.3L351 730.27L353.17 731.24L355.33 732.21L357.49 733.19L359.65 734.17L361.8 735.16L363.95 736.15L366.1 737.14L368.25 738.14L370.4 739.14L372.54 740.15L374.68 741.16L376.82 742.17L378.95 743.19L381.09 744.21L383.22 745.23L385.35 746.26L387.48 747.29L389.61 748.32L391.74 749.36L393.87 750.4L395.99 751.45L398.11 752.49L400.23 753.54L402.36 754.6L404.48 755.65L406.6 756.71L408.71 757.77L410.83 758.84L412.95 759.91L415.07 760.98L417.18 762.05L419.3 763.13L421.41 764.21L423.53 765.29L425.64 766.38L427.76 767.47L429.88 768.56L431.99 769.65L434.11 770.74L436.22 771.84L438.34 772.94L440.46 774.04L442.58 775.15L444.69 776.25L446.81 777.36L448.93 778.47L451.05 779.59L453.18 780.7L455.3 781.82L457.42 782.94L459.55 784.06L461.67 785.19L463.8 786.31L465.93 787.44L468.06 788.57L470.19 789.7L472.33 790.83L474.47 791.96L476.6 793.1L478.74 794.24L480.89 795.38L483.03 796.52L485.18 797.66L487.33 798.8L489.48 799.95L491.63 801.09L493.79 802.24L495.95 803.39L498.11 804.54L500.27 805.69L502.44 806.84L504.61 807.99L506.78 809.14L508.96 810.3L511.13 811.46L513.3 812.62L515.47 813.8L517.62 814.97L519.77 816.16L521.91 817.36L524.04 818.57L526.15 819.79L528.24 821.02L530.32 822.27L532.37 823.54L534.4 824.83L536.41 826.13L538.38 827.46L540.33 828.8L542.25 830.17L544.14 831.57L545.99 832.98L547.8 834.43L549.58 835.91L551.31 837.41L553 838.95L554.64 840.51L556.24 842.12L557.79 843.75L559.29 845.42L560.73 847.13L562.12 848.88L563.46 850.67L564.73 852.5L565.94 854.37L567.09 856.29L568.17 858.25L569.19 860.25L570.14 862.31L571.02 864.41L571.82 866.57L572.55 868.77L573.2 871.03L573.77 873.35L574.26 875.72L574.67 878.14L574.99 880.63L575.22 883.17L575.37 885.77L575.43 888.44L575.39 891.17L575.25 893.97L575.02 896.83" fill="none" stroke="#a50026" stroke-width="5.0" stroke-linejoin="round"/>
</g>
<g clip-path="url(#clip_d)">
<rect x="599.21" y="485.25" width="116.11" height="440.35" fill="#ebebeb"/>
<path d="M596.46 890.18L597.02 887.74L597.59 885.3L598.16 882.85L598.73 880.39L599.31 877.93L599.88 875.46L600.46 873L601.04 870.52L601.62 868.05L602.21 865.57L602.8 863.09L603.4 860.6L604 858.12L604.61 855.63L605.23 853.14L605.85 850.66L606.47 848.17L607.11 845.68L607.75 843.19L608.4 840.7L609.06 838.22L609.73 835.73L610.4 833.25L611.09 830.77L611.79 828.29L612.49 825.81L613.21 823.34L613.94 820.87L614.68 818.41L615.44 815.95L616.2 813.49L616.98 811.04L617.77 808.6L618.58 806.16L619.4 803.73L620.23 801.3L621.08 798.88L621.95 796.47L622.83 794.07L623.73 791.67L624.64 789.28L625.57 786.9L626.52 784.53L627.48 782.17L628.46 779.82L629.46 777.48L630.47 775.14L631.51 772.82L632.56 770.51L633.63 768.21L634.72 765.92L635.82 763.64L636.95 761.37L638.1 759.11L639.27 756.87L640.45 754.64L641.66 752.42L642.89 750.22L644.14 748.03L645.41 745.85L646.7 743.69L648.01 741.54L649.35 739.4L650.71 737.28L652.08 735.17L653.48 733.08L654.9 731L656.34 728.94L657.8 726.89L659.28 724.85L660.77 722.83L662.29 720.82L663.83 718.83L665.38 716.84L666.96 714.88L668.55 712.93L670.16 710.99L671.79 709.06L673.43 707.15L675.09 705.25L676.77 703.37L678.47 701.5L680.18 699.64L681.91 697.8L683.66 695.97L685.42 694.15L687.19 692.35L688.98 690.56L690.79 688.79L692.61 687.02L694.45 685.28L696.29 683.54L698.16 681.82L700.04 680.11L701.93 678.42L703.83 676.73L705.75 675.06L707.68 673.41L709.62 671.77L711.57 670.14L713.54 668.52L715.51 666.92L717.5 665.33L719.5 663.75L721.51 662.19L723.54 660.63L725.57 659.1L727.61 657.57L729.66 656.06L731.72 654.56L733.79 653.07L735.87 651.6L737.96 650.14L740.06 648.69L742.17 647.25L744.28 645.83L746.4 644.42L748.53 643.02L750.67 641.63L752.82 640.26L754.97 638.9L757.13 637.55L759.29 636.21L761.46 634.89L763.64 633.58L765.83 632.28L768.02 630.99L770.22 629.72L772.43 628.46L774.64 627.21L776.86 625.97L779.08 624.74L781.32 623.53L783.55 622.32L785.8 621.13L788.05 619.95L790.31 618.79L792.57 617.63L794.84 616.49L797.11 615.36L799.39 614.24L801.68 613.13L803.97 612.03L806.27 610.95L808.57 609.87L810.88 608.81L813.19 607.76L815.51 606.72L817.83 605.69L820.16 604.68L822.49 603.67L824.83 602.68L827.18 601.69L829.53 600.72L831.88 599.76L834.24 598.81L836.6 597.87L838.97 596.94L841.34 596.02L843.72 595.12L846.1 594.22L848.49 593.34L850.88 592.46L853.27 591.6L855.67 590.75L858.07 589.9L860.48 589.07L862.89 588.25L865.3 587.44L867.72 586.64L870.14 585.85L872.57 585.07L875 584.3L877.43 583.55L879.87 582.8L882.31 582.06L884.75 581.33L887.19 580.61L889.64 579.91L892.1 579.21L894.55 578.52L897.01 577.84L899.47 577.18L901.94 576.52L904.4 575.87L906.87 575.23L909.34 574.6L911.82 573.99L914.3 573.38L916.78 572.78L919.26 572.19L921.74 571.61L924.23 571.04L926.72 570.48L929.21 569.92L931.7 569.38L934.2 568.85L936.69 568.32L939.19 567.81L941.69 567.31L944.2 566.81L946.7 566.32L949.21 565.85L951.71 565.38L954.22 564.92L956.73 564.47L959.24 564.02L961.75 563.59L964.27 563.17L966.78 562.75L969.3 562.35L971.81 561.95L974.33 561.56L976.85 561.18L979.37 560.81L981.89 560.45L984.41 560.09L986.93 559.75L989.45 559.41L991.97 559.08L994.49 558.76L997.01 558.45L999.53 558.14L1002.06 557.85L1004.58 557.56L1007.1 557.28L1009.62 557.01L1012.15 556.74L1014.67 556.49L1017.19 556.24L1019.71 556L1022.23 555.77L1024.75 555.55L1027.27 555.33L1029.79 555.12L1032.31 554.92L1034.83 554.73L1037.34 554.55L1039.86 554.37L1039.11 664.56L1036.84 664.63L1034.57 664.71L1032.3 664.78L1030.02 664.87L1027.73 664.95L1025.44 665.04L1023.15 665.13L1020.85 665.22L1018.54 665.32L1016.24 665.42L1013.92 665.53L1011.61 665.64L1009.29 665.75L1006.96 665.87L1004.63 665.99L1002.3 666.11L999.97 666.24L997.63 666.38L995.28 666.51L992.94 666.66L990.59 666.8L988.24 666.96L985.88 667.11L983.53 667.28L981.17 667.44L978.81 667.62L976.44 667.79L974.07 667.98L971.7 668.16L969.33 668.36L966.96 668.56L964.58 668.76L962.21 668.98L959.83 669.19L957.45 669.42L955.07 669.65L952.69 669.88L950.3 670.13L947.92 670.38L945.53 670.63L943.15 670.89L940.76 671.16L938.37 671.44L935.98 671.72L933.6 672.01L931.21 672.31L928.82 672.61L926.43 672.93L924.04 673.25L921.65 673.57L919.27 673.91L916.88 674.25L914.49 674.6L912.11 674.96L909.72 675.33L907.34 675.7L904.95 676.09L902.57 676.48L900.19 676.88L897.81 677.29L895.43 677.71L893.06 678.13L890.68 678.57L888.31 679.01L885.94 679.47L883.57 679.93L881.21 680.4L878.84 680.88L876.48 681.37L874.12 681.87L871.77 682.38L869.41 682.9L867.06 683.44L864.71 683.98L862.37 684.53L860.03 685.09L857.69 685.66L855.36 686.24L853.03 686.83L850.7 687.43L848.38 688.05L846.06 688.67L843.74 689.31L841.43 689.95L839.12 690.61L836.82 691.28L834.52 691.96L832.23 692.65L829.94 693.35L827.66 694.07L825.38 694.79L823.11 695.53L820.84 696.28L818.57 697.04L816.32 697.82L814.07 698.61L811.82 699.4L809.58 700.22L807.34 701.04L805.11 701.88L802.89 702.73L800.68 703.59L798.47 704.46L796.26 705.35L794.07 706.25L791.88 707.17L789.69 708.1L787.52 709.04L785.35 709.99L783.18 710.96L781.03 711.94L778.88 712.94L776.74 713.95L774.61 714.98L772.49 716.01L770.37 717.07L768.26 718.13L766.16 719.22L764.07 720.31L761.98 721.42L759.91 722.55L757.84 723.69L755.78 724.85L753.73 726.02L751.69 727.2L749.66 728.4L747.64 729.62L745.62 730.85L743.62 732.1L741.62 733.36L739.64 734.64L737.66 735.93L735.7 737.24L733.74 738.56L731.8 739.89L729.86 741.25L727.94 742.61L726.03 743.99L724.12 745.39L722.23 746.8L720.35 748.22L718.48 749.66L716.62 751.11L714.77 752.58L712.93 754.06L711.11 755.55L709.3 757.06L707.49 758.59L705.7 760.12L703.93 761.67L702.16 763.24L700.41 764.82L698.67 766.41L696.94 768.01L695.22 769.63L693.52 771.27L691.83 772.91L690.15 774.57L688.49 776.24L686.84 777.93L685.2 779.63L683.58 781.34L681.97 783.07L680.37 784.8L678.79 786.56L677.22 788.32L675.67 790.1L674.13 791.89L672.61 793.69L671.1 795.51L669.6 797.33L668.12 799.17L666.65 801.03L665.2 802.89L663.77 804.77L662.35 806.66L660.94 808.56L659.55 810.47L658.18 812.4L656.82 814.34L655.48 816.29L654.16 818.25L652.85 820.22L651.55 822.21L650.28 824.21L649.02 826.22L647.77 828.24L646.55 830.27L645.34 832.31L644.15 834.37L642.97 836.44L641.81 838.51L640.67 840.6L639.55 842.7L638.44 844.81L637.35 846.93L636.28 849.06L635.23 851.2L634.19 853.35L633.17 855.52L632.17 857.69L631.19 859.87L630.22 862.06L629.28 864.26L628.35 866.47L627.44 868.69L626.54 870.92L625.67 873.15L624.81 875.4L623.97 877.65L623.15 879.91L622.35 882.19L621.56 884.46L620.79 886.75L620.05 889.05L619.32 891.35L618.61 893.66L617.91 895.98L617.24 898.31L616.58 900.64L615.95 902.98L615.33 905.33L614.73 907.68L614.15 910.04L613.59 912.41L613.05 914.78L612.53 917.16L612.02 919.55L611.54 921.94L611.08 924.34L610.63 926.74L610.2 929.15L609.8 931.57L609.41 933.99L609.04 936.41L608.69 938.84L608.36 941.28L608.05 943.72L607.76 946.16Z" fill="#f2d3da"/>
<path d="M601.64 940.17L601.95 937.69L602.28 935.2L602.61 932.72L602.95 930.23L603.31 927.73L603.68 925.23L604.05 922.73L604.44 920.23L604.84 917.72L605.25 915.21L605.67 912.7L606.11 910.18L606.55 907.67L607.01 905.15L607.48 902.64L607.96 900.12L608.46 897.6L608.97 895.08L609.49 892.57L610.02 890.05L610.57 887.53L611.13 885.02L611.7 882.5L612.29 879.99L612.89 877.48L613.51 874.97L614.14 872.47L614.78 869.97L615.44 867.47L616.11 864.97L616.8 862.48L617.5 859.99L618.22 857.51L618.96 855.03L619.7 852.55L620.47 850.08L621.25 847.62L622.05 845.16L622.86 842.71L623.69 840.26L624.54 837.82L625.4 835.39L626.28 832.96L627.17 830.54L628.09 828.13L629.02 825.73L629.97 823.33L630.93 820.95L631.91 818.57L632.92 816.2L633.94 813.84L634.97 811.49L636.03 809.15L637.11 806.82L638.2 804.5L639.31 802.2L640.44 799.9L641.59 797.61L642.77 795.34L643.96 793.08L645.17 790.83L646.4 788.59L647.65 786.37L648.92 784.15L650.21 781.95L651.52 779.77L652.85 777.6L654.19 775.44L655.56 773.29L656.95 771.16L658.36 769.05L659.78 766.94L661.23 764.85L662.69 762.78L664.17 760.72L665.67 758.67L667.19 756.64L668.72 754.62L670.28 752.62L671.85 750.63L673.44 748.66L675.04 746.71L676.66 744.77L678.3 742.84L679.96 740.93L681.64 739.04L683.33 737.16L685.03 735.3L686.76 733.45L688.49 731.62L690.25 729.81L692.02 728.01L693.81 726.23L695.61 724.47L697.43 722.72L699.26 720.99L701.11 719.28L702.97 717.58L704.85 715.91L706.74 714.25L708.65 712.6L710.57 710.98L712.51 709.37L714.46 707.79L716.42 706.21L718.4 704.66L720.39 703.13L722.39 701.61L724.41 700.11L726.44 698.63L728.48 697.16L730.54 695.72L732.6 694.29L734.69 692.87L736.78 691.48L738.88 690.1L741 688.73L743.13 687.39L745.27 686.06L747.42 684.74L749.58 683.44L751.76 682.16L753.94 680.89L756.14 679.64L758.35 678.41L760.56 677.19L762.79 675.98L765.03 674.79L767.27 673.62L769.53 672.46L771.8 671.32L774.08 670.19L776.36 669.07L778.66 667.97L780.96 666.89L783.27 665.82L785.59 664.76L787.92 663.71L790.26 662.68L792.61 661.67L794.96 660.67L797.32 659.68L799.69 658.7L802.07 657.74L804.46 656.79L806.85 655.86L809.25 654.93L811.65 654.02L814.06 653.12L816.48 652.24L818.91 651.37L821.34 650.51L823.78 649.66L826.22 648.82L828.67 648L831.13 647.19L833.59 646.39L836.05 645.6L838.53 644.82L841 644.05L843.48 643.3L845.97 642.55L848.46 641.82L850.95 641.1L853.45 640.39L855.95 639.69L858.46 639L860.97 638.32L863.48 637.65L866 636.99L868.52 636.34L871.04 635.7L873.56 635.07L876.09 634.45L878.62 633.83L881.16 633.23L883.69 632.64L886.23 632.06L888.77 631.48L891.31 630.92L893.85 630.36L896.39 629.81L898.94 629.27L901.48 628.74L904.03 628.22L906.58 627.7L909.13 627.2L911.67 626.7L914.22 626.21L916.77 625.72L919.32 625.25L921.87 624.78L924.42 624.32L926.96 623.86L929.51 623.41L932.06 622.97L934.6 622.54L937.14 622.11L939.69 621.69L942.23 621.28L944.77 620.87L947.3 620.47L949.84 620.08L952.37 619.69L954.9 619.3L957.43 618.92L959.95 618.55L962.48 618.19L965 617.82L967.51 617.47L970.02 617.12L972.53 616.77L975.04 616.43L977.54 616.09L980.04 615.76L982.53 615.43L985.02 615.11L987.51 614.79L989.99 614.48L992.46 614.17L994.93 613.86L997.4 613.55L999.86 613.26L1002.31 612.96L1004.76 612.67L1007.21 612.38L1009.64 612.09L1012.08 611.81L1014.5 611.53L1016.92 611.25L1019.33 610.97L1021.74 610.7L1024.14 610.43L1026.53 610.16L1028.91 609.9L1031.29 609.63L1033.66 609.37L1036.02 609.11L1038.37 608.85" fill="none" stroke="#a50026" stroke-width="5.0" stroke-linejoin="round"/>
</g>
<g clip-path="url(#clip_e)">
<rect x="1184.59" y="485.25" width="324.09" height="440.35" fill="#ebebeb"/>
<path d="M1060.8 541.55L1062.11 543.42L1063.43 545.27L1064.76 547.1L1066.1 548.93L1067.46 550.74L1068.83 552.54L1070.21 554.32L1071.6 556.1L1073 557.86L1074.41 559.6L1075.84 561.34L1077.27 563.06L1078.72 564.77L1080.18 566.47L1081.65 568.15L1083.13 569.83L1084.62 571.49L1086.12 573.14L1087.63 574.78L1089.15 576.41L1090.68 578.03L1092.22 579.63L1093.78 581.23L1095.34 582.81L1096.91 584.39L1098.49 585.95L1100.08 587.5L1101.67 589.04L1103.28 590.57L1104.9 592.1L1106.53 593.61L1108.16 595.11L1109.8 596.6L1111.46 598.08L1113.12 599.56L1114.78 601.02L1116.46 602.47L1118.15 603.92L1119.84 605.36L1121.54 606.78L1123.25 608.2L1124.97 609.61L1126.69 611.01L1128.42 612.41L1130.16 613.79L1131.91 615.17L1133.66 616.54L1135.42 617.9L1137.19 619.25L1138.96 620.59L1140.74 621.93L1142.53 623.26L1144.32 624.59L1146.12 625.9L1147.93 627.21L1149.74 628.51L1151.56 629.81L1153.38 631.09L1155.21 632.38L1157.04 633.65L1158.88 634.92L1160.73 636.18L1162.58 637.44L1164.44 638.69L1166.3 639.94L1168.16 641.18L1170.04 642.41L1171.91 643.64L1173.79 644.86L1175.68 646.08L1177.56 647.29L1179.46 648.5L1181.35 649.7L1183.26 650.9L1185.16 652.1L1187.07 653.28L1188.98 654.47L1190.9 655.65L1192.82 656.83L1194.74 658L1196.67 659.17L1198.6 660.33L1200.53 661.5L1202.46 662.65L1204.4 663.81L1206.34 664.96L1208.28 666.11L1210.23 667.25L1212.18 668.4L1214.12 669.54L1216.08 670.67L1218.03 671.81L1219.98 672.94L1221.94 674.07L1223.9 675.2L1225.86 676.32L1227.82 677.45L1229.78 678.57L1231.75 679.69L1233.71 680.81L1235.68 681.93L1237.64 683.04L1239.61 684.16L1241.58 685.27L1243.55 686.39L1245.51 687.5L1247.48 688.61L1249.45 689.72L1251.42 690.83L1253.39 691.94L1255.36 693.05L1257.32 694.16L1259.29 695.28L1261.26 696.39L1263.22 697.5L1265.19 698.61L1267.15 699.72L1269.12 700.83L1271.08 701.94L1273.05 703.05L1275.01 704.16L1276.97 705.28L1278.93 706.39L1280.89 707.5L1282.86 708.61L1284.82 709.73L1286.78 710.84L1288.74 711.95L1290.69 713.06L1292.65 714.18L1294.61 715.29L1296.57 716.4L1298.53 717.52L1300.48 718.63L1302.44 719.74L1304.4 720.86L1306.35 721.97L1308.31 723.09L1310.26 724.2L1312.22 725.32L1314.17 726.43L1316.12 727.55L1318.08 728.66L1320.03 729.78L1321.98 730.89L1323.93 732.01L1325.89 733.12L1327.84 734.24L1329.79 735.36L1331.74 736.47L1333.69 737.59L1335.64 738.71L1337.59 739.82L1339.54 740.94L1341.49 742.06L1343.43 743.18L1345.38 744.29L1347.33 745.41L1349.28 746.53L1351.22 747.65L1353.17 748.77L1355.12 749.89L1357.06 751.01L1359.01 752.13L1360.96 753.24L1362.9 754.36L1364.85 755.48L1366.79 756.61L1368.74 757.73L1370.68 758.85L1372.62 759.97L1374.57 761.09L1376.51 762.21L1378.45 763.33L1380.4 764.45L1382.34 765.58L1384.28 766.7L1386.23 767.82L1388.17 768.94L1390.11 770.07L1392.05 771.19L1393.99 772.31L1395.93 773.44L1397.87 774.56L1399.82 775.69L1401.76 776.81L1403.7 777.94L1405.64 779.06L1407.58 780.19L1409.52 781.31L1411.46 782.44L1413.4 783.56L1415.34 784.69L1417.27 785.82L1419.21 786.94L1421.15 788.07L1423.09 789.2L1425.03 790.33L1426.97 791.46L1428.91 792.58L1430.85 793.71L1432.78 794.84L1434.72 795.97L1436.66 797.1L1438.6 798.23L1440.54 799.36L1442.47 800.49L1444.41 801.62L1446.35 802.75L1448.29 803.88L1450.22 805.02L1452.16 806.15L1454.1 807.28L1456.03 808.41L1457.97 809.55L1459.91 810.68L1461.85 811.81L1463.78 812.95L1465.72 814.08L1467.66 815.21L1469.59 816.35L1471.53 817.48L1473.47 818.62L1475.4 819.76L1477.34 820.89L1479.28 822.03L1481.21 823.16L1483.15 824.3L1485.09 825.44L1487.02 826.58L1488.96 827.71L1490.9 828.85L1492.83 829.99L1494.77 831.13L1496.71 832.27L1498.64 833.41L1500.58 834.55L1502.52 835.69L1504.46 836.83L1504.44 959.12L1502.43 957.69L1500.41 956.26L1498.4 954.83L1496.38 953.41L1494.36 951.99L1492.34 950.57L1490.32 949.16L1488.3 947.74L1486.28 946.33L1484.25 944.92L1482.23 943.52L1480.2 942.11L1478.17 940.71L1476.15 939.31L1474.12 937.92L1472.09 936.52L1470.05 935.13L1468.02 933.74L1465.99 932.35L1463.95 930.96L1461.92 929.58L1459.88 928.2L1457.84 926.82L1455.81 925.44L1453.77 924.07L1451.72 922.7L1449.68 921.33L1447.64 919.96L1445.6 918.59L1443.55 917.23L1441.5 915.87L1439.46 914.51L1437.41 913.15L1435.36 911.79L1433.31 910.44L1431.26 909.09L1429.21 907.74L1427.15 906.39L1425.1 905.05L1423.04 903.71L1420.99 902.37L1418.93 901.03L1416.87 899.69L1414.81 898.35L1412.75 897.02L1410.69 895.69L1408.63 894.36L1406.56 893.04L1404.5 891.71L1402.43 890.39L1400.36 889.07L1398.3 887.75L1396.23 886.43L1394.16 885.12L1392.09 883.8L1390.02 882.49L1387.94 881.18L1385.87 879.87L1383.79 878.57L1381.72 877.26L1379.64 875.96L1377.56 874.66L1375.49 873.36L1373.41 872.07L1371.33 870.77L1369.24 869.48L1367.16 868.19L1365.08 866.9L1362.99 865.61L1360.91 864.32L1358.82 863.04L1356.73 861.76L1354.64 860.48L1352.55 859.2L1350.46 857.92L1348.37 856.64L1346.28 855.37L1344.19 854.1L1342.09 852.83L1340 851.56L1337.9 850.29L1335.8 849.02L1333.71 847.76L1331.61 846.5L1329.51 845.24L1327.4 843.98L1325.3 842.72L1323.2 841.46L1321.1 840.21L1318.99 838.95L1316.88 837.7L1314.78 836.45L1312.67 835.2L1310.56 833.96L1308.45 832.71L1306.34 831.47L1304.23 830.22L1302.12 828.98L1300 827.74L1297.89 826.5L1295.77 825.27L1293.66 824.03L1291.54 822.8L1289.42 821.57L1287.3 820.33L1285.18 819.1L1283.06 817.88L1280.94 816.65L1278.82 815.42L1276.69 814.2L1274.57 812.98L1272.44 811.75L1270.32 810.53L1268.19 809.31L1266.06 808.1L1263.93 806.88L1261.8 805.66L1259.67 804.45L1257.54 803.24L1255.41 802.03L1253.27 800.82L1251.14 799.61L1249 798.4L1246.87 797.19L1244.73 795.99L1242.59 794.78L1240.45 793.58L1238.31 792.38L1236.17 791.18L1234.03 789.98L1231.89 788.78L1229.75 787.58L1227.61 786.38L1225.46 785.18L1223.32 783.98L1221.18 782.78L1219.04 781.57L1216.91 780.36L1214.77 779.15L1212.64 777.94L1210.51 776.72L1208.38 775.5L1206.26 774.28L1204.13 773.05L1202.02 771.81L1199.9 770.57L1197.79 769.32L1195.69 768.06L1193.59 766.8L1191.49 765.53L1189.41 764.25L1187.32 762.97L1185.24 761.67L1183.17 760.37L1181.11 759.05L1179.05 757.73L1177 756.39L1174.96 755.04L1172.92 753.69L1170.9 752.32L1168.88 750.94L1166.87 749.54L1164.87 748.13L1162.88 746.71L1160.9 745.28L1158.92 743.83L1156.96 742.36L1155.01 740.89L1153.07 739.4L1151.14 737.89L1149.23 736.37L1147.32 734.84L1145.43 733.29L1143.55 731.73L1141.68 730.15L1139.82 728.56L1137.98 726.95L1136.15 725.33L1134.33 723.69L1132.53 722.03L1130.75 720.37L1128.98 718.68L1127.22 716.98L1125.48 715.27L1123.75 713.54L1122.04 711.79L1120.35 710.03L1118.67 708.25L1117.01 706.46L1115.37 704.65L1113.74 702.82L1112.14 700.98L1110.55 699.12L1108.98 697.25L1107.43 695.35L1105.89 693.45L1104.38 691.52L1102.89 689.59L1101.41 687.63L1099.96 685.66L1098.53 683.67L1097.12 681.67L1095.73 679.66L1094.37 677.63L1093.02 675.58L1091.7 673.52L1090.4 671.44L1089.13 669.35L1087.88 667.24L1086.65 665.12L1085.45 662.98L1084.27 660.83L1083.12 658.67L1082 656.49L1080.9 654.3L1079.83 652.09L1078.78 649.87L1077.76 647.63L1076.77 645.38L1075.8 643.12L1074.87 640.84L1073.96 638.55L1073.08 636.24L1072.23 633.92L1071.41 631.59L1070.63 629.25L1069.87 626.89L1069.14 624.52L1068.44 622.13L1067.77 619.73L1067.14 617.32L1066.54 614.9L1065.97 612.46L1065.43 610.02L1064.93 607.55L1064.46 605.08L1064.02 602.59L1063.62 600.1L1063.25 597.59Z" fill="#f2d3da"/>
<path d="M1061.53 570.07L1062.25 572.51L1062.99 574.92L1063.76 577.31L1064.55 579.67L1065.37 582.01L1066.22 584.32L1067.1 586.61L1068 588.87L1068.93 591.11L1069.88 593.33L1070.86 595.52L1071.86 597.69L1072.89 599.84L1073.94 601.96L1075.02 604.06L1076.12 606.15L1077.24 608.2L1078.39 610.24L1079.56 612.26L1080.76 614.25L1081.97 616.23L1083.21 618.18L1084.47 620.12L1085.75 622.03L1087.05 623.93L1088.37 625.8L1089.72 627.66L1091.08 629.5L1092.47 631.31L1093.87 633.11L1095.29 634.9L1096.74 636.66L1098.2 638.41L1099.68 640.14L1101.18 641.85L1102.7 643.54L1104.23 645.22L1105.78 646.88L1107.35 648.53L1108.94 650.16L1110.54 651.78L1112.16 653.38L1113.8 654.96L1115.45 656.53L1117.12 658.08L1118.8 659.63L1120.5 661.15L1122.21 662.66L1123.94 664.16L1125.68 665.65L1127.44 667.12L1129.2 668.58L1130.99 670.03L1132.78 671.47L1134.59 672.89L1136.41 674.3L1138.24 675.7L1140.08 677.09L1141.94 678.47L1143.81 679.84L1145.69 681.2L1147.57 682.54L1149.47 683.88L1151.38 685.21L1153.3 686.53L1155.23 687.83L1157.17 689.13L1159.12 690.43L1161.07 691.71L1163.04 692.98L1165.01 694.25L1166.99 695.51L1168.98 696.76L1170.97 698.01L1172.97 699.24L1174.98 700.47L1177 701.7L1179.02 702.92L1181.05 704.13L1183.08 705.34L1185.12 706.54L1187.16 707.74L1189.21 708.93L1191.26 710.12L1193.32 711.3L1195.38 712.48L1197.44 713.65L1199.51 714.83L1201.58 715.99L1203.65 717.16L1205.73 718.32L1207.81 719.48L1209.89 720.64L1211.97 721.8L1214.05 722.95L1216.14 724.1L1218.22 725.25L1220.3 726.4L1222.39 727.55L1224.48 728.7L1226.56 729.85L1228.64 731L1230.73 732.15L1232.81 733.3L1234.89 734.45L1236.97 735.6L1239.04 736.76L1241.12 737.91L1243.19 739.07L1245.26 740.22L1247.33 741.38L1249.4 742.54L1251.47 743.7L1253.53 744.86L1255.59 746.02L1257.65 747.18L1259.71 748.35L1261.77 749.51L1263.83 750.68L1265.88 751.85L1267.93 753.01L1269.98 754.18L1272.03 755.35L1274.08 756.52L1276.13 757.7L1278.17 758.87L1280.22 760.04L1282.26 761.22L1284.3 762.4L1286.34 763.57L1288.38 764.75L1290.41 765.93L1292.45 767.11L1294.48 768.29L1296.51 769.48L1298.54 770.66L1300.57 771.84L1302.6 773.03L1304.63 774.21L1306.66 775.4L1308.68 776.59L1310.71 777.78L1312.73 778.97L1314.75 780.16L1316.77 781.35L1318.79 782.54L1320.81 783.74L1322.82 784.93L1324.84 786.13L1326.86 787.32L1328.87 788.52L1330.88 789.72L1332.9 790.91L1334.91 792.11L1336.92 793.31L1338.93 794.52L1340.94 795.72L1342.94 796.92L1344.95 798.13L1346.96 799.33L1348.96 800.54L1350.97 801.74L1352.97 802.95L1354.97 804.16L1356.97 805.37L1358.98 806.57L1360.98 807.78L1362.98 809L1364.98 810.21L1366.98 811.42L1368.97 812.63L1370.97 813.85L1372.97 815.06L1374.97 816.28L1376.96 817.49L1378.96 818.71L1380.95 819.93L1382.95 821.15L1384.94 822.37L1386.94 823.59L1388.93 824.81L1390.92 826.03L1392.91 827.25L1394.91 828.47L1396.9 829.7L1398.89 830.92L1400.88 832.15L1402.87 833.37L1404.86 834.6L1406.85 835.82L1408.84 837.05L1410.83 838.28L1412.82 839.51L1414.81 840.74L1416.8 841.97L1418.79 843.2L1420.78 844.43L1422.77 845.66L1424.76 846.89L1426.75 848.13L1428.74 849.36L1430.73 850.6L1432.72 851.83L1434.71 853.07L1436.7 854.3L1438.69 855.54L1440.68 856.77L1442.67 858.01L1444.66 859.25L1446.65 860.49L1448.64 861.73L1450.63 862.97L1452.62 864.21L1454.61 865.45L1456.6 866.69L1458.6 867.93L1460.59 869.17L1462.58 870.42L1464.57 871.66L1466.57 872.9L1468.56 874.15L1470.55 875.39L1472.55 876.64L1474.54 877.88L1476.54 879.13L1478.53 880.38L1480.53 881.62L1482.52 882.87L1484.52 884.12L1486.52 885.37L1488.52 886.62L1490.52 887.87L1492.52 889.12L1494.52 890.37L1496.52 891.62L1498.52 892.87L1500.52 894.12L1502.52 895.37L1504.53 896.62" fill="none" stroke="#a50026" stroke-width="5.0" stroke-linejoin="round"/>
</g>
<path d="M170.44 17.9v12.0 M170.44 458.3v-12.0M295.01 17.9v12.0 M295.01 458.3v-12.0M419.59 17.9v12.0 M419.59 458.3v-12.0M544.16 17.9v12.0 M544.16 458.3v-12.0" stroke="#000" stroke-width="2.7" fill="none"/>
<path d="M145.53 17.9v7.0 M145.53 458.3v-7.0M157.99 17.9v7.0 M157.99 458.3v-7.0M182.9 17.9v7.0 M182.9 458.3v-7.0M195.36 17.9v7.0 M195.36 458.3v-7.0M207.81 17.9v7.0 M207.81 458.3v-7.0M220.27 17.9v7.0 M220.27 458.3v-7.0M232.73 17.9v7.0 M232.73 458.3v-7.0M245.19 17.9v7.0 M245.19 458.3v-7.0M257.64 17.9v7.0 M257.64 458.3v-7.0M270.1 17.9v7.0 M270.1 458.3v-7.0M282.56 17.9v7.0 M282.56 458.3v-7.0M307.47 17.9v7.0 M307.47 458.3v-7.0M319.93 17.9v7.0 M319.93 458.3v-7.0M332.39 17.9v7.0 M332.39 458.3v-7.0M344.84 17.9v7.0 M344.84 458.3v-7.0M357.3 17.9v7.0 M357.3 458.3v-7.0M369.76 17.9v7.0 M369.76 458.3v-7.0M382.21 17.9v7.0 M382.21 458.3v-7.0M394.67 17.9v7.0 M394.67 458.3v-7.0M407.13 17.9v7.0 M407.13 458.3v-7.0M432.04 17.9v7.0 M432.04 458.3v-7.0M444.5 17.9v7.0 M444.5 458.3v-7.0M456.96 17.9v7.0 M456.96 458.3v-7.0M469.41 17.9v7.0 M469.41 458.3v-7.0M481.87 17.9v7.0 M481.87 458.3v-7.0M494.33 17.9v7.0 M494.33 458.3v-7.0M506.79 17.9v7.0 M506.79 458.3v-7.0M519.24 17.9v7.0 M519.24 458.3v-7.0M531.7 17.9v7.0 M531.7 458.3v-7.0M556.61 17.9v7.0 M556.61 458.3v-7.0M569.07 17.9v7.0 M569.07 458.3v-7.0" stroke="#000" stroke-width="2.0" fill="none"/>
<path d="M170.44 485.25v12.0 M170.44 925.6v-12.0M295.01 485.25v12.0 M295.01 925.6v-12.0M419.59 485.25v12.0 M419.59 925.6v-12.0M544.16 485.25v12.0 M544.16 925.6v-12.0" stroke="#000" stroke-width="2.7" fill="none"/>
<path d="M145.53 485.25v7.0 M145.53 925.6v-7.0M157.99 485.25v7.0 M157.99 925.6v-7.0M182.9 485.25v7.0 M182.9 925.6v-7.0M195.36 485.25v7.0 M195.36 925.6v-7.0M207.81 485.25v7.0 M207.81 925.6v-7.0M220.27 485.25v7.0 M220.27 925.6v-7.0M232.73 485.25v7.0 M232.73 925.6v-7.0M245.19 485.25v7.0 M245.19 925.6v-7.0M257.64 485.25v7.0 M257.64 925.6v-7.0M270.1 485.25v7.0 M270.1 925.6v-7.0M282.56 485.25v7.0 M282.56 925.6v-7.0M307.47 485.25v7.0 M307.47 925.6v-7.0M319.93 485.25v7.0 M319.93 925.6v-7.0M332.39 485.25v7.0 M332.39 925.6v-7.0M344.84 485.25v7.0 M344.84 925.6v-7.0M357.3 485.25v7.0 M357.3 925.6v-7.0M369.76 485.25v7.0 M369.76 925.6v-7.0M382.21 485.25v7.0 M382.21 925.6v-7.0M394.67 485.25v7.0 M394.67 925.6v-7.0M407.13 485.25v7.0 M407.13 925.6v-7.0M432.04 485.25v7.0 M432.04 925.6v-7.0M444.5 485.25v7.0 M444.5 925.6v-7.0M456.96 485.25v7.0 M456.96 925.6v-7.0M469.41 485.25v7.0 M469.41 925.6v-7.0M481.87 485.25v7.0 M481.87 925.6v-7.0M494.33 485.25v7.0 M494.33 925.6v-7.0M506.79 485.25v7.0 M506.79 925.6v-7.0M519.24 485.25v7.0 M519.24 925.6v-7.0M531.7 485.25v7.0 M531.7 925.6v-7.0M556.61 485.25v7.0 M556.61 925.6v-7.0M569.07 485.25v7.0 M569.07 925.6v-7.0" stroke="#000" stroke-width="2.0" fill="none"/>
<path d="M635.92 17.9v12.0 M635.92 458.3v-12.0M727.71 17.9v12.0 M727.71 458.3v-12.0M819.5 17.9v12.0 M819.5 458.3v-12.0M911.29 17.9v12.0 M911.29 458.3v-12.0M1003.08 17.9v12.0 M1003.08 458.3v-12.0" stroke="#000" stroke-width="2.7" fill="none"/>
<path d="M612.97 17.9v7.0 M612.97 458.3v-7.0M658.87 17.9v7.0 M658.87 458.3v-7.0M681.82 17.9v7.0 M681.82 458.3v-7.0M704.76 17.9v7.0 M704.76 458.3v-7.0M750.66 17.9v7.0 M750.66 458.3v-7.0M773.61 17.9v7.0 M773.61 458.3v-7.0M796.55 17.9v7.0 M796.55 458.3v-7.0M842.45 17.9v7.0 M842.45 458.3v-7.0M865.39 17.9v7.0 M865.39 458.3v-7.0M888.34 17.9v7.0 M888.34 458.3v-7.0M934.24 17.9v7.0 M934.24 458.3v-7.0M957.18 17.9v7.0 M957.18 458.3v-7.0M980.13 17.9v7.0 M980.13 458.3v-7.0M1026.03 17.9v7.0 M1026.03 458.3v-7.0" stroke="#000" stroke-width="2.0" fill="none"/>
<path d="M635.92 485.25v12.0 M635.92 925.6v-12.0M727.71 485.25v12.0 M727.71 925.6v-12.0M819.5 485.25v12.0 M819.5 925.6v-12.0M911.29 485.25v12.0 M911.29 925.6v-12.0M1003.08 485.25v12.0 M1003.08 925.6v-12.0" stroke="#000" stroke-width="2.7" fill="none"/>
<path d="M612.97 485.25v7.0 M612.97 925.6v-7.0M658.87 485.25v7.0 M658.87 925.6v-7.0M681.82 485.25v7.0 M681.82 925.6v-7.0M704.76 485.25v7.0 M704.76 925.6v-7.0M750.66 485.25v7.0 M750.66 925.6v-7.0M773.61 485.25v7.0 M773.61 925.6v-7.0M796.55 485.25v7.0 M796.55 925.6v-7.0M842.45 485.25v7.0 M842.45 925.6v-7.0M865.39 485.25v7.0 M865.39 925.6v-7.0M888.34 485.25v7.0 M888.34 925.6v-7.0M934.24 485.25v7.0 M934.24 925.6v-7.0M957.18 485.25v7.0 M957.18 925.6v-7.0M980.13 485.25v7.0 M980.13 925.6v-7.0M1026.03 485.25v7.0 M1026.03 925.6v-7.0" stroke="#000" stroke-width="2.0" fill="none"/>
<path d="M1090.85 485.25v12.0 M1090.85 925.6v-12.0M1163.52 485.25v12.0 M1163.52 925.6v-12.0M1236.18 485.25v12.0 M1236.18 925.6v-12.0M1308.85 485.25v12.0 M1308.85 925.6v-12.0M1381.52 485.25v12.0 M1381.52 925.6v-12.0M1454.18 485.25v12.0 M1454.18 925.6v-12.0" stroke="#000" stroke-width="2.7" fill="none"/>
<path d="M1072.68 485.25v7.0 M1072.68 925.6v-7.0M1109.02 485.25v7.0 M1109.02 925.6v-7.0M1127.18 485.25v7.0 M1127.18 925.6v-7.0M1145.35 485.25v7.0 M1145.35 925.6v-7.0M1181.68 485.25v7.0 M1181.68 925.6v-7.0M1199.85 485.25v7.0 M1199.85 925.6v-7.0M1218.02 485.25v7.0 M1218.02 925.6v-7.0M1254.35 485.25v7.0 M1254.35 925.6v-7.0M1272.52 485.25v7.0 M1272.52 925.6v-7.0M1290.68 485.25v7.0 M1290.68 925.6v-7.0M1327.02 485.25v7.0 M1327.02 925.6v-7.0M1345.18 485.25v7.0 M1345.18 925.6v-7.0M1363.35 485.25v7.0 M1363.35 925.6v-7.0M1399.68 485.25v7.0 M1399.68 925.6v-7.0M1417.85 485.25v7.0 M1417.85 925.6v-7.0M1436.02 485.25v7.0 M1436.02 925.6v-7.0M1472.35 485.25v7.0 M1472.35 925.6v-7.0M1490.52 485.25v7.0 M1490.52 925.6v-7.0" stroke="#000" stroke-width="2.0" fill="none"/>
<path d="M139.3 430.78h12.0 M575.3 430.78h-12.0M139.3 357.38h12.0 M575.3 357.38h-12.0M139.3 283.98h12.0 M575.3 283.98h-12.0M139.3 210.57h12.0 M575.3 210.57h-12.0M139.3 137.18h12.0 M575.3 137.18h-12.0M139.3 63.77h12.0 M575.3 63.77h-12.0" stroke="#000" stroke-width="2.7" fill="none"/>
<path d="M139.3 449.12h7.0 M575.3 449.12h-7.0M139.3 412.43h7.0 M575.3 412.43h-7.0M139.3 394.07h7.0 M575.3 394.07h-7.0M139.3 375.73h7.0 M575.3 375.73h-7.0M139.3 339.02h7.0 M575.3 339.02h-7.0M139.3 320.68h7.0 M575.3 320.68h-7.0M139.3 302.32h7.0 M575.3 302.32h-7.0M139.3 265.62h7.0 M575.3 265.62h-7.0M139.3 247.27h7.0 M575.3 247.27h-7.0M139.3 228.92h7.0 M575.3 228.92h-7.0M139.3 192.23h7.0 M575.3 192.23h-7.0M139.3 173.88h7.0 M575.3 173.88h-7.0M139.3 155.52h7.0 M575.3 155.52h-7.0M139.3 118.82h7.0 M575.3 118.82h-7.0M139.3 100.47h7.0 M575.3 100.47h-7.0M139.3 82.12h7.0 M575.3 82.12h-7.0M139.3 45.42h7.0 M575.3 45.42h-7.0M139.3 27.07h7.0 M575.3 27.07h-7.0" stroke="#000" stroke-width="2.0" fill="none"/>
<path d="M601.5 430.78h12.0 M1037.5 430.78h-12.0M601.5 357.38h12.0 M1037.5 357.38h-12.0M601.5 283.98h12.0 M1037.5 283.98h-12.0M601.5 210.57h12.0 M1037.5 210.57h-12.0M601.5 137.18h12.0 M1037.5 137.18h-12.0M601.5 63.77h12.0 M1037.5 63.77h-12.0" stroke="#000" stroke-width="2.7" fill="none"/>
<path d="M601.5 449.12h7.0 M1037.5 449.12h-7.0M601.5 412.43h7.0 M1037.5 412.43h-7.0M601.5 394.07h7.0 M1037.5 394.07h-7.0M601.5 375.73h7.0 M1037.5 375.73h-7.0M601.5 339.02h7.0 M1037.5 339.02h-7.0M601.5 320.68h7.0 M1037.5 320.68h-7.0M601.5 302.32h7.0 M1037.5 302.32h-7.0M601.5 265.62h7.0 M1037.5 265.62h-7.0M601.5 247.27h7.0 M1037.5 247.27h-7.0M601.5 228.92h7.0 M1037.5 228.92h-7.0M601.5 192.23h7.0 M1037.5 192.23h-7.0M601.5 173.88h7.0 M1037.5 173.88h-7.0M601.5 155.52h7.0 M1037.5 155.52h-7.0M601.5 118.82h7.0 M1037.5 118.82h-7.0M601.5 100.47h7.0 M1037.5 100.47h-7.0M601.5 82.12h7.0 M1037.5 82.12h-7.0M601.5 45.42h7.0 M1037.5 45.42h-7.0M601.5 27.07h7.0 M1037.5 27.07h-7.0" stroke="#000" stroke-width="2.0" fill="none"/>
<path d="M139.3 837.53h12.0 M575.3 837.53h-12.0M139.3 749.46h12.0 M575.3 749.46h-12.0M139.3 661.39h12.0 M575.3 661.39h-12.0M139.3 573.32h12.0 M575.3 573.32h-12.0" stroke="#000" stroke-width="2.7" fill="none"/>
<path d="M139.3 899.09h7.0 M575.3 899.09h-7.0M139.3 883.58h7.0 M575.3 883.58h-7.0M139.3 872.58h7.0 M575.3 872.58h-7.0M139.3 864.04h7.0 M575.3 864.04h-7.0M139.3 857.07h7.0 M575.3 857.07h-7.0M139.3 851.17h7.0 M575.3 851.17h-7.0M139.3 846.06h7.0 M575.3 846.06h-7.0M139.3 841.56h7.0 M575.3 841.56h-7.0M139.3 811.02h7.0 M575.3 811.02h-7.0M139.3 795.51h7.0 M575.3 795.51h-7.0M139.3 784.51h7.0 M575.3 784.51h-7.0M139.3 775.97h7.0 M575.3 775.97h-7.0M139.3 769h7.0 M575.3 769h-7.0M139.3 763.1h7.0 M575.3 763.1h-7.0M139.3 757.99h7.0 M575.3 757.99h-7.0M139.3 753.49h7.0 M575.3 753.49h-7.0M139.3 722.95h7.0 M575.3 722.95h-7.0M139.3 707.44h7.0 M575.3 707.44h-7.0M139.3 696.44h7.0 M575.3 696.44h-7.0M139.3 687.9h7.0 M575.3 687.9h-7.0M139.3 680.93h7.0 M575.3 680.93h-7.0M139.3 675.03h7.0 M575.3 675.03h-7.0M139.3 669.92h7.0 M575.3 669.92h-7.0M139.3 665.42h7.0 M575.3 665.42h-7.0M139.3 634.88h7.0 M575.3 634.88h-7.0M139.3 619.37h7.0 M575.3 619.37h-7.0M139.3 608.37h7.0 M575.3 608.37h-7.0M139.3 599.83h7.0 M575.3 599.83h-7.0M139.3 592.86h7.0 M575.3 592.86h-7.0M139.3 586.96h7.0 M575.3 586.96h-7.0M139.3 581.85h7.0 M575.3 581.85h-7.0M139.3 577.35h7.0 M575.3 577.35h-7.0M139.3 546.81h7.0 M575.3 546.81h-7.0M139.3 531.3h7.0 M575.3 531.3h-7.0M139.3 520.3h7.0 M575.3 520.3h-7.0M139.3 511.76h7.0 M575.3 511.76h-7.0M139.3 504.79h7.0 M575.3 504.79h-7.0M139.3 498.89h7.0 M575.3 498.89h-7.0M139.3 493.78h7.0 M575.3 493.78h-7.0M139.3 489.28h7.0 M575.3 489.28h-7.0" stroke="#000" stroke-width="2.0" fill="none"/>
<path d="M601.5 837.53h12.0 M1037.5 837.53h-12.0M601.5 749.46h12.0 M1037.5 749.46h-12.0M601.5 661.39h12.0 M1037.5 661.39h-12.0M601.5 573.32h12.0 M1037.5 573.32h-12.0" stroke="#000" stroke-width="2.7" fill="none"/>
<path d="M601.5 899.09h7.0 M1037.5 899.09h-7.0M601.5 883.58h7.0 M1037.5 883.58h-7.0M601.5 872.58h7.0 M1037.5 872.58h-7.0M601.5 864.04h7.0 M1037.5 864.04h-7.0M601.5 857.07h7.0 M1037.5 857.07h-7.0M601.5 851.17h7.0 M1037.5 851.17h-7.0M601.5 846.06h7.0 M1037.5 846.06h-7.0M601.5 841.56h7.0 M1037.5 841.56h-7.0M601.5 811.02h7.0 M1037.5 811.02h-7.0M601.5 795.51h7.0 M1037.5 795.51h-7.0M601.5 784.51h7.0 M1037.5 784.51h-7.0M601.5 775.97h7.0 M1037.5 775.97h-7.0M601.5 769h7.0 M1037.5 769h-7.0M601.5 763.1h7.0 M1037.5 763.1h-7.0M601.5 757.99h7.0 M1037.5 757.99h-7.0M601.5 753.49h7.0 M1037.5 753.49h-7.0M601.5 722.95h7.0 M1037.5 722.95h-7.0M601.5 707.44h7.0 M1037.5 707.44h-7.0M601.5 696.44h7.0 M1037.5 696.44h-7.0M601.5 687.9h7.0 M1037.5 687.9h-7.0M601.5 680.93h7.0 M1037.5 680.93h-7.0M601.5 675.03h7.0 M1037.5 675.03h-7.0M601.5 669.92h7.0 M1037.5 669.92h-7.0M601.5 665.42h7.0 M1037.5 665.42h-7.0M601.5 634.88h7.0 M1037.5 634.88h-7.0M601.5 619.37h7.0 M1037.5 619.37h-7.0M601.5 608.37h7.0 M1037.5 608.37h-7.0M601.5 599.83h7.0 M1037.5 599.83h-7.0M601.5 592.86h7.0 M1037.5 592.86h-7.0M601.5 586.96h7.0 M1037.5 586.96h-7.0M601.5 581.85h7.0 M1037.5 581.85h-7.0M601.5 577.35h7.0 M1037.5 577.35h-7.0M601.5 546.81h7.0 M1037.5 546.81h-7.0M601.5 531.3h7.0 M1037.5 531.3h-7.0M601.5 520.3h7.0 M1037.5 520.3h-7.0M601.5 511.76h7.0 M1037.5 511.76h-7.0M601.5 504.79h7.0 M1037.5 504.79h-7.0M601.5 498.89h7.0 M1037.5 498.89h-7.0M601.5 493.78h7.0 M1037.5 493.78h-7.0M601.5 489.28h7.0 M1037.5 489.28h-7.0" stroke="#000" stroke-width="2.0" fill="none"/>
<path d="M1063.6 837.53h12.0 M1499.6 837.53h-12.0M1063.6 749.46h12.0 M1499.6 749.46h-12.0M1063.6 661.39h12.0 M1499.6 661.39h-12.0M1063.6 573.32h12.0 M1499.6 573.32h-12.0" stroke="#000" stroke-width="2.7" fill="none"/>
<path d="M1063.6 899.09h7.0 M1499.6 899.09h-7.0M1063.6 883.58h7.0 M1499.6 883.58h-7.0M1063.6 872.58h7.0 M1499.6 872.58h-7.0M1063.6 864.04h7.0 M1499.6 864.04h-7.0M1063.6 857.07h7.0 M1499.6 857.07h-7.0M1063.6 851.17h7.0 M1499.6 851.17h-7.0M1063.6 846.06h7.0 M1499.6 846.06h-7.0M1063.6 841.56h7.0 M1499.6 841.56h-7.0M1063.6 811.02h7.0 M1499.6 811.02h-7.0M1063.6 795.51h7.0 M1499.6 795.51h-7.0M1063.6 784.51h7.0 M1499.6 784.51h-7.0M1063.6 775.97h7.0 M1499.6 775.97h-7.0M1063.6 769h7.0 M1499.6 769h-7.0M1063.6 763.1h7.0 M1499.6 763.1h-7.0M1063.6 757.99h7.0 M1499.6 757.99h-7.0M1063.6 753.49h7.0 M1499.6 753.49h-7.0M1063.6 722.95h7.0 M1499.6 722.95h-7.0M1063.6 707.44h7.0 M1499.6 707.44h-7.0M1063.6 696.44h7.0 M1499.6 696.44h-7.0M1063.6 687.9h7.0 M1499.6 687.9h-7.0M1063.6 680.93h7.0 M1499.6 680.93h-7.0M1063.6 675.03h7.0 M1499.6 675.03h-7.0M1063.6 669.92h7.0 M1499.6 669.92h-7.0M1063.6 665.42h7.0 M1499.6 665.42h-7.0M1063.6 634.88h7.0 M1499.6 634.88h-7.0M1063.6 619.37h7.0 M1499.6 619.37h-7.0M1063.6 608.37h7.0 M1499.6 608.37h-7.0M1063.6 599.83h7.0 M1499.6 599.83h-7.0M1063.6 592.86h7.0 M1499.6 592.86h-7.0M1063.6 586.96h7.0 M1499.6 586.96h-7.0M1063.6 581.85h7.0 M1499.6 581.85h-7.0M1063.6 577.35h7.0 M1499.6 577.35h-7.0M1063.6 546.81h7.0 M1499.6 546.81h-7.0M1063.6 531.3h7.0 M1499.6 531.3h-7.0M1063.6 520.3h7.0 M1499.6 520.3h-7.0M1063.6 511.76h7.0 M1499.6 511.76h-7.0M1063.6 504.79h7.0 M1499.6 504.79h-7.0M1063.6 498.89h7.0 M1499.6 498.89h-7.0M1063.6 493.78h7.0 M1499.6 493.78h-7.0M1063.6 489.28h7.0 M1499.6 489.28h-7.0" stroke="#000" stroke-width="2.0" fill="none"/>
<g stroke="#000" stroke-width="1.15" stroke-linejoin="miter">
<g fill="#484ed6">
<path d="M335.9 203.2l6.8 6.8l-6.8 6.8l-6.8 -6.8Z"/>
<path d="M446.9 205.8l6.8 6.8l-6.8 6.8l-6.8 -6.8Z"/>
<path d="M289.5 244.8l6.8 6.8l-6.8 6.8l-6.8 -6.8Z"/>
<path d="M295.1 250.3l6.8 6.8l-6.8 6.8l-6.8 -6.8Z"/>
<path d="M306.2 251l6.8 6.8l-6.8 6.8l-6.8 -6.8Z"/>
<path d="M358.9 253.1l6.8 6.8l-6.8 6.8l-6.8 -6.8Z"/>
<path d="M415.4 251.8l6.8 6.8l-6.8 6.8l-6.8 -6.8Z"/>
<path d="M290 271l6.8 6.8l-6.8 6.8l-6.8 -6.8Z"/>
<path d="M270 290.5l6.8 6.8l-6.8 6.8l-6.8 -6.8Z"/>
<path d="M275.5 292.8l6.8 6.8l-6.8 6.8l-6.8 -6.8Z"/>
<path d="M349.8 294.8l6.8 6.8l-6.8 6.8l-6.8 -6.8Z"/>
<path d="M256.2 312.1l6.8 6.8l-6.8 6.8l-6.8 -6.8Z"/>
<path d="M350.1 318.9l6.8 6.8l-6.8 6.8l-6.8 -6.8Z"/>
<path d="M183.9 375l6.8 6.8l-6.8 6.8l-6.8 -6.8Z"/>
<path d="M255.7 375.4l6.8 6.8l-6.8 6.8l-6.8 -6.8Z"/>
<path d="M194.6 383.6l6.8 6.8l-6.8 6.8l-6.8 -6.8Z"/>
<path d="M233.3 386.5l6.8 6.8l-6.8 6.8l-6.8 -6.8Z"/>
<path d="M188.4 417.2l6.8 6.8l-6.8 6.8l-6.8 -6.8Z"/>
<path d="M156.6 439.9l6.8 6.8l-6.8 6.8l-6.8 -6.8Z"/>
<path d="M260.5 310.2l6.8 6.8l-6.8 6.8l-6.8 -6.8Z"/>
</g>
<g fill="#74b9fb">
<path d="M386.4 279L391.16 282.45L389.34 288.05L383.46 288.05L381.64 282.45Z"/>
<path d="M331.1 376.1L335.86 379.55L334.04 385.15L328.16 385.15L326.34 379.55Z"/>
<path d="M231 377.9L235.76 381.35L233.94 386.95L228.06 386.95L226.24 381.35Z"/>
<path d="M188.4 385.4L193.16 388.85L191.34 394.45L185.46 394.45L183.64 388.85Z"/>
<path d="M219.9 384.6L224.66 388.05L222.84 393.65L216.96 393.65L215.14 388.05Z"/>
<path d="M244.4 411.7L249.16 415.15L247.34 420.75L241.46 420.75L239.64 415.15Z"/>
</g>
<g fill="#4f9f4f">
<circle cx="499.8" cy="110.2" r="5.2"/>
<circle cx="469.4" cy="153.8" r="5.2"/>
<circle cx="477.1" cy="171.4" r="5.2"/>
<circle cx="470.1" cy="208.4" r="5.2"/>
<circle cx="488.4" cy="207.8" r="5.2"/>
<circle cx="483.3" cy="226.5" r="5.2"/>
<circle cx="422.5" cy="230.5" r="5.2"/>
<circle cx="462.4" cy="242.5" r="5.2"/>
<circle cx="449.8" cy="275.8" r="5.2"/>
<circle cx="441.4" cy="286.2" r="5.2"/>
<circle cx="494.3" cy="303.4" r="5.2"/>
<circle cx="434.2" cy="305.3" r="5.2"/>
<circle cx="491.7" cy="313.7" r="5.2"/>
<circle cx="502" cy="322.1" r="5.2"/>
<circle cx="457.1" cy="329.8" r="5.2"/>
<circle cx="312.9" cy="342.9" r="5.2"/>
<circle cx="285.7" cy="367.8" r="5.2"/>
<circle cx="395.8" cy="376.1" r="5.2"/>
<circle cx="263.5" cy="398.2" r="5.2"/>
<circle cx="372" cy="408.9" r="5.2"/>
<circle cx="394.1" cy="408" r="5.2"/>
</g>
<g fill="#1c3043">
<path d="M335.5 92.7L330.6 102.5L340.4 102.5Z"/>
<path d="M296.3 134.6L291.4 144.4L301.2 144.4Z"/>
<path d="M252.9 172L248 181.8L257.8 181.8Z"/>
<path d="M342.5 224.5L337.6 234.3L347.4 234.3Z"/>
<path d="M335.9 228.9L331 238.7L340.8 238.7Z"/>
<path d="M500.3 122.9L495.4 132.7L505.2 132.7Z"/>
<path d="M496.5 179.3L491.6 189.1L501.4 189.1Z"/>
<path d="M374.2 181.9L369.3 191.7L379.1 191.7Z"/>
<path d="M374.2 192.5L369.3 202.3L379.1 202.3Z"/>
<path d="M492.8 212.4L487.9 222.2L497.7 222.2Z"/>
<path d="M280.6 247.3L275.7 257.1L285.5 257.1Z"/>
<path d="M277.3 266.9L272.4 276.7L282.2 276.7Z"/>
<path d="M259.5 304L254.6 313.8L264.4 313.8Z"/>
<path d="M264.6 315.8L259.7 325.6L269.5 325.6Z"/>
<path d="M272.2 325.1L267.3 334.9L277.1 334.9Z"/>
<path d="M515.2 323.6L510.3 333.4L520.1 333.4Z"/>
<path d="M363.7 374.3L358.8 384.1L368.6 384.1Z"/>
</g>
<g fill="#ffffff">
<path d="M359.3 62.5L354.4 72.3L364.2 72.3Z"/>
<path d="M225.3 122.9L220.4 132.7L230.2 132.7Z"/>
<path d="M277.5 130.8L272.6 140.6L282.4 140.6Z"/>
<path d="M268.7 147.8L263.8 157.6L273.6 157.6Z"/>
<path d="M432.6 151.8L427.7 161.6L437.5 161.6Z"/>
<path d="M215.5 256.2L210.6 266L220.4 266Z"/>
<path d="M223.3 275.8L218.4 285.6L228.2 285.6Z"/>
<path d="M209.5 280.2L204.6 290L214.4 290Z"/>
<path d="M238.4 288.9L233.5 298.7L243.3 298.7Z"/>
<path d="M258 306.2L253.1 316L262.9 316Z"/>
</g>
<g fill="#ffffff">
<circle cx="411" cy="267.9" r="5.2"/>
</g>
<g fill="#fafa33">
<path d="M497.6 74.7L500.11 82.44L508.25 82.44L501.67 87.22L504.18 94.96L497.6 90.18L491.02 94.96L493.53 87.22L486.95 82.44L495.09 82.44Z"/>
<path d="M327.8 202.1L330.31 209.84L338.45 209.84L331.87 214.62L334.38 222.36L327.8 217.58L321.22 222.36L323.73 214.62L317.15 209.84L325.29 209.84Z"/>
<path d="M316.9 325L319.41 332.74L327.55 332.74L320.97 337.52L323.48 345.26L316.9 340.48L310.32 345.26L312.83 337.52L306.25 332.74L314.39 332.74Z"/>
<path d="M404.4 308.5L406.91 316.24L415.05 316.24L408.47 321.02L410.98 328.76L404.4 323.98L397.82 328.76L400.33 321.02L393.75 316.24L401.89 316.24Z"/>
</g>
</g>
<g stroke="#000" stroke-width="1.15" stroke-linejoin="miter">
<g fill="#484ed6">
<path d="M645.4 202.2l6.8 6.8l-6.8 6.8l-6.8 -6.8Z"/>
<path d="M638.8 206.6l6.8 6.8l-6.8 6.8l-6.8 -6.8Z"/>
<path d="M684.4 244.6l6.8 6.8l-6.8 6.8l-6.8 -6.8Z"/>
<path d="M657 248.5l6.8 6.8l-6.8 6.8l-6.8 -6.8Z"/>
<path d="M660.8 251.4l6.8 6.8l-6.8 6.8l-6.8 -6.8Z"/>
<path d="M649.8 252.9l6.8 6.8l-6.8 6.8l-6.8 -6.8Z"/>
<path d="M648.8 251.8l6.8 6.8l-6.8 6.8l-6.8 -6.8Z"/>
<path d="M690.1 271l6.8 6.8l-6.8 6.8l-6.8 -6.8Z"/>
<path d="M700.4 290.8l6.8 6.8l-6.8 6.8l-6.8 -6.8Z"/>
<path d="M672.9 292.2l6.8 6.8l-6.8 6.8l-6.8 -6.8Z"/>
<path d="M662.3 294.1l6.8 6.8l-6.8 6.8l-6.8 -6.8Z"/>
<path d="M709.3 311.3l6.8 6.8l-6.8 6.8l-6.8 -6.8Z"/>
<path d="M692.3 319l6.8 6.8l-6.8 6.8l-6.8 -6.8Z"/>
<path d="M840.4 374.8l6.8 6.8l-6.8 6.8l-6.8 -6.8Z"/>
<path d="M676.7 375.2l6.8 6.8l-6.8 6.8l-6.8 -6.8Z"/>
<path d="M857.4 384l6.8 6.8l-6.8 6.8l-6.8 -6.8Z"/>
<path d="M741.6 386.2l6.8 6.8l-6.8 6.8l-6.8 -6.8Z"/>
<path d="M966.4 417.5l6.8 6.8l-6.8 6.8l-6.8 -6.8Z"/>
<path d="M1022.6 440.2l6.8 6.8l-6.8 6.8l-6.8 -6.8Z"/>
<path d="M729.5 309.6l6.8 6.8l-6.8 6.8l-6.8 -6.8Z"/>
</g>
<g fill="#74b9fb">
<path d="M675.1 278.5L679.86 281.95L678.04 287.55L672.16 287.55L670.34 281.95Z"/>
<path d="M742.3 375.9L747.06 379.35L745.24 384.95L739.36 384.95L737.54 379.35Z"/>
<path d="M789.2 377.7L793.96 381.15L792.14 386.75L786.26 386.75L784.44 381.15Z"/>
<path d="M858.9 385.4L863.66 388.85L861.84 394.45L855.96 394.45L854.14 388.85Z"/>
<path d="M825.7 384.7L830.46 388.15L828.64 393.75L822.76 393.75L820.94 388.15Z"/>
<path d="M868.4 411.8L873.16 415.25L871.34 420.85L865.46 420.85L863.64 415.25Z"/>
</g>
<g fill="#4f9f4f">
<circle cx="616.1" cy="110.3" r="5.2"/>
<circle cx="625.1" cy="153.2" r="5.2"/>
<circle cx="620" cy="171.1" r="5.2"/>
<circle cx="633.8" cy="208.6" r="5.2"/>
<circle cx="631.7" cy="207.9" r="5.2"/>
<circle cx="632.1" cy="226.6" r="5.2"/>
<circle cx="624.4" cy="230" r="5.2"/>
<circle cx="641" cy="242.6" r="5.2"/>
<circle cx="641.4" cy="275.8" r="5.2"/>
<circle cx="650.9" cy="286.2" r="5.2"/>
<circle cx="648.7" cy="303.4" r="5.2"/>
<circle cx="654.2" cy="305.6" r="5.2"/>
<circle cx="664.1" cy="313.7" r="5.2"/>
<circle cx="668.5" cy="322.1" r="5.2"/>
<circle cx="663" cy="329.8" r="5.2"/>
<circle cx="693.2" cy="343" r="5.2"/>
<circle cx="720.5" cy="367.7" r="5.2"/>
<circle cx="687.9" cy="376.1" r="5.2"/>
<circle cx="763.7" cy="398.1" r="5.2"/>
<circle cx="878.7" cy="408.9" r="5.2"/>
<circle cx="738.6" cy="408" r="5.2"/>
</g>
<g fill="#1c3043">
<path d="M664.5 92.8L659.6 102.6L669.4 102.6Z"/>
<path d="M696.3 134.7L691.4 144.5L701.2 144.5Z"/>
<path d="M704.9 172.1L700 181.9L709.8 181.9Z"/>
<path d="M673.3 223.5L668.4 233.3L678.2 233.3Z"/>
<path d="M688.3 228.6L683.4 238.4L693.2 238.4Z"/>
<path d="M611.7 122.6L606.8 132.4L616.6 132.4Z"/>
<path d="M616.1 178.7L611.2 188.5L621 188.5Z"/>
<path d="M665.6 181.6L660.7 191.4L670.5 191.4Z"/>
<path d="M694.9 192L690 201.8L699.8 201.8Z"/>
<path d="M626.6 212.9L621.7 222.7L631.5 222.7Z"/>
<path d="M760.6 247.1L755.7 256.9L765.5 256.9Z"/>
<path d="M773.1 267L768.2 276.8L778 276.8Z"/>
<path d="M810.3 304.4L805.4 314.2L815.2 314.2Z"/>
<path d="M787 316.1L782.1 325.9L791.9 325.9Z"/>
<path d="M767.2 324.7L762.3 334.5L772.1 334.5Z"/>
<path d="M743.8 323.6L738.9 333.4L748.7 333.4Z"/>
<path d="M785.3 374.3L780.4 384.1L790.2 384.1Z"/>
</g>
<g fill="#ffffff">
<path d="M652 62.4L647.1 72.2L656.9 72.2Z"/>
<path d="M663.4 123L658.5 132.8L668.3 132.8Z"/>
<path d="M671.1 130.7L666.2 140.5L676 140.5Z"/>
<path d="M692.7 147.5L687.8 157.3L697.6 157.3Z"/>
<path d="M687.2 151.9L682.3 161.7L692.1 161.7Z"/>
<path d="M668.1 256.4L663.2 266.2L673 266.2Z"/>
<path d="M677.8 275.8L672.9 285.6L682.7 285.6Z"/>
<path d="M683.9 280.8L679 290.6L688.8 290.6Z"/>
<path d="M688.8 289L683.9 298.8L693.7 298.8Z"/>
<path d="M790.3 306L785.4 315.8L795.2 315.8Z"/>
</g>
<g fill="#ffffff">
<circle cx="631.7" cy="267.9" r="5.2"/>
</g>
<g fill="#fafa33">
<path d="M634.8 74.4L637.31 82.14L645.45 82.14L638.87 86.92L641.38 94.66L634.8 89.88L628.22 94.66L630.73 86.92L624.15 82.14L632.29 82.14Z"/>
<path d="M693.2 201.7L695.71 209.44L703.85 209.44L697.27 214.22L699.78 221.96L693.2 217.18L686.62 221.96L689.13 214.22L682.55 209.44L690.69 209.44Z"/>
<path d="M754 325.7L756.51 333.44L764.65 333.44L758.07 338.22L760.58 345.96L754 341.18L747.42 345.96L749.93 338.22L743.35 333.44L751.49 333.44Z"/>
<path d="M702.6 308.5L705.11 316.24L713.25 316.24L706.67 321.02L709.18 328.76L702.6 323.98L696.02 328.76L698.53 321.02L691.95 316.24L700.09 316.24Z"/>
</g>
</g>
<g stroke="#000" stroke-width="1.15" stroke-linejoin="miter">
<g fill="#484ed6">
<path d="M334.9 715.5l6.8 6.8l-6.8 6.8l-6.8 -6.8Z"/>
<path d="M446.9 753.1l6.8 6.8l-6.8 6.8l-6.8 -6.8Z"/>
<path d="M289.2 676.2l6.8 6.8l-6.8 6.8l-6.8 -6.8Z"/>
<path d="M294.1 688.8l6.8 6.8l-6.8 6.8l-6.8 -6.8Z"/>
<path d="M306.1 699.9l6.8 6.8l-6.8 6.8l-6.8 -6.8Z"/>
<path d="M359.6 719.7l6.8 6.8l-6.8 6.8l-6.8 -6.8Z"/>
<path d="M415.2 773.6l6.8 6.8l-6.8 6.8l-6.8 -6.8Z"/>
<path d="M290.3 656.8l6.8 6.8l-6.8 6.8l-6.8 -6.8Z"/>
<path d="M271.6 654.2l6.8 6.8l-6.8 6.8l-6.8 -6.8Z"/>
<path d="M275.3 685l6.8 6.8l-6.8 6.8l-6.8 -6.8Z"/>
<path d="M349.2 717.2l6.8 6.8l-6.8 6.8l-6.8 -6.8Z"/>
<path d="M255.7 653.1l6.8 6.8l-6.8 6.8l-6.8 -6.8Z"/>
<path d="M350.2 703.8l6.8 6.8l-6.8 6.8l-6.8 -6.8Z"/>
<path d="M183.5 606.2l6.8 6.8l-6.8 6.8l-6.8 -6.8Z"/>
<path d="M255.7 670.3l6.8 6.8l-6.8 6.8l-6.8 -6.8Z"/>
<path d="M194.5 605.3l6.8 6.8l-6.8 6.8l-6.8 -6.8Z"/>
<path d="M233 635l6.8 6.8l-6.8 6.8l-6.8 -6.8Z"/>
<path d="M188.5 576.7l6.8 6.8l-6.8 6.8l-6.8 -6.8Z"/>
<path d="M156.4 524.2l6.8 6.8l-6.8 6.8l-6.8 -6.8Z"/>
<path d="M260.1 658.2l6.8 6.8l-6.8 6.8l-6.8 -6.8Z"/>
</g>
<g fill="#74b9fb">
<path d="M386.4 726L391.16 729.45L389.34 735.05L383.46 735.05L381.64 729.45Z"/>
<path d="M331.5 675.4L336.26 678.85L334.44 684.45L328.56 684.45L326.74 678.85Z"/>
<path d="M230.8 627.4L235.56 630.85L233.74 636.45L227.86 636.45L226.04 630.85Z"/>
<path d="M188.5 594.8L193.26 598.25L191.44 603.85L185.56 603.85L183.74 598.25Z"/>
<path d="M220 608L224.76 611.45L222.94 617.05L217.06 617.05L215.24 611.45Z"/>
<path d="M244.5 605.3L249.26 608.75L247.44 614.35L241.56 614.35L239.74 608.75Z"/>
</g>
<g fill="#4f9f4f">
<circle cx="499.8" cy="805.1" r="5.2"/>
<circle cx="469" cy="800.7" r="5.2"/>
<circle cx="477.1" cy="785.9" r="5.2"/>
<circle cx="469.6" cy="790.3" r="5.2"/>
<circle cx="488.4" cy="797.8" r="5.2"/>
<circle cx="483.7" cy="815" r="5.2"/>
<circle cx="422.7" cy="802.2" r="5.2"/>
<circle cx="462.4" cy="762.1" r="5.2"/>
<circle cx="449.8" cy="797.8" r="5.2"/>
<circle cx="441.4" cy="796.3" r="5.2"/>
<circle cx="493.2" cy="805.7" r="5.2"/>
<circle cx="434.2" cy="762.1" r="5.2"/>
<circle cx="491" cy="806.2" r="5.2"/>
<circle cx="502" cy="814.3" r="5.2"/>
<circle cx="456.9" cy="766.1" r="5.2"/>
<circle cx="313.2" cy="748.5" r="5.2"/>
<circle cx="285.9" cy="706.9" r="5.2"/>
<circle cx="395.6" cy="726.1" r="5.2"/>
<circle cx="263.4" cy="680.4" r="5.2"/>
<circle cx="371.9" cy="733.7" r="5.2"/>
<circle cx="393.9" cy="728.4" r="5.2"/>
</g>
<g fill="#1c3043">
<path d="M334.2 752.8L329.3 762.6L339.1 762.6Z"/>
<path d="M296.3 740.9L291.4 750.7L301.2 750.7Z"/>
<path d="M253 722.1L248.1 731.9L257.9 731.9Z"/>
<path d="M342.6 747.3L337.7 757.1L347.5 757.1Z"/>
<path d="M336.9 752.4L332 762.2L341.8 762.2Z"/>
<path d="M500.5 828.4L495.6 838.2L505.4 838.2Z"/>
<path d="M496.5 835.4L491.6 845.2L501.4 845.2Z"/>
<path d="M374.2 757.6L369.3 767.4L379.1 767.4Z"/>
<path d="M374.2 770.9L369.3 780.7L379.1 780.7Z"/>
<path d="M492.8 833.2L487.9 843L497.7 843Z"/>
<path d="M280.4 724.1L275.5 733.9L285.3 733.9Z"/>
<path d="M277.7 732.3L272.8 742.1L282.6 742.1Z"/>
<path d="M258.8 702.4L253.9 712.2L263.7 712.2Z"/>
<path d="M264.9 705L260 714.8L269.8 714.8Z"/>
<path d="M272.3 657.9L267.4 667.7L277.2 667.7Z"/>
<path d="M515.7 771.1L510.8 780.9L520.6 780.9Z"/>
<path d="M363.8 741L358.9 750.8L368.7 750.8Z"/>
</g>
<g fill="#ffffff">
<path d="M359.1 803.1L354.2 812.9L364 812.9Z"/>
<path d="M225.8 744L220.9 753.8L230.7 753.8Z"/>
<path d="M277.6 741.4L272.7 751.2L282.5 751.2Z"/>
<path d="M269 731.5L264.1 741.3L273.9 741.3Z"/>
<path d="M432.6 818.5L427.7 828.3L437.5 828.3Z"/>
<path d="M215.3 749.5L210.4 759.3L220.2 759.3Z"/>
<path d="M223.4 747.3L218.5 757.1L228.3 757.1Z"/>
<path d="M209.3 737.6L204.4 747.4L214.2 747.4Z"/>
<path d="M238.4 734.8L233.5 744.6L243.3 744.6Z"/>
<path d="M257.6 734.8L252.7 744.6L262.5 744.6Z"/>
</g>
<g fill="#ffffff">
<circle cx="410.5" cy="810.8" r="5.2"/>
</g>
<g fill="#fafa33">
<path d="M497.6 841.8L500.11 849.54L508.25 849.54L501.67 854.32L504.18 862.06L497.6 857.28L491.02 862.06L493.53 854.32L486.95 849.54L495.09 849.54Z"/>
<path d="M328.1 726.6L330.61 734.34L338.75 734.34L332.17 739.12L334.68 746.86L328.1 742.08L321.52 746.86L324.03 739.12L317.45 734.34L325.59 734.34Z"/>
<path d="M316 726L318.51 733.74L326.65 733.74L320.07 738.52L322.58 746.26L316 741.48L309.42 746.26L311.93 738.52L305.35 733.74L313.49 733.74Z"/>
<path d="M404.5 748.9L407.01 756.64L415.15 756.64L408.57 761.42L411.08 769.16L404.5 764.38L397.92 769.16L400.43 761.42L393.85 756.64L401.99 756.64Z"/>
</g>
</g>
<g stroke="#000" stroke-width="1.15" stroke-linejoin="miter">
<g fill="#484ed6">
<path d="M645.4 715.5l6.8 6.8l-6.8 6.8l-6.8 -6.8Z"/>
<path d="M638.8 753.1l6.8 6.8l-6.8 6.8l-6.8 -6.8Z"/>
<path d="M684.4 676.2l6.8 6.8l-6.8 6.8l-6.8 -6.8Z"/>
<path d="M657 688.8l6.8 6.8l-6.8 6.8l-6.8 -6.8Z"/>
<path d="M660.8 699.9l6.8 6.8l-6.8 6.8l-6.8 -6.8Z"/>
<path d="M649.8 719.7l6.8 6.8l-6.8 6.8l-6.8 -6.8Z"/>
<path d="M648.8 773.6l6.8 6.8l-6.8 6.8l-6.8 -6.8Z"/>
<path d="M690.1 656.8l6.8 6.8l-6.8 6.8l-6.8 -6.8Z"/>
<path d="M700.4 654.2l6.8 6.8l-6.8 6.8l-6.8 -6.8Z"/>
<path d="M672.9 685l6.8 6.8l-6.8 6.8l-6.8 -6.8Z"/>
<path d="M662.3 717.2l6.8 6.8l-6.8 6.8l-6.8 -6.8Z"/>
<path d="M709.3 653.1l6.8 6.8l-6.8 6.8l-6.8 -6.8Z"/>
<path d="M692.3 703.8l6.8 6.8l-6.8 6.8l-6.8 -6.8Z"/>
<path d="M840.4 606.2l6.8 6.8l-6.8 6.8l-6.8 -6.8Z"/>
<path d="M676.7 670.3l6.8 6.8l-6.8 6.8l-6.8 -6.8Z"/>
<path d="M857.4 605.3l6.8 6.8l-6.8 6.8l-6.8 -6.8Z"/>
<path d="M741.6 635l6.8 6.8l-6.8 6.8l-6.8 -6.8Z"/>
<path d="M966.4 576.7l6.8 6.8l-6.8 6.8l-6.8 -6.8Z"/>
<path d="M1022.6 524.2l6.8 6.8l-6.8 6.8l-6.8 -6.8Z"/>
<path d="M729.5 658.2l6.8 6.8l-6.8 6.8l-6.8 -6.8Z"/>
</g>
<g fill="#74b9fb">
<path d="M675.1 726L679.86 729.45L678.04 735.05L672.16 735.05L670.34 729.45Z"/>
<path d="M742.3 675.4L747.06 678.85L745.24 684.45L739.36 684.45L737.54 678.85Z"/>
<path d="M789.2 627.4L793.96 630.85L792.14 636.45L786.26 636.45L784.44 630.85Z"/>
<path d="M858.9 594.8L863.66 598.25L861.84 603.85L855.96 603.85L854.14 598.25Z"/>
<path d="M825.7 608L830.46 611.45L828.64 617.05L822.76 617.05L820.94 611.45Z"/>
<path d="M868.4 605.3L873.16 608.75L871.34 614.35L865.46 614.35L863.64 608.75Z"/>
</g>
<g fill="#4f9f4f">
<circle cx="616.1" cy="805.1" r="5.2"/>
<circle cx="625.1" cy="800.7" r="5.2"/>
<circle cx="620" cy="785.9" r="5.2"/>
<circle cx="633.8" cy="790.3" r="5.2"/>
<circle cx="631.7" cy="797.8" r="5.2"/>
<circle cx="632.1" cy="815" r="5.2"/>
<circle cx="624.4" cy="802.2" r="5.2"/>
<circle cx="641" cy="762.1" r="5.2"/>
<circle cx="641.4" cy="797.8" r="5.2"/>
<circle cx="650.9" cy="796.3" r="5.2"/>
<circle cx="648.7" cy="805.7" r="5.2"/>
<circle cx="654.2" cy="762.1" r="5.2"/>
<circle cx="664.1" cy="806.2" r="5.2"/>
<circle cx="668.5" cy="814.3" r="5.2"/>
<circle cx="663" cy="766.1" r="5.2"/>
<circle cx="693.2" cy="748.5" r="5.2"/>
<circle cx="720.5" cy="706.9" r="5.2"/>
<circle cx="687.9" cy="726.1" r="5.2"/>
<circle cx="763.7" cy="680.4" r="5.2"/>
<circle cx="878.7" cy="733.7" r="5.2"/>
<circle cx="738.6" cy="728.4" r="5.2"/>
</g>
<g fill="#1c3043">
<path d="M664.5 752.8L659.6 762.6L669.4 762.6Z"/>
<path d="M696.3 740.9L691.4 750.7L701.2 750.7Z"/>
<path d="M704.9 722.1L700 731.9L709.8 731.9Z"/>
<path d="M673.3 747.3L668.4 757.1L678.2 757.1Z"/>
<path d="M688.3 752.4L683.4 762.2L693.2 762.2Z"/>
<path d="M611.7 828.4L606.8 838.2L616.6 838.2Z"/>
<path d="M616.1 835.4L611.2 845.2L621 845.2Z"/>
<path d="M665.6 757.6L660.7 767.4L670.5 767.4Z"/>
<path d="M694.9 770.9L690 780.7L699.8 780.7Z"/>
<path d="M626.6 833.2L621.7 843L631.5 843Z"/>
<path d="M760.6 724.1L755.7 733.9L765.5 733.9Z"/>
<path d="M773.1 732.3L768.2 742.1L778 742.1Z"/>
<path d="M810.3 702.4L805.4 712.2L815.2 712.2Z"/>
<path d="M787 705L782.1 714.8L791.9 714.8Z"/>
<path d="M767.2 657.9L762.3 667.7L772.1 667.7Z"/>
<path d="M743.8 771.1L738.9 780.9L748.7 780.9Z"/>
<path d="M785.3 741L780.4 750.8L790.2 750.8Z"/>
</g>
<g fill="#ffffff">
<path d="M652 803.1L647.1 812.9L656.9 812.9Z"/>
<path d="M663.4 744L658.5 753.8L668.3 753.8Z"/>
<path d="M671.1 741.4L666.2 751.2L676 751.2Z"/>
<path d="M692.7 731.5L687.8 741.3L697.6 741.3Z"/>
<path d="M687.2 818.5L682.3 828.3L692.1 828.3Z"/>
<path d="M668.1 749.5L663.2 759.3L673 759.3Z"/>
<path d="M677.8 747.3L672.9 757.1L682.7 757.1Z"/>
<path d="M683.9 737.6L679 747.4L688.8 747.4Z"/>
<path d="M688.8 734.8L683.9 744.6L693.7 744.6Z"/>
<path d="M790.3 734.8L785.4 744.6L795.2 744.6Z"/>
</g>
<g fill="#ffffff">
<circle cx="631.7" cy="810.8" r="5.2"/>
</g>
<g fill="#fafa33">
<path d="M634.8 841.8L637.31 849.54L645.45 849.54L638.87 854.32L641.38 862.06L634.8 857.28L628.22 862.06L630.73 854.32L624.15 849.54L632.29 849.54Z"/>
<path d="M693.2 726.6L695.71 734.34L703.85 734.34L697.27 739.12L699.78 746.86L693.2 742.08L686.62 746.86L689.13 739.12L682.55 734.34L690.69 734.34Z"/>
<path d="M754 726L756.51 733.74L764.65 733.74L758.07 738.52L760.58 746.26L754 741.48L747.42 746.26L749.93 738.52L743.35 733.74L751.49 733.74Z"/>
<path d="M702.6 748.9L705.11 756.64L713.25 756.64L706.67 761.42L709.18 769.16L702.6 764.38L696.02 769.16L698.53 761.42L691.95 756.64L700.09 756.64Z"/>
</g>
</g>
<g stroke="#000" stroke-width="1.15" stroke-linejoin="miter">
<g fill="#484ed6">
<path d="M1309.4 715.5l6.8 6.8l-6.8 6.8l-6.8 -6.8Z"/>
<path d="M1306.82 753.1l6.8 6.8l-6.8 6.8l-6.8 -6.8Z"/>
<path d="M1268.22 676.2l6.8 6.8l-6.8 6.8l-6.8 -6.8Z"/>
<path d="M1262.77 688.8l6.8 6.8l-6.8 6.8l-6.8 -6.8Z"/>
<path d="M1262.08 699.9l6.8 6.8l-6.8 6.8l-6.8 -6.8Z"/>
<path d="M1260 719.7l6.8 6.8l-6.8 6.8l-6.8 -6.8Z"/>
<path d="M1261.29 773.6l6.8 6.8l-6.8 6.8l-6.8 -6.8Z"/>
<path d="M1242.28 656.8l6.8 6.8l-6.8 6.8l-6.8 -6.8Z"/>
<path d="M1222.98 654.2l6.8 6.8l-6.8 6.8l-6.8 -6.8Z"/>
<path d="M1220.7 685l6.8 6.8l-6.8 6.8l-6.8 -6.8Z"/>
<path d="M1218.72 717.2l6.8 6.8l-6.8 6.8l-6.8 -6.8Z"/>
<path d="M1201.59 653.1l6.8 6.8l-6.8 6.8l-6.8 -6.8Z"/>
<path d="M1194.86 703.8l6.8 6.8l-6.8 6.8l-6.8 -6.8Z"/>
<path d="M1139.33 606.2l6.8 6.8l-6.8 6.8l-6.8 -6.8Z"/>
<path d="M1138.93 670.3l6.8 6.8l-6.8 6.8l-6.8 -6.8Z"/>
<path d="M1130.82 605.3l6.8 6.8l-6.8 6.8l-6.8 -6.8Z"/>
<path d="M1127.94 635l6.8 6.8l-6.8 6.8l-6.8 -6.8Z"/>
<path d="M1097.55 576.7l6.8 6.8l-6.8 6.8l-6.8 -6.8Z"/>
<path d="M1075.08 524.2l6.8 6.8l-6.8 6.8l-6.8 -6.8Z"/>
<path d="M1203.48 658.2l6.8 6.8l-6.8 6.8l-6.8 -6.8Z"/>
</g>
<g fill="#74b9fb">
<path d="M1236.14 726L1240.9 729.45L1239.08 735.05L1233.2 735.05L1231.39 729.45Z"/>
<path d="M1140.02 675.4L1144.78 678.85L1142.96 684.45L1137.08 684.45L1135.27 678.85Z"/>
<path d="M1138.24 627.4L1143 630.85L1141.18 636.45L1135.3 636.45L1133.48 630.85Z"/>
<path d="M1130.82 594.8L1135.57 598.25L1133.75 603.85L1127.88 603.85L1126.06 598.25Z"/>
<path d="M1131.61 608L1136.36 611.45L1134.55 617.05L1128.67 617.05L1126.85 611.45Z"/>
<path d="M1104.78 605.3L1109.54 608.75L1107.72 614.35L1101.84 614.35L1100.03 608.75Z"/>
</g>
<g fill="#4f9f4f">
<circle cx="1408.19" cy="805.1" r="5.2"/>
<circle cx="1365.03" cy="800.7" r="5.2"/>
<circle cx="1347.61" cy="785.9" r="5.2"/>
<circle cx="1310.98" cy="790.3" r="5.2"/>
<circle cx="1311.57" cy="797.8" r="5.2"/>
<circle cx="1293.06" cy="815" r="5.2"/>
<circle cx="1289.1" cy="802.2" r="5.2"/>
<circle cx="1277.22" cy="762.1" r="5.2"/>
<circle cx="1244.26" cy="797.8" r="5.2"/>
<circle cx="1233.97" cy="796.3" r="5.2"/>
<circle cx="1216.94" cy="805.7" r="5.2"/>
<circle cx="1215.06" cy="762.1" r="5.2"/>
<circle cx="1206.74" cy="806.2" r="5.2"/>
<circle cx="1198.43" cy="814.3" r="5.2"/>
<circle cx="1190.8" cy="766.1" r="5.2"/>
<circle cx="1177.84" cy="748.5" r="5.2"/>
<circle cx="1153.19" cy="706.9" r="5.2"/>
<circle cx="1144.97" cy="726.1" r="5.2"/>
<circle cx="1123.09" cy="680.4" r="5.2"/>
<circle cx="1112.5" cy="733.7" r="5.2"/>
<circle cx="1113.39" cy="728.4" r="5.2"/>
</g>
<g fill="#1c3043">
<path d="M1420.66 752.8L1415.76 762.6L1425.56 762.6Z"/>
<path d="M1379.19 740.9L1374.29 750.7L1384.09 750.7Z"/>
<path d="M1342.16 722.1L1337.26 731.9L1347.06 731.9Z"/>
<path d="M1290.19 747.3L1285.29 757.1L1295.09 757.1Z"/>
<path d="M1285.84 752.4L1280.94 762.2L1290.74 762.2Z"/>
<path d="M1390.77 828.4L1385.87 838.2L1395.67 838.2Z"/>
<path d="M1334.94 835.4L1330.04 845.2L1339.84 845.2Z"/>
<path d="M1332.36 757.6L1327.46 767.4L1337.26 767.4Z"/>
<path d="M1321.87 770.9L1316.97 780.7L1326.77 780.7Z"/>
<path d="M1302.17 833.2L1297.27 843L1307.07 843Z"/>
<path d="M1267.62 724.1L1262.72 733.9L1272.52 733.9Z"/>
<path d="M1248.22 732.3L1243.32 742.1L1253.12 742.1Z"/>
<path d="M1211.49 702.4L1206.59 712.2L1216.39 712.2Z"/>
<path d="M1199.81 705L1194.91 714.8L1204.71 714.8Z"/>
<path d="M1190.61 657.9L1185.71 667.7L1195.51 667.7Z"/>
<path d="M1192.09 771.1L1187.19 780.9L1196.99 780.9Z"/>
<path d="M1141.9 741L1137 750.8L1146.8 750.8Z"/>
</g>
<g fill="#ffffff">
<path d="M1450.56 803.1L1445.66 812.9L1455.46 812.9Z"/>
<path d="M1390.77 744L1385.87 753.8L1395.67 753.8Z"/>
<path d="M1382.95 741.4L1378.05 751.2L1387.85 751.2Z"/>
<path d="M1366.12 731.5L1361.22 741.3L1371.02 741.3Z"/>
<path d="M1362.16 818.5L1357.26 828.3L1367.06 828.3Z"/>
<path d="M1258.81 749.5L1253.91 759.3L1263.71 759.3Z"/>
<path d="M1239.41 747.3L1234.51 757.1L1244.31 757.1Z"/>
<path d="M1235.05 737.6L1230.15 747.4L1239.95 747.4Z"/>
<path d="M1226.44 734.8L1221.54 744.6L1231.34 744.6Z"/>
<path d="M1209.32 734.8L1204.42 744.6L1214.22 744.6Z"/>
</g>
<g fill="#ffffff">
<circle cx="1252.08" cy="810.8" r="5.2"/>
</g>
<g fill="#fafa33">
<path d="M1432.25 841.8L1434.76 849.54L1442.9 849.54L1436.31 854.32L1438.83 862.06L1432.25 857.28L1425.66 862.06L1428.18 854.32L1421.59 849.54L1429.73 849.54Z"/>
<path d="M1306.13 726.6L1308.64 734.34L1316.78 734.34L1310.2 739.12L1312.71 746.86L1306.13 742.08L1299.55 746.86L1302.06 739.12L1295.48 734.34L1303.62 734.34Z"/>
<path d="M1184.47 726L1186.98 733.74L1195.12 733.74L1188.54 738.52L1191.05 746.26L1184.47 741.48L1177.89 746.26L1180.4 738.52L1173.82 733.74L1181.95 733.74Z"/>
<path d="M1200.8 748.9L1203.32 756.64L1211.45 756.64L1204.87 761.42L1207.39 769.16L1200.8 764.38L1194.22 769.16L1196.73 761.42L1190.15 756.64L1198.29 756.64Z"/>
</g>
</g>
<rect x="139.3" y="17.9" width="436" height="440.4" fill="none" stroke="#000" stroke-width="2.8"/>
<rect x="601.5" y="17.9" width="436" height="440.4" fill="none" stroke="#000" stroke-width="2.8"/>
<rect x="139.3" y="485.25" width="436" height="440.35" fill="none" stroke="#000" stroke-width="2.8"/>
<rect x="601.5" y="485.25" width="436" height="440.35" fill="none" stroke="#000" stroke-width="2.8"/>
<rect x="1063.6" y="485.25" width="436" height="440.35" fill="none" stroke="#000" stroke-width="2.8"/>
<path d="M1063.5 370.22h13.8 M1103.5 370.22h-13.8M1063.5 282.14h13.8 M1103.5 282.14h-13.8M1063.5 194.06h13.8 M1103.5 194.06h-13.8M1063.5 105.98h13.8 M1103.5 105.98h-13.8" stroke="#000" stroke-width="2.0" fill="none"/>
<path d="M1063.5 431.79h6.9 M1103.5 431.79h-6.9M1063.5 416.28h6.9 M1103.5 416.28h-6.9M1063.5 405.27h6.9 M1103.5 405.27h-6.9M1063.5 396.73h6.9 M1103.5 396.73h-6.9M1063.5 389.76h6.9 M1103.5 389.76h-6.9M1063.5 383.86h6.9 M1103.5 383.86h-6.9M1063.5 378.76h6.9 M1103.5 378.76h-6.9M1063.5 374.25h6.9 M1103.5 374.25h-6.9M1063.5 343.71h6.9 M1103.5 343.71h-6.9M1063.5 328.2h6.9 M1103.5 328.2h-6.9M1063.5 317.19h6.9 M1103.5 317.19h-6.9M1063.5 308.65h6.9 M1103.5 308.65h-6.9M1063.5 301.68h6.9 M1103.5 301.68h-6.9M1063.5 295.78h6.9 M1103.5 295.78h-6.9M1063.5 290.68h6.9 M1103.5 290.68h-6.9M1063.5 286.17h6.9 M1103.5 286.17h-6.9M1063.5 255.63h6.9 M1103.5 255.63h-6.9M1063.5 240.12h6.9 M1103.5 240.12h-6.9M1063.5 229.11h6.9 M1103.5 229.11h-6.9M1063.5 220.57h6.9 M1103.5 220.57h-6.9M1063.5 213.6h6.9 M1103.5 213.6h-6.9M1063.5 207.7h6.9 M1103.5 207.7h-6.9M1063.5 202.6h6.9 M1103.5 202.6h-6.9M1063.5 198.09h6.9 M1103.5 198.09h-6.9M1063.5 167.55h6.9 M1103.5 167.55h-6.9M1063.5 152.04h6.9 M1103.5 152.04h-6.9M1063.5 141.03h6.9 M1103.5 141.03h-6.9M1063.5 132.49h6.9 M1103.5 132.49h-6.9M1063.5 125.52h6.9 M1103.5 125.52h-6.9M1063.5 119.62h6.9 M1103.5 119.62h-6.9M1063.5 114.52h6.9 M1103.5 114.52h-6.9M1063.5 110.01h6.9 M1103.5 110.01h-6.9M1063.5 79.47h6.9 M1103.5 79.47h-6.9M1063.5 63.96h6.9 M1103.5 63.96h-6.9M1063.5 52.95h6.9 M1103.5 52.95h-6.9M1063.5 44.41h6.9 M1103.5 44.41h-6.9M1063.5 37.44h6.9 M1103.5 37.44h-6.9M1063.5 31.54h6.9 M1103.5 31.54h-6.9M1063.5 26.44h6.9 M1103.5 26.44h-6.9M1063.5 21.93h6.9 M1103.5 21.93h-6.9" stroke="#000" stroke-width="1.5" fill="none"/>
<rect x="1063.5" y="17.9" width="40" height="440.4" fill="none" stroke="#000" stroke-width="2.8"/>
<text x="127.9" y="442.38" font-size="34.7" text-anchor="end">10</text>
<text x="127.9" y="368.98" font-size="34.7" text-anchor="end">30</text>
<text x="127.9" y="295.58" font-size="34.7" text-anchor="end">50</text>
<text x="127.9" y="222.17" font-size="34.7" text-anchor="end">70</text>
<text x="127.9" y="148.78" font-size="34.7" text-anchor="end">90</text>
<text x="127.9" y="75.37" font-size="34.7" text-anchor="end">110</text>
<text x="127.7" y="937.2" font-size="34.7" text-anchor="end">1</text>
<text transform="translate(84.8 940.8) scale(1.2 1)" font-size="34.7">−</text>
<text x="127.7" y="849.13" font-size="34.7" text-anchor="end">0</text>
<text x="127.7" y="761.06" font-size="34.7" text-anchor="end">1</text>
<text x="127.7" y="672.99" font-size="34.7" text-anchor="end">2</text>
<text x="127.7" y="584.92" font-size="34.7" text-anchor="end">3</text>
<text x="127.7" y="496.85" font-size="34.7" text-anchor="end">4</text>
<text x="170.44" y="960.7" font-size="34.7" text-anchor="middle">0.1</text>
<text x="295.01" y="960.7" font-size="34.7" text-anchor="middle">0.2</text>
<text x="419.59" y="960.7" font-size="34.7" text-anchor="middle">0.3</text>
<text x="544.16" y="960.7" font-size="34.7" text-anchor="middle">0.4</text>
<text x="635.92" y="960.7" font-size="34.7" text-anchor="middle">200</text>
<text x="727.71" y="960.7" font-size="34.7" text-anchor="middle">600</text>
<text x="819.5" y="960.7" font-size="34.7" text-anchor="middle">1000</text>
<text x="911.29" y="960.7" font-size="34.7" text-anchor="middle">1400</text>
<text x="1003.08" y="960.7" font-size="34.7" text-anchor="middle">1800</text>
<text x="1090.85" y="960.7" font-size="34.7" text-anchor="middle">10</text>
<text x="1163.52" y="960.7" font-size="34.7" text-anchor="middle">30</text>
<text x="1236.18" y="960.7" font-size="34.7" text-anchor="middle">50</text>
<text x="1308.85" y="960.7" font-size="34.7" text-anchor="middle">70</text>
<text x="1381.52" y="960.7" font-size="34.7" text-anchor="middle">90</text>
<text x="1454.18" y="960.7" font-size="34.7" text-anchor="middle">110</text>
<text x="1116.1" y="470.1" font-size="34.7">10</text>
<text transform="translate(1151.2 459.9) scale(1.27 1)" font-size="24.3">−</text>
<text x="1169.4" y="458" font-size="24.3">1</text>
<text x="1116.1" y="382.02" font-size="34.7">10<tspan font-size="24.3" dy="-12.6">0</tspan></text>
<text x="1116.1" y="293.94" font-size="34.7">10<tspan font-size="24.3" dy="-12.6">1</tspan></text>
<text x="1116.1" y="205.86" font-size="34.7">10<tspan font-size="24.3" dy="-12.6">2</tspan></text>
<text x="1116.1" y="117.78" font-size="34.7">10<tspan font-size="24.3" dy="-12.6">3</tspan></text>
<text x="1116.1" y="29.7" font-size="34.7">10<tspan font-size="24.3" dy="-12.6">4</tspan></text>
<text x="158.3" y="57.5" font-size="34.7" text-anchor="start">a)</text>
<text x="616.9" y="57.5" font-size="34.7" text-anchor="start">b)</text>
<text x="157.6" y="524.8" font-size="34.7" text-anchor="start">c)</text>
<text x="615.6" y="524.8" font-size="34.7" text-anchor="start">d)</text>
<text x="1077.6" y="524.8" font-size="34.7" text-anchor="start">e)</text>
<text transform="translate(263.3 1010.5) scale(1.36 1.04)" font-size="34.7" font-style="italic">σ</text>
<text x="287.6" y="998.0" font-size="24.3">A</text>
<text x="315.3" y="1010.5" font-size="34.7">[Unitless]</text>
<text x="756" y="1005.6" font-size="34.7">Θ<tspan font-size="24.3" dy="5.1" letter-spacing="0.5">D,∞</tspan></text>
<text x="834.5" y="1005.6" font-size="34.7">[K]</text>
<g transform="translate(47.4 970) rotate(-90) scale(1.0)"><text x="0.6" y="0" font-size="34.7" font-style="italic">E</text><text x="20" y="12.5" font-size="24.5" font-family="'DejaVu Math TeX Gyre','DejaVu Serif',serif">𝒳</text><text x="29.9" y="6" font-size="26">ˆ</text><text transform="translate(53.9 8.6) scale(1.36 2.06)" font-size="34.7" stroke="#fff" stroke-width="1.5" vector-effect="non-scaling-stroke">(</text><text x="77.6" y="0" font-size="34.7" font-style="italic" font-weight="bold">κ</text><text x="97.6" y="-13.7" font-size="24.3">SISSO</text><text x="174" y="0" font-size="34.7">(300K)</text><text transform="translate(275.6 2.6) scale(1 1.38)" font-size="34.7">|</text><text x="290.5" y="0" font-size="29.5" font-family="'DejaVu Math TeX Gyre','DejaVu Serif',serif">𝒳</text><text x="300.6" y="-10.1" font-size="34.4">ˆ</text><text transform="translate(319.4 8.6) scale(1.36 2.06)" font-size="34.7" stroke="#fff" stroke-width="1.5" vector-effect="non-scaling-stroke">)</text><text transform="translate(353 3.6) scale(1 1.44)" font-size="34.7">[</text><text x="363.4" y="0" font-size="34.7">Wm</text><text transform="translate(424.6 -11.2) scale(1.27 1)" font-size="24.3">−</text><text x="440" y="-13.1" font-size="24.3">1</text><text x="456.1" y="0" font-size="34.7">K</text><text transform="translate(485.5 -11.2) scale(1.27 1)" font-size="24.3">−</text><text x="501.8" y="-13.1" font-size="24.3">1</text><text transform="translate(512.5 3.6) scale(1 1.44)" font-size="34.7">]</text></g>
<g transform="translate(1228.5 451.3) rotate(-90) scale(0.807)"><text x="0.6" y="0" font-size="34.7" font-style="italic">E</text><text x="20" y="12.5" font-size="24.5" font-family="'DejaVu Math TeX Gyre','DejaVu Serif',serif">𝒳</text><text x="29.9" y="6" font-size="26">ˆ</text><text transform="translate(53.9 8.6) scale(1.36 2.06)" font-size="34.7" stroke="#fff" stroke-width="1.5" vector-effect="non-scaling-stroke">(</text><text x="77.6" y="0" font-size="34.7" font-style="italic" font-weight="bold">κ</text><text x="97.6" y="-13.7" font-size="24.3">SISSO</text><text x="174" y="0" font-size="34.7">(300K)</text><text transform="translate(275.6 2.6) scale(1 1.38)" font-size="34.7">|</text><text x="290.5" y="0" font-size="29.5" font-family="'DejaVu Math TeX Gyre','DejaVu Serif',serif">𝒳</text><text x="300.6" y="-10.1" font-size="34.4">ˆ</text><text transform="translate(319.4 8.6) scale(1.36 2.06)" font-size="34.7" stroke="#fff" stroke-width="1.5" vector-effect="non-scaling-stroke">)</text><text transform="translate(353 3.6) scale(1 1.44)" font-size="34.7">[</text><text x="363.4" y="0" font-size="34.7">Wm</text><text transform="translate(424.6 -11.2) scale(1.27 1)" font-size="24.3">−</text><text x="440" y="-13.1" font-size="24.3">1</text><text x="456.1" y="0" font-size="34.7">K</text><text transform="translate(485.5 -11.2) scale(1.27 1)" font-size="24.3">−</text><text x="501.8" y="-13.1" font-size="24.3">1</text><text transform="translate(512.5 3.6) scale(1 1.44)" font-size="34.7">]</text></g>
<g transform="translate(1221.3 1022.7)"><text x="0" y="0" font-size="34.7" font-style="italic">V</text><text x="19.6" y="4.1" font-size="24.3">m</text><text transform="translate(54.8 12.4) scale(0.85 2.3)" font-size="34.7" stroke="#fff" stroke-width="0.5">[</text><text x="65.5" y="-0.5" font-size="34.7">Å</text><text x="90.9" y="-20.6" font-size="24.3">3</text><text transform="translate(105.2 12.4) scale(0.85 2.3)" font-size="34.7" stroke="#fff" stroke-width="0.5">]</text></g>
<g transform="translate(39.8 298.6) rotate(-90)"><text x="0" y="0" font-size="34.7" font-style="italic">V</text><text x="19.6" y="4.1" font-size="24.3">m</text><text transform="translate(54.8 12.4) scale(0.85 2.3)" font-size="34.7" stroke="#fff" stroke-width="0.5">[</text><text x="65.5" y="-0.5" font-size="34.7">Å</text><text x="90.9" y="-20.6" font-size="24.3">3</text><text transform="translate(105.2 12.4) scale(0.85 2.3)" font-size="34.7" stroke="#fff" stroke-width="0.5">]</text></g>
</svg>
</body></html>
